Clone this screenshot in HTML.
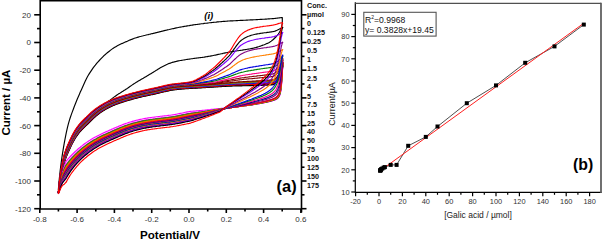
<!DOCTYPE html>
<html><head><meta charset="utf-8"><title>CV</title>
<style>
html,body{margin:0;padding:0;background:#fff;}
svg{display:block}
text{font-family:"Liberation Sans",sans-serif;fill:#222}
.tk{font-size:8px;fill:#333}
.tb{font-size:7.4px;fill:#333}
.lg{font-size:7.2px;font-weight:bold;fill:#111}
.cv path{fill:none;stroke-width:1.15;stroke-linejoin:round}
.ax path{fill:none;stroke:#000;stroke-width:1.6}
.bx path{fill:none;stroke:#000;stroke-width:1.2}
</style></head><body>
<svg width="602" height="240" viewBox="0 0 602 240">
<rect width="602" height="240" fill="#fff"/>
<g class="cv">
<path d="M58.3 190.0 L59.3 178.9 L60.3 169.5 L61.3 161.7 L62.3 154.8 L63.3 148.6 L64.3 142.9 L65.3 137.6 L66.3 132.7 L67.3 128.2 L68.3 124.2 L69.3 120.6 L70.3 117.5 L71.3 114.6 L72.3 111.9 L73.3 109.2 L74.3 106.5 L75.3 104.0 L76.3 101.5 L77.3 99.0 L78.3 96.7 L79.3 94.4 L80.3 92.1 L81.3 89.9 L82.3 87.7 L83.3 85.4 L84.3 83.2 L85.3 81.0 L86.3 78.9 L87.3 77.0 L88.3 75.3 L89.3 73.6 L90.3 72.1 L91.3 70.6 L92.3 69.1 L93.3 67.7 L94.3 66.4 L95.3 65.2 L96.3 63.9 L97.3 62.7 L98.3 61.6 L99.3 60.5 L100.3 59.4 L101.3 58.3 L102.3 57.3 L103.3 56.3 L104.3 55.4 L105.3 54.5 L106.3 53.6 L107.3 52.8 L108.3 52.0 L109.3 51.2 L110.3 50.4 L111.3 49.6 L112.3 48.9 L113.3 48.2 L114.3 47.6 L115.3 47.0 L116.3 46.4 L117.3 45.8 L118.3 45.3 L119.3 44.8 L120.3 44.3 L121.3 43.8 L122.3 43.4 L123.3 42.9 L124.3 42.5 L125.3 42.0 L126.3 41.6 L127.3 41.2 L128.3 40.7 L129.3 40.3 L130.3 39.9 L131.3 39.5 L132.3 39.1 L133.3 38.7 L134.3 38.3 L135.3 38.0 L136.3 37.7 L137.3 37.4 L138.3 37.1 L139.3 36.8 L140.3 36.5 L141.3 36.3 L142.3 36.0 L143.3 35.8 L144.3 35.5 L145.3 35.3 L146.3 35.0 L147.3 34.8 L148.3 34.6 L149.3 34.3 L150.3 34.1 L151.3 33.8 L152.3 33.6 L153.3 33.4 L154.3 33.1 L155.3 32.9 L156.3 32.6 L157.3 32.4 L158.3 32.1 L159.3 31.9 L160.3 31.6 L161.3 31.4 L162.3 31.1 L163.3 30.9 L164.3 30.6 L165.3 30.4 L166.3 30.2 L167.3 29.9 L168.3 29.7 L169.3 29.5 L170.3 29.2 L171.3 29.0 L172.3 28.8 L173.3 28.6 L174.3 28.4 L175.3 28.1 L176.3 27.9 L177.3 27.7 L178.3 27.5 L179.3 27.3 L180.3 27.1 L181.3 27.0 L182.3 26.8 L183.3 26.6 L184.3 26.4 L185.3 26.3 L186.3 26.1 L187.3 25.9 L188.3 25.7 L189.3 25.6 L190.3 25.4 L191.3 25.3 L192.3 25.1 L193.3 24.9 L194.3 24.8 L195.3 24.6 L196.3 24.5 L197.3 24.4 L198.3 24.2 L199.3 24.1 L200.3 24.0 L201.3 23.8 L202.3 23.7 L203.3 23.6 L204.3 23.4 L205.3 23.3 L206.3 23.2 L207.3 23.1 L208.3 23.0 L209.3 22.8 L210.3 22.7 L211.3 22.6 L212.3 22.5 L213.3 22.4 L214.3 22.3 L215.3 22.2 L216.3 22.1 L217.3 21.9 L218.3 21.9 L219.3 21.8 L220.3 21.7 L221.3 21.6 L222.3 21.5 L223.3 21.4 L224.3 21.3 L225.3 21.3 L226.3 21.2 L227.3 21.1 L228.3 21.0 L229.3 21.0 L230.3 20.9 L231.3 20.9 L232.3 20.8 L233.3 20.8 L234.3 20.7 L235.3 20.7 L236.3 20.6 L237.3 20.6 L238.3 20.5 L239.3 20.5 L240.3 20.4 L241.3 20.4 L242.3 20.3 L243.3 20.3 L244.3 20.2 L245.3 20.2 L246.3 20.1 L247.3 20.1 L248.3 20.0 L249.3 20.0 L250.3 19.9 L251.3 19.9 L252.3 19.8 L253.3 19.8 L254.3 19.7 L255.3 19.7 L256.3 19.6 L257.3 19.6 L258.3 19.5 L259.3 19.5 L260.3 19.4 L261.3 19.3 L262.3 19.3 L263.3 19.2 L264.3 19.2 L265.3 19.1 L266.3 19.1 L267.3 19.0 L268.3 18.9 L269.3 18.9 L270.3 18.8 L271.3 18.7 L272.3 18.6 L273.3 18.6 L274.3 18.5 L275.3 18.4 L276.3 18.3 L277.3 18.1 L278.3 18.0 L279.3 17.9 L280.3 17.8 L281.3 17.6 L282.3 17.5 L282.3 23.0 L281.3 28.6 L280.3 30.9 L279.3 32.5 L278.3 34.0 L277.3 35.3 L276.3 36.5 L275.3 37.5 L274.3 38.5 L273.3 39.5 L272.3 40.3 L271.3 41.1 L270.3 41.8 L269.3 42.4 L268.3 42.9 L267.3 43.4 L266.3 43.8 L265.3 44.3 L264.3 44.7 L263.3 45.0 L262.3 45.4 L261.3 45.8 L260.3 46.1 L259.3 46.5 L258.3 46.8 L257.3 47.1 L256.3 47.4 L255.3 47.7 L254.3 47.9 L253.3 48.2 L252.3 48.4 L251.3 48.6 L250.3 48.8 L249.3 49.0 L248.3 49.1 L247.3 49.3 L246.3 49.5 L245.3 49.6 L244.3 49.8 L243.3 49.9 L242.3 50.1 L241.3 50.2 L240.3 50.4 L239.3 50.5 L238.3 50.7 L237.3 50.8 L236.3 51.0 L235.3 51.1 L234.3 51.3 L233.3 51.4 L232.3 51.6 L231.3 51.8 L230.3 51.9 L229.3 52.1 L228.3 52.3 L227.3 52.5 L226.3 52.7 L225.3 52.9 L224.3 53.1 L223.3 53.3 L222.3 53.6 L221.3 53.8 L220.3 54.0 L219.3 54.2 L218.3 54.4 L217.3 54.6 L216.3 54.9 L215.3 55.1 L214.3 55.3 L213.3 55.5 L212.3 55.7 L211.3 55.9 L210.3 56.1 L209.3 56.3 L208.3 56.4 L207.3 56.6 L206.3 56.8 L205.3 56.9 L204.3 57.1 L203.3 57.2 L202.3 57.4 L201.3 57.5 L200.3 57.6 L199.3 57.8 L198.3 57.9 L197.3 58.0 L196.3 58.1 L195.3 58.3 L194.3 58.4 L193.3 58.5 L192.3 58.7 L191.3 58.8 L190.3 59.0 L189.3 59.1 L188.3 59.3 L187.3 59.4 L186.3 59.5 L185.3 59.7 L184.3 59.9 L183.3 60.0 L182.3 60.2 L181.3 60.4 L180.3 60.5 L179.3 60.7 L178.3 60.9 L177.3 61.1 L176.3 61.4 L175.3 61.6 L174.3 61.9 L173.3 62.1 L172.3 62.4 L171.3 62.7 L170.3 63.1 L169.3 63.4 L168.3 63.8 L167.3 64.3 L166.3 64.7 L165.3 65.2 L164.3 65.7 L163.3 66.2 L162.3 66.7 L161.3 67.2 L160.3 67.8 L159.3 68.4 L158.3 69.0 L157.3 69.7 L156.3 70.3 L155.3 70.9 L154.3 71.6 L153.3 72.2 L152.3 72.8 L151.3 73.4 L150.3 74.0 L149.3 74.6 L148.3 75.2 L147.3 75.8 L146.3 76.4 L145.3 77.0 L144.3 77.6 L143.3 78.2 L142.3 78.7 L141.3 79.3 L140.3 79.9 L139.3 80.5 L138.3 81.1 L137.3 81.7 L136.3 82.3 L135.3 82.9 L134.3 83.6 L133.3 84.2 L132.3 84.9 L131.3 85.6 L130.3 86.3 L129.3 87.0 L128.3 87.7 L127.3 88.4 L126.3 89.0 L125.3 89.7 L124.3 90.3 L123.3 91.0 L122.3 91.6 L121.3 92.2 L120.3 92.9 L119.3 93.5 L118.3 94.1 L117.3 94.8 L116.3 95.5 L115.3 96.2 L114.3 96.9 L113.3 97.6 L112.3 98.4 L111.3 99.1 L110.3 99.9 L109.3 100.6 L108.3 101.3 L107.3 102.1 L106.3 102.8 L105.3 103.5 L104.3 104.2 L103.3 104.9 L102.3 105.7 L101.3 106.4 L100.3 107.1 L99.3 107.8 L98.3 108.5 L97.3 109.1 L96.3 109.8 L95.3 110.6 L94.3 111.4 L93.3 112.3 L92.3 113.3 L91.3 114.4 L90.3 115.4 L89.3 116.5 L88.3 117.5 L87.3 118.5 L86.3 119.4 L85.3 120.2 L84.3 121.1 L83.3 121.9 L82.3 122.8 L81.3 123.7 L80.3 124.7 L79.3 125.8 L78.3 126.9 L77.3 128.1 L76.3 129.4 L75.3 130.8 L74.3 132.5 L73.3 134.5 L72.3 136.7 L71.3 138.9 L70.3 141.0 L69.3 143.2 L68.3 145.4 L67.3 147.8 L66.3 150.4 L65.3 153.2 L64.3 156.4 L63.3 159.9 L62.3 163.8 L61.3 168.5 L60.3 174.1 L59.3 181.3 L58.3 190.0" stroke="#000"/>
<path d="M58.3 193.0 L59.3 184.0 L60.3 177.0 L61.3 172.3 L62.3 168.6 L63.3 165.4 L64.3 162.6 L65.3 159.6 L66.3 156.9 L67.3 154.4 L68.3 152.1 L69.3 149.9 L70.3 147.7 L71.3 145.6 L72.3 143.6 L73.3 141.7 L74.3 140.0 L75.3 138.3 L76.3 136.7 L77.3 135.3 L78.3 133.9 L79.3 132.7 L80.3 131.5 L81.3 130.4 L82.3 129.4 L83.3 128.4 L84.3 127.4 L85.3 126.4 L86.3 125.4 L87.3 124.5 L88.3 123.5 L89.3 122.5 L90.3 121.5 L91.3 120.5 L92.3 119.5 L93.3 118.6 L94.3 117.6 L95.3 116.8 L96.3 115.9 L97.3 115.1 L98.3 114.3 L99.3 113.5 L100.3 112.8 L101.3 112.1 L102.3 111.5 L103.3 110.8 L104.3 110.2 L105.3 109.6 L106.3 109.0 L107.3 108.4 L108.3 107.9 L109.3 107.4 L110.3 106.9 L111.3 106.4 L112.3 106.0 L113.3 105.5 L114.3 105.1 L115.3 104.7 L116.3 104.3 L117.3 103.9 L118.3 103.6 L119.3 103.2 L120.3 102.9 L121.3 102.6 L122.3 102.2 L123.3 101.9 L124.3 101.6 L125.3 101.3 L126.3 101.0 L127.3 100.7 L128.3 100.4 L129.3 100.1 L130.3 99.9 L131.3 99.6 L132.3 99.3 L133.3 99.0 L134.3 98.7 L135.3 98.5 L136.3 98.2 L137.3 98.0 L138.3 97.7 L139.3 97.5 L140.3 97.2 L141.3 97.0 L142.3 96.8 L143.3 96.5 L144.3 96.3 L145.3 96.1 L146.3 95.9 L147.3 95.6 L148.3 95.4 L149.3 95.2 L150.3 95.0 L151.3 94.8 L152.3 94.6 L153.3 94.4 L154.3 94.1 L155.3 93.9 L156.3 93.7 L157.3 93.5 L158.3 93.2 L159.3 93.0 L160.3 92.8 L161.3 92.5 L162.3 92.3 L163.3 92.0 L164.3 91.8 L165.3 91.6 L166.3 91.3 L167.3 91.1 L168.3 90.9 L169.3 90.7 L170.3 90.5 L171.3 90.3 L172.3 90.2 L173.3 90.0 L174.3 89.9 L175.3 89.7 L176.3 89.6 L177.3 89.5 L178.3 89.4 L179.3 89.3 L180.3 89.2 L181.3 89.1 L182.3 89.0 L183.3 88.9 L184.3 88.8 L185.3 88.8 L186.3 88.7 L187.3 88.6 L188.3 88.6 L189.3 88.5 L190.3 88.5 L191.3 88.4 L192.3 88.4 L193.3 88.3 L194.3 88.2 L195.3 88.2 L196.3 88.1 L197.3 88.1 L198.3 88.0 L199.3 88.0 L200.3 87.9 L201.3 87.8 L202.3 87.8 L203.3 87.7 L204.3 87.7 L205.3 87.6 L206.3 87.5 L207.3 87.5 L208.3 87.4 L209.3 87.4 L210.3 87.3 L211.3 87.2 L212.3 87.2 L213.3 87.1 L214.3 87.0 L215.3 87.0 L216.3 86.9 L217.3 86.8 L218.3 86.8 L219.3 86.7 L220.3 86.6 L221.3 86.6 L222.3 86.5 L223.3 86.4 L224.3 86.4 L225.3 86.3 L226.3 86.3 L227.3 86.2 L228.3 86.2 L229.3 86.1 L230.3 86.1 L231.3 86.1 L232.3 86.0 L233.3 86.0 L234.3 85.9 L235.3 85.9 L236.3 85.9 L237.3 85.9 L238.3 85.8 L239.3 85.8 L240.3 85.8 L241.3 85.8 L242.3 85.8 L243.3 85.7 L244.3 85.7 L245.3 85.7 L246.3 85.7 L247.3 85.6 L248.3 85.6 L249.3 85.6 L250.3 85.6 L251.3 85.6 L252.3 85.5 L253.3 85.5 L254.3 85.5 L255.3 85.5 L256.3 85.4 L257.3 85.4 L258.3 85.4 L259.3 85.3 L260.3 85.3 L261.3 85.3 L262.3 85.3 L263.3 85.2 L264.3 85.2 L265.3 85.2 L266.3 85.1 L267.3 85.1 L268.0 85.1 L268.5 85.0 L269.0 85.0 L269.5 85.0 L270.0 85.0 L270.5 85.0 L271.0 85.0 L271.5 84.9 L272.0 84.9 L272.5 84.8 L273.0 84.7 L273.5 84.5 L274.0 84.3 L274.5 84.0 L275.0 83.7 L275.5 83.3 L276.0 82.9 L276.5 82.4 L277.0 81.8 L277.5 81.1 L278.0 80.3 L278.5 79.4 L279.0 78.3 L279.5 77.2 L280.0 76.0 L280.5 74.6 L281.0 73.1 L281.5 71.4 L282.0 69.7 L282.5 67.7 L283.0 65.6" stroke="#000000"/>
<path d="M283.0 65.6 L282.8 66.9 L282.5 70.0 L282.2 74.1 L282.0 78.3 L281.8 82.0 L281.5 85.1 L281.2 87.6 L281.0 89.6 L280.8 91.2 L280.5 92.5 L280.2 93.6 L280.0 94.5 L279.8 95.2 L279.5 95.8 L279.2 96.3 L279.0 96.7 L278.8 97.1 L278.5 97.5 L278.2 97.7 L278.0 98.0 L277.8 98.2 L277.5 98.5 L277.2 98.7 L277.0 98.8 L276.8 99.0 L276.5 99.2 L276.2 99.3 L276.0 99.4 L275.8 99.5 L275.5 99.7 L275.2 99.8 L275.0 99.9 L274.8 100.0 L274.5 100.1 L274.2 100.2 L274.0 100.2 L273.8 100.3 L273.5 100.4 L273.2 100.5 L273.0 100.6 L272.8 100.6 L272.5 100.7 L272.2 100.8 L272.0 100.9 L271.8 100.9 L271.5 101.0 L271.2 101.1 L271.0 101.1 L270.8 101.2 L270.5 101.3 L270.2 101.3 L270.0 101.4 L269.8 101.4 L269.5 101.5 L269.2 101.6 L269.0 101.6 L268.8 101.7 L268.5 101.7 L268.2 101.8 L268.0 101.9 L267.8 101.9 L267.5 102.0 L267.2 102.0 L267.0 102.1 L266.8 102.1 L266.5 102.2 L266.2 102.2 L266.0 102.3 L265.8 102.3 L265.5 102.4 L265.2 102.4 L265.0 102.5 L264.8 102.5 L264.5 102.6 L264.2 102.6 L264.0 102.7 L263.8 102.7 L263.5 102.8 L263.2 102.8 L263.0 102.9 L262.8 102.9 L262.5 103.0 L262.2 103.0 L262.0 103.1 L261.3 103.2 L260.3 103.4 L259.3 103.6 L258.3 103.7 L257.3 103.9 L256.3 104.1 L255.3 104.3 L254.3 104.4 L253.3 104.6 L252.3 104.8 L251.3 104.9 L250.3 105.1 L249.3 105.2 L248.3 105.3 L247.3 105.4 L246.3 105.6 L245.3 105.7 L244.3 105.8 L243.3 105.9 L242.3 106.1 L241.3 106.2 L240.3 106.3 L239.3 106.4 L238.3 106.6 L237.3 106.7 L236.3 106.8 L235.3 106.9 L234.3 107.0 L233.3 107.1 L232.3 107.2 L231.3 107.4 L230.3 107.5 L229.3 107.6 L228.3 107.7 L227.3 107.8 L226.3 108.0 L225.3 108.1 L224.3 108.2 L223.3 108.3 L222.3 108.3 L221.3 108.4 L220.3 108.5 L219.3 108.6 L218.3 108.7 L217.3 108.8 L216.3 108.9 L215.3 109.0 L214.3 109.1 L213.3 109.2 L212.3 109.3 L211.3 109.4 L210.3 109.6 L209.3 109.7 L208.3 109.8 L207.3 109.9 L206.3 110.0 L205.3 110.1 L204.3 110.2 L203.3 110.3 L202.3 110.4 L201.3 110.5 L200.3 110.6 L199.3 110.6 L198.3 110.7 L197.3 110.8 L196.3 110.9 L195.3 111.0 L194.3 111.1 L193.3 111.1 L192.3 111.2 L191.3 111.3 L190.3 111.4 L189.3 111.5 L188.3 111.7 L187.3 111.9 L186.3 112.1 L185.3 112.3 L184.3 112.5 L183.3 112.8 L182.3 113.0 L181.3 113.2 L180.3 113.4 L179.3 113.6 L178.3 113.8 L177.3 114.0 L176.3 114.2 L175.3 114.4 L174.3 114.5 L173.3 114.7 L172.3 114.9 L171.3 115.0 L170.3 115.2 L169.3 115.3 L168.3 115.4 L167.3 115.5 L166.3 115.7 L165.3 115.8 L164.3 115.9 L163.3 116.0 L162.3 116.1 L161.3 116.2 L160.3 116.3 L159.3 116.5 L158.3 116.6 L157.3 116.7 L156.3 116.8 L155.3 117.0 L154.3 117.1 L153.3 117.2 L152.3 117.3 L151.3 117.5 L150.3 117.6 L149.3 117.8 L148.3 117.9 L147.3 118.1 L146.3 118.3 L145.3 118.4 L144.3 118.6 L143.3 118.8 L142.3 119.0 L141.3 119.2 L140.3 119.4 L139.3 119.6 L138.3 119.9 L137.3 120.1 L136.3 120.3 L135.3 120.6 L134.3 120.9 L133.3 121.1 L132.3 121.4 L131.3 121.7 L130.3 122.0 L129.3 122.3 L128.3 122.6 L127.3 123.0 L126.3 123.3 L125.3 123.6 L124.3 124.0 L123.3 124.4 L122.3 124.8 L121.3 125.2 L120.3 125.6 L119.3 126.0 L118.3 126.4 L117.3 126.9 L116.3 127.3 L115.3 127.7 L114.3 128.1 L113.3 128.6 L112.3 129.0 L111.3 129.4 L110.3 129.9 L109.3 130.3 L108.3 130.8 L107.3 131.2 L106.3 131.6 L105.3 132.1 L104.3 132.5 L103.3 133.0 L102.3 133.5 L101.3 133.9 L100.3 134.4 L99.3 134.9 L98.3 135.4 L97.3 135.9 L96.3 136.5 L95.3 137.0 L94.3 137.6 L93.3 138.1 L92.3 138.7 L91.3 139.3 L90.3 139.9 L89.3 140.6 L88.3 141.2 L87.3 141.9 L86.3 142.6 L85.3 143.3 L84.3 144.0 L83.3 144.8 L82.3 145.6 L81.3 146.3 L80.3 147.2 L79.3 148.0 L78.3 148.8 L77.3 149.7 L76.3 150.6 L75.3 151.5 L74.3 152.5 L73.3 153.5 L72.3 154.5 L71.3 155.5 L70.3 156.5 L69.3 157.6 L68.3 158.7 L67.3 159.8 L66.3 160.9 L65.3 163.1 L64.3 165.5 L63.3 169.0 L62.3 172.8 L61.3 177.3 L60.3 182.4 L59.3 187.8 L58.3 193.0" stroke="#ff00ff"/>
<path d="M58.3 193.0 L59.3 183.9 L60.3 176.8 L61.3 172.1 L62.3 168.3 L63.3 165.0 L64.3 162.1 L65.3 159.1 L66.3 156.4 L67.3 154.0 L68.3 151.6 L69.3 149.4 L70.3 147.2 L71.3 145.1 L72.3 143.1 L73.3 141.2 L74.3 139.5 L75.3 137.8 L76.3 136.2 L77.3 134.8 L78.3 133.4 L79.3 132.2 L80.3 131.1 L81.3 130.0 L82.3 128.9 L83.3 127.9 L84.3 126.9 L85.3 126.0 L86.3 125.0 L87.3 124.0 L88.3 123.0 L89.3 122.0 L90.3 121.0 L91.3 120.1 L92.3 119.1 L93.3 118.1 L94.3 117.2 L95.3 116.3 L96.3 115.5 L97.3 114.7 L98.3 113.9 L99.3 113.1 L100.3 112.4 L101.3 111.7 L102.3 111.1 L103.3 110.4 L104.3 109.8 L105.3 109.2 L106.3 108.6 L107.3 108.1 L108.3 107.5 L109.3 107.0 L110.3 106.5 L111.3 106.1 L112.3 105.6 L113.3 105.2 L114.3 104.8 L115.3 104.4 L116.3 104.0 L117.3 103.6 L118.3 103.2 L119.3 102.9 L120.3 102.5 L121.3 102.2 L122.3 101.9 L123.3 101.6 L124.3 101.3 L125.3 101.0 L126.3 100.7 L127.3 100.4 L128.3 100.1 L129.3 99.8 L130.3 99.5 L131.3 99.2 L132.3 98.9 L133.3 98.7 L134.3 98.4 L135.3 98.1 L136.3 97.9 L137.3 97.6 L138.3 97.4 L139.3 97.1 L140.3 96.9 L141.3 96.6 L142.3 96.4 L143.3 96.2 L144.3 96.0 L145.3 95.7 L146.3 95.5 L147.3 95.3 L148.3 95.1 L149.3 94.9 L150.3 94.7 L151.3 94.4 L152.3 94.2 L153.3 94.0 L154.3 93.8 L155.3 93.6 L156.3 93.4 L157.3 93.1 L158.3 92.9 L159.3 92.7 L160.3 92.4 L161.3 92.2 L162.3 91.9 L163.3 91.7 L164.3 91.5 L165.3 91.2 L166.3 91.0 L167.3 90.8 L168.3 90.6 L169.3 90.4 L170.3 90.2 L171.3 90.0 L172.3 89.8 L173.3 89.7 L174.3 89.5 L175.3 89.4 L176.3 89.3 L177.3 89.2 L178.3 89.1 L179.3 88.9 L180.3 88.9 L181.3 88.8 L182.3 88.7 L183.3 88.6 L184.3 88.5 L185.3 88.4 L186.3 88.4 L187.3 88.3 L188.3 88.2 L189.3 88.2 L190.3 88.1 L191.3 88.1 L192.3 88.0 L193.3 88.0 L194.3 87.9 L195.3 87.8 L196.3 87.8 L197.3 87.7 L198.3 87.7 L199.3 87.6 L200.3 87.6 L201.3 87.5 L202.3 87.4 L203.3 87.4 L204.3 87.3 L205.3 87.3 L206.3 87.2 L207.3 87.1 L208.3 87.1 L209.3 87.0 L210.3 86.9 L211.3 86.9 L212.3 86.8 L213.3 86.7 L214.3 86.7 L215.3 86.6 L216.3 86.5 L217.3 86.5 L218.3 86.4 L219.3 86.3 L220.3 86.2 L221.3 86.2 L222.3 86.1 L223.3 86.0 L224.3 86.0 L225.3 85.9 L226.3 85.9 L227.3 85.8 L228.3 85.8 L229.3 85.7 L230.3 85.7 L231.3 85.6 L232.3 85.6 L233.3 85.5 L234.3 85.5 L235.3 85.4 L236.3 85.4 L237.3 85.4 L238.3 85.4 L239.3 85.3 L240.3 85.3 L241.3 85.3 L242.3 85.2 L243.3 85.2 L244.3 85.2 L245.3 85.2 L246.3 85.1 L247.3 85.1 L248.3 85.1 L249.3 85.1 L250.3 85.0 L251.3 85.0 L252.3 85.0 L253.3 85.0 L254.3 84.9 L255.3 84.9 L256.3 84.9 L257.3 84.8 L258.3 84.8 L259.3 84.8 L260.3 84.7 L261.3 84.7 L262.3 84.7 L263.3 84.6 L264.3 84.6 L265.3 84.6 L266.3 84.5 L267.3 84.5 L268.0 84.5 L268.5 84.4 L269.0 84.4 L269.5 84.4 L270.0 84.4 L270.5 84.4 L271.0 84.3 L271.5 84.3 L272.0 84.2 L272.5 84.1 L273.0 84.0 L273.5 83.9 L274.0 83.7 L274.5 83.4 L275.0 83.1 L275.5 82.7 L276.0 82.3 L276.5 81.8 L277.0 81.1 L277.5 80.4 L278.0 79.7 L278.5 78.8 L279.0 77.8 L279.5 76.6 L280.0 75.4 L280.5 74.0 L281.0 72.6 L281.5 70.9 L282.0 69.2 L282.5 67.2 L283.0 65.2" stroke="#000000"/>
<path d="M283.0 65.2 L282.8 66.3 L282.5 69.4 L282.2 73.4 L282.0 77.4 L281.8 81.1 L281.5 84.3 L281.2 86.9 L281.0 88.9 L280.8 90.6 L280.5 92.0 L280.2 93.1 L280.0 94.0 L279.8 94.8 L279.5 95.5 L279.2 96.0 L279.0 96.5 L278.8 96.9 L278.5 97.2 L278.2 97.5 L278.0 97.8 L277.8 98.1 L277.5 98.3 L277.2 98.5 L277.0 98.7 L276.8 98.9 L276.5 99.0 L276.2 99.2 L276.0 99.3 L275.8 99.4 L275.5 99.6 L275.2 99.7 L275.0 99.8 L274.8 99.9 L274.5 100.0 L274.2 100.1 L274.0 100.2 L273.8 100.3 L273.5 100.4 L273.2 100.4 L273.0 100.5 L272.8 100.6 L272.5 100.7 L272.2 100.7 L272.0 100.8 L271.8 100.9 L271.5 101.0 L271.2 101.0 L271.0 101.1 L270.8 101.2 L270.5 101.2 L270.2 101.3 L270.0 101.4 L269.8 101.4 L269.5 101.5 L269.2 101.5 L269.0 101.6 L268.8 101.7 L268.5 101.7 L268.2 101.8 L268.0 101.8 L267.8 101.9 L267.5 102.0 L267.2 102.0 L267.0 102.1 L266.8 102.1 L266.5 102.2 L266.2 102.2 L266.0 102.3 L265.8 102.3 L265.5 102.4 L265.2 102.4 L265.0 102.5 L264.8 102.6 L264.5 102.6 L264.2 102.7 L264.0 102.7 L263.8 102.8 L263.5 102.8 L263.2 102.8 L263.0 102.9 L262.8 102.9 L262.5 103.0 L262.2 103.0 L262.0 103.1 L261.3 103.2 L260.3 103.4 L259.3 103.6 L258.3 103.8 L257.3 103.9 L256.3 104.1 L255.3 104.3 L254.3 104.5 L253.3 104.7 L252.3 104.9 L251.3 105.0 L250.3 105.1 L249.3 105.3 L248.3 105.4 L247.3 105.5 L246.3 105.7 L245.3 105.8 L244.3 105.9 L243.3 106.1 L242.3 106.2 L241.3 106.3 L240.3 106.4 L239.3 106.6 L238.3 106.7 L237.3 106.8 L236.3 106.9 L235.3 107.1 L234.3 107.2 L233.3 107.3 L232.3 107.4 L231.3 107.5 L230.3 107.7 L229.3 107.8 L228.3 107.9 L227.3 108.0 L226.3 108.2 L225.3 108.3 L224.3 108.5 L223.3 108.6 L222.3 108.6 L221.3 108.7 L220.3 108.9 L219.3 109.0 L218.3 109.2 L217.3 109.3 L216.3 109.5 L215.3 109.6 L214.3 109.8 L213.3 109.9 L212.3 110.1 L211.3 110.2 L210.3 110.4 L209.3 110.5 L208.3 110.7 L207.3 110.8 L206.3 111.0 L205.3 111.1 L204.3 111.3 L203.3 111.4 L202.3 111.5 L201.3 111.7 L200.3 111.8 L199.3 111.9 L198.3 112.1 L197.3 112.2 L196.3 112.3 L195.3 112.4 L194.3 112.6 L193.3 112.7 L192.3 112.8 L191.3 112.9 L190.3 113.0 L189.3 113.2 L188.3 113.4 L187.3 113.6 L186.3 113.8 L185.3 114.0 L184.3 114.2 L183.3 114.4 L182.3 114.6 L181.3 114.9 L180.3 115.1 L179.3 115.3 L178.3 115.5 L177.3 115.7 L176.3 115.8 L175.3 116.0 L174.3 116.2 L173.3 116.4 L172.3 116.5 L171.3 116.7 L170.3 116.8 L169.3 117.0 L168.3 117.1 L167.3 117.2 L166.3 117.3 L165.3 117.4 L164.3 117.6 L163.3 117.7 L162.3 117.8 L161.3 117.9 L160.3 118.0 L159.3 118.1 L158.3 118.2 L157.3 118.4 L156.3 118.5 L155.3 118.6 L154.3 118.7 L153.3 118.9 L152.3 119.0 L151.3 119.2 L150.3 119.3 L149.3 119.5 L148.3 119.6 L147.3 119.8 L146.3 119.9 L145.3 120.1 L144.3 120.3 L143.3 120.5 L142.3 120.7 L141.3 120.9 L140.3 121.1 L139.3 121.3 L138.3 121.6 L137.3 121.8 L136.3 122.1 L135.3 122.3 L134.3 122.6 L133.3 122.8 L132.3 123.1 L131.3 123.4 L130.3 123.7 L129.3 124.0 L128.3 124.4 L127.3 124.7 L126.3 125.1 L125.3 125.4 L124.3 125.8 L123.3 126.2 L122.3 126.6 L121.3 127.0 L120.3 127.4 L119.3 127.8 L118.3 128.2 L117.3 128.6 L116.3 129.1 L115.3 129.5 L114.3 129.9 L113.3 130.4 L112.3 130.8 L111.3 131.2 L110.3 131.7 L109.3 132.1 L108.3 132.6 L107.3 133.0 L106.3 133.5 L105.3 133.9 L104.3 134.4 L103.3 134.8 L102.3 135.3 L101.3 135.8 L100.3 136.3 L99.3 136.8 L98.3 137.3 L97.3 137.8 L96.3 138.4 L95.3 138.9 L94.3 139.5 L93.3 140.1 L92.3 140.7 L91.3 141.3 L90.3 141.9 L89.3 142.6 L88.3 143.3 L87.3 144.0 L86.3 144.7 L85.3 145.4 L84.3 146.2 L83.3 146.9 L82.3 147.7 L81.3 148.5 L80.3 149.4 L79.3 150.2 L78.3 151.1 L77.3 152.0 L76.3 152.9 L75.3 153.9 L74.3 154.9 L73.3 156.0 L72.3 157.0 L71.3 158.1 L70.3 159.2 L69.3 160.3 L68.3 161.5 L67.3 162.8 L66.3 164.0 L65.3 166.0 L64.3 168.2 L63.3 171.3 L62.3 174.6 L61.3 178.6 L60.3 183.3 L59.3 188.2 L58.3 193.0" stroke="#ff00ff"/>
<path d="M58.3 193.0 L59.3 183.8 L60.3 176.7 L61.3 171.9 L62.3 168.0 L63.3 164.6 L64.3 161.7 L65.3 158.7 L66.3 156.0 L67.3 153.5 L68.3 151.2 L69.3 148.9 L70.3 146.8 L71.3 144.7 L72.3 142.6 L73.3 140.8 L74.3 139.0 L75.3 137.3 L76.3 135.8 L77.3 134.3 L78.3 133.0 L79.3 131.7 L80.3 130.6 L81.3 129.5 L82.3 128.5 L83.3 127.5 L84.3 126.5 L85.3 125.5 L86.3 124.5 L87.3 123.5 L88.3 122.6 L89.3 121.6 L90.3 120.6 L91.3 119.6 L92.3 118.6 L93.3 117.7 L94.3 116.8 L95.3 115.9 L96.3 115.1 L97.3 114.2 L98.3 113.5 L99.3 112.7 L100.3 112.0 L101.3 111.3 L102.3 110.7 L103.3 110.0 L104.3 109.4 L105.3 108.8 L106.3 108.2 L107.3 107.7 L108.3 107.2 L109.3 106.7 L110.3 106.2 L111.3 105.7 L112.3 105.2 L113.3 104.8 L114.3 104.4 L115.3 104.0 L116.3 103.6 L117.3 103.2 L118.3 102.9 L119.3 102.5 L120.3 102.2 L121.3 101.9 L122.3 101.5 L123.3 101.2 L124.3 100.9 L125.3 100.6 L126.3 100.3 L127.3 100.0 L128.3 99.7 L129.3 99.4 L130.3 99.2 L131.3 98.9 L132.3 98.6 L133.3 98.3 L134.3 98.1 L135.3 97.8 L136.3 97.5 L137.3 97.3 L138.3 97.0 L139.3 96.8 L140.3 96.5 L141.3 96.3 L142.3 96.1 L143.3 95.8 L144.3 95.6 L145.3 95.4 L146.3 95.2 L147.3 95.0 L148.3 94.7 L149.3 94.5 L150.3 94.3 L151.3 94.1 L152.3 93.9 L153.3 93.7 L154.3 93.5 L155.3 93.2 L156.3 93.0 L157.3 92.8 L158.3 92.6 L159.3 92.3 L160.3 92.1 L161.3 91.9 L162.3 91.6 L163.3 91.4 L164.3 91.1 L165.3 90.9 L166.3 90.6 L167.3 90.4 L168.3 90.2 L169.3 90.0 L170.3 89.8 L171.3 89.7 L172.3 89.5 L173.3 89.3 L174.3 89.2 L175.3 89.1 L176.3 88.9 L177.3 88.8 L178.3 88.7 L179.3 88.6 L180.3 88.5 L181.3 88.4 L182.3 88.3 L183.3 88.3 L184.3 88.2 L185.3 88.1 L186.3 88.0 L187.3 88.0 L188.3 87.9 L189.3 87.9 L190.3 87.8 L191.3 87.7 L192.3 87.7 L193.3 87.6 L194.3 87.6 L195.3 87.5 L196.3 87.4 L197.3 87.4 L198.3 87.3 L199.3 87.3 L200.3 87.2 L201.3 87.2 L202.3 87.1 L203.3 87.0 L204.3 87.0 L205.3 86.9 L206.3 86.8 L207.3 86.8 L208.3 86.7 L209.3 86.7 L210.3 86.6 L211.3 86.5 L212.3 86.4 L213.3 86.4 L214.3 86.3 L215.3 86.2 L216.3 86.2 L217.3 86.1 L218.3 86.0 L219.3 85.9 L220.3 85.9 L221.3 85.8 L222.3 85.7 L223.3 85.6 L224.3 85.6 L225.3 85.5 L226.3 85.4 L227.3 85.4 L228.3 85.3 L229.3 85.3 L230.3 85.2 L231.3 85.2 L232.3 85.1 L233.3 85.1 L234.3 85.0 L235.3 85.0 L236.3 84.9 L237.3 84.9 L238.3 84.9 L239.3 84.8 L240.3 84.8 L241.3 84.8 L242.3 84.7 L243.3 84.7 L244.3 84.7 L245.3 84.6 L246.3 84.6 L247.3 84.6 L248.3 84.6 L249.3 84.5 L250.3 84.5 L251.3 84.5 L252.3 84.4 L253.3 84.4 L254.3 84.4 L255.3 84.3 L256.3 84.3 L257.3 84.3 L258.3 84.2 L259.3 84.2 L260.3 84.2 L261.3 84.1 L262.3 84.1 L263.3 84.0 L264.3 84.0 L265.3 84.0 L266.3 83.9 L267.3 83.9 L268.0 83.8 L268.5 83.8 L269.0 83.8 L269.5 83.8 L270.0 83.8 L270.5 83.7 L271.0 83.7 L271.5 83.7 L272.0 83.6 L272.5 83.5 L273.0 83.4 L273.5 83.2 L274.0 83.0 L274.5 82.8 L275.0 82.5 L275.5 82.1 L276.0 81.7 L276.5 81.1 L277.0 80.5 L277.5 79.8 L278.0 79.0 L278.5 78.2 L279.0 77.2 L279.5 76.1 L280.0 74.8 L280.5 73.5 L281.0 72.0 L281.5 70.4 L282.0 68.7 L282.5 66.8 L283.0 64.7" stroke="#c00000"/>
<path d="M283.0 64.7 L282.8 65.8 L282.5 68.7 L282.2 72.5 L282.0 76.6 L281.8 80.2 L281.5 83.4 L281.2 86.0 L281.0 88.2 L280.8 89.9 L280.5 91.3 L280.2 92.5 L280.0 93.5 L279.8 94.3 L279.5 95.0 L279.2 95.5 L279.0 96.0 L278.8 96.5 L278.5 96.8 L278.2 97.2 L278.0 97.5 L277.8 97.7 L277.5 98.0 L277.2 98.2 L277.0 98.4 L276.8 98.6 L276.5 98.7 L276.2 98.9 L276.0 99.0 L275.8 99.2 L275.5 99.3 L275.2 99.4 L275.0 99.5 L274.8 99.6 L274.5 99.7 L274.2 99.8 L274.0 99.9 L273.8 100.0 L273.5 100.1 L273.2 100.2 L273.0 100.3 L272.8 100.4 L272.5 100.4 L272.2 100.5 L272.0 100.6 L271.8 100.7 L271.5 100.7 L271.2 100.8 L271.0 100.9 L270.8 101.0 L270.5 101.0 L270.2 101.1 L270.0 101.2 L269.8 101.2 L269.5 101.3 L269.2 101.3 L269.0 101.4 L268.8 101.5 L268.5 101.5 L268.2 101.6 L268.0 101.7 L267.8 101.7 L267.5 101.8 L267.2 101.8 L267.0 101.9 L266.8 101.9 L266.5 102.0 L266.2 102.1 L266.0 102.1 L265.8 102.2 L265.5 102.2 L265.2 102.3 L265.0 102.3 L264.8 102.4 L264.5 102.4 L264.2 102.5 L264.0 102.5 L263.8 102.6 L263.5 102.6 L263.2 102.7 L263.0 102.7 L262.8 102.8 L262.5 102.8 L262.2 102.9 L262.0 102.9 L261.3 103.1 L260.3 103.2 L259.3 103.4 L258.3 103.6 L257.3 103.8 L256.3 104.0 L255.3 104.2 L254.3 104.3 L253.3 104.5 L252.3 104.7 L251.3 104.9 L250.3 105.0 L249.3 105.1 L248.3 105.3 L247.3 105.4 L246.3 105.6 L245.3 105.7 L244.3 105.8 L243.3 106.0 L242.3 106.1 L241.3 106.3 L240.3 106.4 L239.3 106.5 L238.3 106.7 L237.3 106.8 L236.3 106.9 L235.3 107.0 L234.3 107.2 L233.3 107.3 L232.3 107.4 L231.3 107.5 L230.3 107.7 L229.3 107.8 L228.3 107.9 L227.3 108.1 L226.3 108.2 L225.3 108.4 L224.3 108.5 L223.3 108.6 L222.3 108.7 L221.3 108.8 L220.3 109.0 L219.3 109.2 L218.3 109.3 L217.3 109.5 L216.3 109.6 L215.3 109.8 L214.3 110.0 L213.3 110.1 L212.3 110.3 L211.3 110.5 L210.3 110.6 L209.3 110.8 L208.3 110.9 L207.3 111.1 L206.3 111.3 L205.3 111.4 L204.3 111.6 L203.3 111.7 L202.3 111.9 L201.3 112.0 L200.3 112.2 L199.3 112.3 L198.3 112.4 L197.3 112.6 L196.3 112.7 L195.3 112.8 L194.3 113.0 L193.3 113.1 L192.3 113.2 L191.3 113.4 L190.3 113.5 L189.3 113.7 L188.3 113.9 L187.3 114.1 L186.3 114.3 L185.3 114.5 L184.3 114.7 L183.3 114.9 L182.3 115.1 L181.3 115.3 L180.3 115.5 L179.3 115.7 L178.3 115.9 L177.3 116.1 L176.3 116.3 L175.3 116.5 L174.3 116.7 L173.3 116.8 L172.3 117.0 L171.3 117.1 L170.3 117.3 L169.3 117.4 L168.3 117.5 L167.3 117.7 L166.3 117.8 L165.3 117.9 L164.3 118.0 L163.3 118.1 L162.3 118.2 L161.3 118.3 L160.3 118.5 L159.3 118.6 L158.3 118.7 L157.3 118.8 L156.3 118.9 L155.3 119.1 L154.3 119.2 L153.3 119.3 L152.3 119.5 L151.3 119.6 L150.3 119.8 L149.3 119.9 L148.3 120.1 L147.3 120.2 L146.3 120.4 L145.3 120.6 L144.3 120.8 L143.3 120.9 L142.3 121.1 L141.3 121.4 L140.3 121.6 L139.3 121.8 L138.3 122.0 L137.3 122.3 L136.3 122.5 L135.3 122.8 L134.3 123.0 L133.3 123.3 L132.3 123.6 L131.3 123.9 L130.3 124.2 L129.3 124.5 L128.3 124.8 L127.3 125.2 L126.3 125.5 L125.3 125.9 L124.3 126.3 L123.3 126.7 L122.3 127.1 L121.3 127.5 L120.3 127.9 L119.3 128.3 L118.3 128.7 L117.3 129.1 L116.3 129.6 L115.3 130.0 L114.3 130.4 L113.3 130.9 L112.3 131.3 L111.3 131.7 L110.3 132.2 L109.3 132.6 L108.3 133.1 L107.3 133.5 L106.3 134.0 L105.3 134.4 L104.3 134.9 L103.3 135.3 L102.3 135.8 L101.3 136.3 L100.3 136.8 L99.3 137.3 L98.3 137.8 L97.3 138.3 L96.3 138.9 L95.3 139.4 L94.3 140.0 L93.3 140.6 L92.3 141.2 L91.3 141.8 L90.3 142.5 L89.3 143.1 L88.3 143.8 L87.3 144.5 L86.3 145.2 L85.3 146.0 L84.3 146.7 L83.3 147.5 L82.3 148.3 L81.3 149.1 L80.3 150.0 L79.3 150.9 L78.3 151.7 L77.3 152.7 L76.3 153.6 L75.3 154.6 L74.3 155.6 L73.3 156.6 L72.3 157.7 L71.3 158.8 L70.3 159.9 L69.3 161.1 L68.3 162.3 L67.3 163.6 L66.3 164.8 L65.3 166.8 L64.3 168.9 L63.3 171.9 L62.3 175.1 L61.3 179.0 L60.3 183.6 L59.3 188.4 L58.3 193.0" stroke="#008000"/>
<path d="M58.3 193.0 L59.3 183.7 L60.3 176.5 L61.3 171.6 L62.3 167.7 L63.3 164.2 L64.3 161.2 L65.3 158.2 L66.3 155.5 L67.3 153.0 L68.3 150.7 L69.3 148.5 L70.3 146.3 L71.3 144.2 L72.3 142.2 L73.3 140.3 L74.3 138.6 L75.3 136.9 L76.3 135.3 L77.3 133.9 L78.3 132.5 L79.3 131.3 L80.3 130.1 L81.3 129.0 L82.3 128.0 L83.3 127.0 L84.3 126.0 L85.3 125.0 L86.3 124.0 L87.3 123.1 L88.3 122.1 L89.3 121.1 L90.3 120.1 L91.3 119.1 L92.3 118.2 L93.3 117.2 L94.3 116.3 L95.3 115.5 L96.3 114.6 L97.3 113.8 L98.3 113.1 L99.3 112.3 L100.3 111.6 L101.3 110.9 L102.3 110.3 L103.3 109.6 L104.3 109.0 L105.3 108.4 L106.3 107.9 L107.3 107.3 L108.3 106.8 L109.3 106.3 L110.3 105.8 L111.3 105.3 L112.3 104.9 L113.3 104.5 L114.3 104.0 L115.3 103.6 L116.3 103.3 L117.3 102.9 L118.3 102.5 L119.3 102.2 L120.3 101.8 L121.3 101.5 L122.3 101.2 L123.3 100.9 L124.3 100.6 L125.3 100.3 L126.3 100.0 L127.3 99.7 L128.3 99.4 L129.3 99.1 L130.3 98.8 L131.3 98.5 L132.3 98.3 L133.3 98.0 L134.3 97.7 L135.3 97.4 L136.3 97.2 L137.3 96.9 L138.3 96.7 L139.3 96.4 L140.3 96.2 L141.3 96.0 L142.3 95.7 L143.3 95.5 L144.3 95.3 L145.3 95.1 L146.3 94.8 L147.3 94.6 L148.3 94.4 L149.3 94.2 L150.3 94.0 L151.3 93.8 L152.3 93.5 L153.3 93.3 L154.3 93.1 L155.3 92.9 L156.3 92.7 L157.3 92.5 L158.3 92.2 L159.3 92.0 L160.3 91.7 L161.3 91.5 L162.3 91.3 L163.3 91.0 L164.3 90.8 L165.3 90.5 L166.3 90.3 L167.3 90.1 L168.3 89.9 L169.3 89.7 L170.3 89.5 L171.3 89.3 L172.3 89.2 L173.3 89.0 L174.3 88.9 L175.3 88.7 L176.3 88.6 L177.3 88.5 L178.3 88.4 L179.3 88.3 L180.3 88.2 L181.3 88.1 L182.3 88.0 L183.3 87.9 L184.3 87.8 L185.3 87.8 L186.3 87.7 L187.3 87.6 L188.3 87.6 L189.3 87.5 L190.3 87.5 L191.3 87.4 L192.3 87.3 L193.3 87.3 L194.3 87.2 L195.3 87.2 L196.3 87.1 L197.3 87.1 L198.3 87.0 L199.3 86.9 L200.3 86.9 L201.3 86.8 L202.3 86.7 L203.3 86.7 L204.3 86.6 L205.3 86.6 L206.3 86.5 L207.3 86.4 L208.3 86.4 L209.3 86.3 L210.3 86.2 L211.3 86.2 L212.3 86.1 L213.3 86.0 L214.3 86.0 L215.3 85.9 L216.3 85.8 L217.3 85.7 L218.3 85.6 L219.3 85.6 L220.3 85.5 L221.3 85.4 L222.3 85.3 L223.3 85.2 L224.3 85.2 L225.3 85.1 L226.3 85.0 L227.3 85.0 L228.3 84.9 L229.3 84.8 L230.3 84.8 L231.3 84.7 L232.3 84.7 L233.3 84.6 L234.3 84.6 L235.3 84.5 L236.3 84.5 L237.3 84.4 L238.3 84.4 L239.3 84.3 L240.3 84.3 L241.3 84.3 L242.3 84.2 L243.3 84.2 L244.3 84.2 L245.3 84.1 L246.3 84.1 L247.3 84.1 L248.3 84.0 L249.3 84.0 L250.3 84.0 L251.3 83.9 L252.3 83.9 L253.3 83.8 L254.3 83.8 L255.3 83.8 L256.3 83.7 L257.3 83.7 L258.3 83.7 L259.3 83.6 L260.3 83.6 L261.3 83.5 L262.3 83.5 L263.3 83.4 L264.3 83.4 L265.3 83.4 L266.3 83.3 L267.3 83.3 L268.0 83.2 L268.5 83.2 L269.0 83.2 L269.5 83.2 L270.0 83.2 L270.5 83.1 L271.0 83.1 L271.5 83.1 L272.0 83.0 L272.5 82.9 L273.0 82.8 L273.5 82.6 L274.0 82.4 L274.5 82.2 L275.0 81.9 L275.5 81.5 L276.0 81.0 L276.5 80.5 L277.0 79.9 L277.5 79.2 L278.0 78.4 L278.5 77.6 L279.0 76.6 L279.5 75.5 L280.0 74.3 L280.5 72.9 L281.0 71.5 L281.5 69.9 L282.0 68.1 L282.5 66.3 L283.0 64.2" stroke="#ff0000"/>
<path d="M283.0 64.2 L282.8 65.3 L282.5 68.1 L282.2 71.8 L282.0 75.7 L281.8 79.3 L281.5 82.5 L281.2 85.2 L281.0 87.4 L280.8 89.2 L280.5 90.7 L280.2 91.9 L280.0 92.9 L279.8 93.7 L279.5 94.4 L279.2 95.1 L279.0 95.6 L278.8 96.0 L278.5 96.4 L278.2 96.8 L278.0 97.1 L277.8 97.4 L277.5 97.6 L277.2 97.9 L277.0 98.1 L276.8 98.3 L276.5 98.4 L276.2 98.6 L276.0 98.7 L275.8 98.9 L275.5 99.0 L275.2 99.2 L275.0 99.3 L274.8 99.4 L274.5 99.5 L274.2 99.6 L274.0 99.7 L273.8 99.8 L273.5 99.9 L273.2 100.0 L273.0 100.1 L272.8 100.1 L272.5 100.2 L272.2 100.3 L272.0 100.4 L271.8 100.5 L271.5 100.5 L271.2 100.6 L271.0 100.7 L270.8 100.7 L270.5 100.8 L270.2 100.9 L270.0 101.0 L269.8 101.0 L269.5 101.1 L269.2 101.1 L269.0 101.2 L268.8 101.3 L268.5 101.3 L268.2 101.4 L268.0 101.5 L267.8 101.5 L267.5 101.6 L267.2 101.6 L267.0 101.7 L266.8 101.8 L266.5 101.8 L266.2 101.9 L266.0 101.9 L265.8 102.0 L265.5 102.0 L265.2 102.1 L265.0 102.1 L264.8 102.2 L264.5 102.3 L264.2 102.3 L264.0 102.4 L263.8 102.4 L263.5 102.5 L263.2 102.5 L263.0 102.6 L262.8 102.6 L262.5 102.7 L262.2 102.7 L262.0 102.8 L261.3 102.9 L260.3 103.1 L259.3 103.3 L258.3 103.5 L257.3 103.7 L256.3 103.8 L255.3 104.0 L254.3 104.2 L253.3 104.4 L252.3 104.6 L251.3 104.7 L250.3 104.9 L249.3 105.0 L248.3 105.2 L247.3 105.3 L246.3 105.5 L245.3 105.6 L244.3 105.8 L243.3 105.9 L242.3 106.1 L241.3 106.2 L240.3 106.3 L239.3 106.5 L238.3 106.6 L237.3 106.8 L236.3 106.9 L235.3 107.0 L234.3 107.2 L233.3 107.3 L232.3 107.4 L231.3 107.6 L230.3 107.7 L229.3 107.8 L228.3 108.0 L227.3 108.1 L226.3 108.3 L225.3 108.4 L224.3 108.6 L223.3 108.7 L222.3 108.8 L221.3 108.9 L220.3 109.1 L219.3 109.3 L218.3 109.4 L217.3 109.6 L216.3 109.8 L215.3 110.0 L214.3 110.1 L213.3 110.3 L212.3 110.5 L211.3 110.7 L210.3 110.9 L209.3 111.0 L208.3 111.2 L207.3 111.4 L206.3 111.5 L205.3 111.7 L204.3 111.9 L203.3 112.0 L202.3 112.2 L201.3 112.3 L200.3 112.5 L199.3 112.6 L198.3 112.8 L197.3 112.9 L196.3 113.1 L195.3 113.2 L194.3 113.4 L193.3 113.5 L192.3 113.7 L191.3 113.8 L190.3 113.9 L189.3 114.1 L188.3 114.3 L187.3 114.5 L186.3 114.7 L185.3 114.9 L184.3 115.1 L183.3 115.4 L182.3 115.6 L181.3 115.8 L180.3 116.0 L179.3 116.2 L178.3 116.4 L177.3 116.6 L176.3 116.8 L175.3 116.9 L174.3 117.1 L173.3 117.3 L172.3 117.4 L171.3 117.6 L170.3 117.7 L169.3 117.9 L168.3 118.0 L167.3 118.1 L166.3 118.2 L165.3 118.3 L164.3 118.5 L163.3 118.6 L162.3 118.7 L161.3 118.8 L160.3 118.9 L159.3 119.0 L158.3 119.1 L157.3 119.3 L156.3 119.4 L155.3 119.5 L154.3 119.7 L153.3 119.8 L152.3 119.9 L151.3 120.1 L150.3 120.2 L149.3 120.4 L148.3 120.5 L147.3 120.7 L146.3 120.8 L145.3 121.0 L144.3 121.2 L143.3 121.4 L142.3 121.6 L141.3 121.8 L140.3 122.0 L139.3 122.3 L138.3 122.5 L137.3 122.7 L136.3 123.0 L135.3 123.2 L134.3 123.5 L133.3 123.8 L132.3 124.1 L131.3 124.4 L130.3 124.7 L129.3 125.0 L128.3 125.3 L127.3 125.7 L126.3 126.0 L125.3 126.4 L124.3 126.8 L123.3 127.1 L122.3 127.5 L121.3 127.9 L120.3 128.4 L119.3 128.8 L118.3 129.2 L117.3 129.6 L116.3 130.1 L115.3 130.5 L114.3 130.9 L113.3 131.4 L112.3 131.8 L111.3 132.2 L110.3 132.7 L109.3 133.1 L108.3 133.6 L107.3 134.0 L106.3 134.4 L105.3 134.9 L104.3 135.4 L103.3 135.8 L102.3 136.3 L101.3 136.8 L100.3 137.3 L99.3 137.8 L98.3 138.3 L97.3 138.8 L96.3 139.4 L95.3 140.0 L94.3 140.5 L93.3 141.1 L92.3 141.8 L91.3 142.4 L90.3 143.0 L89.3 143.7 L88.3 144.4 L87.3 145.1 L86.3 145.8 L85.3 146.5 L84.3 147.3 L83.3 148.1 L82.3 148.9 L81.3 149.7 L80.3 150.6 L79.3 151.5 L78.3 152.4 L77.3 153.3 L76.3 154.2 L75.3 155.2 L74.3 156.3 L73.3 157.3 L72.3 158.4 L71.3 159.5 L70.3 160.6 L69.3 161.8 L68.3 163.1 L67.3 164.4 L66.3 165.6 L65.3 167.6 L64.3 169.7 L63.3 172.5 L62.3 175.6 L61.3 179.4 L60.3 183.8 L59.3 188.5 L58.3 193.0" stroke="#608000"/>
<path d="M58.3 193.0 L59.3 183.7 L60.3 176.4 L61.3 171.4 L62.3 167.4 L63.3 163.8 L64.3 160.7 L65.3 157.7 L66.3 155.0 L67.3 152.6 L68.3 150.2 L69.3 148.0 L70.3 145.8 L71.3 143.7 L72.3 141.7 L73.3 139.8 L74.3 138.1 L75.3 136.4 L76.3 134.8 L77.3 133.4 L78.3 132.0 L79.3 130.8 L80.3 129.7 L81.3 128.6 L82.3 127.5 L83.3 126.5 L84.3 125.5 L85.3 124.6 L86.3 123.6 L87.3 122.6 L88.3 121.6 L89.3 120.6 L90.3 119.7 L91.3 118.7 L92.3 117.7 L93.3 116.8 L94.3 115.9 L95.3 115.0 L96.3 114.2 L97.3 113.4 L98.3 112.7 L99.3 111.9 L100.3 111.2 L101.3 110.5 L102.3 109.9 L103.3 109.3 L104.3 108.6 L105.3 108.1 L106.3 107.5 L107.3 106.9 L108.3 106.4 L109.3 105.9 L110.3 105.4 L111.3 105.0 L112.3 104.5 L113.3 104.1 L114.3 103.7 L115.3 103.3 L116.3 102.9 L117.3 102.5 L118.3 102.2 L119.3 101.8 L120.3 101.5 L121.3 101.2 L122.3 100.8 L123.3 100.5 L124.3 100.2 L125.3 99.9 L126.3 99.6 L127.3 99.3 L128.3 99.0 L129.3 98.8 L130.3 98.5 L131.3 98.2 L132.3 97.9 L133.3 97.6 L134.3 97.4 L135.3 97.1 L136.3 96.8 L137.3 96.6 L138.3 96.3 L139.3 96.1 L140.3 95.9 L141.3 95.6 L142.3 95.4 L143.3 95.2 L144.3 94.9 L145.3 94.7 L146.3 94.5 L147.3 94.3 L148.3 94.1 L149.3 93.8 L150.3 93.6 L151.3 93.4 L152.3 93.2 L153.3 93.0 L154.3 92.8 L155.3 92.6 L156.3 92.3 L157.3 92.1 L158.3 91.9 L159.3 91.6 L160.3 91.4 L161.3 91.2 L162.3 90.9 L163.3 90.7 L164.3 90.4 L165.3 90.2 L166.3 90.0 L167.3 89.7 L168.3 89.5 L169.3 89.3 L170.3 89.2 L171.3 89.0 L172.3 88.8 L173.3 88.7 L174.3 88.5 L175.3 88.4 L176.3 88.3 L177.3 88.2 L178.3 88.0 L179.3 87.9 L180.3 87.8 L181.3 87.8 L182.3 87.7 L183.3 87.6 L184.3 87.5 L185.3 87.4 L186.3 87.4 L187.3 87.3 L188.3 87.2 L189.3 87.2 L190.3 87.1 L191.3 87.1 L192.3 87.0 L193.3 87.0 L194.3 86.9 L195.3 86.8 L196.3 86.8 L197.3 86.7 L198.3 86.7 L199.3 86.6 L200.3 86.5 L201.3 86.5 L202.3 86.4 L203.3 86.3 L204.3 86.3 L205.3 86.2 L206.3 86.2 L207.3 86.1 L208.3 86.0 L209.3 85.9 L210.3 85.9 L211.3 85.8 L212.3 85.7 L213.3 85.7 L214.3 85.6 L215.3 85.5 L216.3 85.4 L217.3 85.3 L218.3 85.3 L219.3 85.2 L220.3 85.1 L221.3 85.0 L222.3 84.9 L223.3 84.8 L224.3 84.8 L225.3 84.7 L226.3 84.6 L227.3 84.5 L228.3 84.5 L229.3 84.4 L230.3 84.3 L231.3 84.3 L232.3 84.2 L233.3 84.2 L234.3 84.1 L235.3 84.0 L236.3 84.0 L237.3 83.9 L238.3 83.9 L239.3 83.8 L240.3 83.8 L241.3 83.8 L242.3 83.7 L243.3 83.7 L244.3 83.6 L245.3 83.6 L246.3 83.6 L247.3 83.5 L248.3 83.5 L249.3 83.5 L250.3 83.4 L251.3 83.4 L252.3 83.3 L253.3 83.3 L254.3 83.3 L255.3 83.2 L256.3 83.2 L257.3 83.1 L258.3 83.1 L259.3 83.0 L260.3 83.0 L261.3 82.9 L262.3 82.9 L263.3 82.9 L264.3 82.8 L265.3 82.8 L266.3 82.7 L267.3 82.7 L268.0 82.6 L268.5 82.6 L269.0 82.6 L269.5 82.6 L270.0 82.5 L270.5 82.5 L271.0 82.5 L271.5 82.4 L272.0 82.4 L272.5 82.3 L273.0 82.2 L273.5 82.0 L274.0 81.8 L274.5 81.5 L275.0 81.2 L275.5 80.9 L276.0 80.4 L276.5 79.9 L277.0 79.3 L277.5 78.6 L278.0 77.8 L278.5 77.0 L279.0 76.0 L279.5 74.9 L280.0 73.7 L280.5 72.4 L281.0 70.9 L281.5 69.4 L282.0 67.6 L282.5 65.8 L283.0 63.8" stroke="#0000c0"/>
<path d="M283.0 63.8 L282.8 64.8 L282.5 67.4 L282.2 71.0 L282.0 74.8 L281.8 78.4 L281.5 81.6 L281.2 84.3 L281.0 86.6 L280.8 88.4 L280.5 90.0 L280.2 91.2 L280.0 92.3 L279.8 93.2 L279.5 93.9 L279.2 94.6 L279.0 95.1 L278.8 95.6 L278.5 96.0 L278.2 96.4 L278.0 96.7 L277.8 97.0 L277.5 97.3 L277.2 97.5 L277.0 97.7 L276.8 97.9 L276.5 98.1 L276.2 98.3 L276.0 98.5 L275.8 98.6 L275.5 98.7 L275.2 98.9 L275.0 99.0 L274.8 99.1 L274.5 99.2 L274.2 99.3 L274.0 99.4 L273.8 99.5 L273.5 99.6 L273.2 99.7 L273.0 99.8 L272.8 99.9 L272.5 100.0 L272.2 100.1 L272.0 100.2 L271.8 100.2 L271.5 100.3 L271.2 100.4 L271.0 100.5 L270.8 100.5 L270.5 100.6 L270.2 100.7 L270.0 100.7 L269.8 100.8 L269.5 100.9 L269.2 100.9 L269.0 101.0 L268.8 101.1 L268.5 101.1 L268.2 101.2 L268.0 101.3 L267.8 101.3 L267.5 101.4 L267.2 101.5 L267.0 101.5 L266.8 101.6 L266.5 101.6 L266.2 101.7 L266.0 101.7 L265.8 101.8 L265.5 101.9 L265.2 101.9 L265.0 102.0 L264.8 102.0 L264.5 102.1 L264.2 102.1 L264.0 102.2 L263.8 102.2 L263.5 102.3 L263.2 102.3 L263.0 102.4 L262.8 102.4 L262.5 102.5 L262.2 102.5 L262.0 102.6 L261.3 102.7 L260.3 102.9 L259.3 103.1 L258.3 103.3 L257.3 103.5 L256.3 103.7 L255.3 103.9 L254.3 104.1 L253.3 104.3 L252.3 104.5 L251.3 104.6 L250.3 104.8 L249.3 104.9 L248.3 105.1 L247.3 105.2 L246.3 105.4 L245.3 105.5 L244.3 105.7 L243.3 105.8 L242.3 106.0 L241.3 106.1 L240.3 106.3 L239.3 106.4 L238.3 106.6 L237.3 106.7 L236.3 106.9 L235.3 107.0 L234.3 107.1 L233.3 107.3 L232.3 107.4 L231.3 107.6 L230.3 107.7 L229.3 107.8 L228.3 108.0 L227.3 108.1 L226.3 108.3 L225.3 108.5 L224.3 108.6 L223.3 108.8 L222.3 108.9 L221.3 109.0 L220.3 109.2 L219.3 109.4 L218.3 109.6 L217.3 109.8 L216.3 110.0 L215.3 110.1 L214.3 110.3 L213.3 110.5 L212.3 110.7 L211.3 110.9 L210.3 111.1 L209.3 111.3 L208.3 111.5 L207.3 111.6 L206.3 111.8 L205.3 112.0 L204.3 112.2 L203.3 112.3 L202.3 112.5 L201.3 112.7 L200.3 112.8 L199.3 113.0 L198.3 113.2 L197.3 113.3 L196.3 113.5 L195.3 113.6 L194.3 113.8 L193.3 113.9 L192.3 114.1 L191.3 114.2 L190.3 114.4 L189.3 114.6 L188.3 114.8 L187.3 115.0 L186.3 115.2 L185.3 115.4 L184.3 115.6 L183.3 115.8 L182.3 116.0 L181.3 116.2 L180.3 116.4 L179.3 116.6 L178.3 116.8 L177.3 117.0 L176.3 117.2 L175.3 117.4 L174.3 117.6 L173.3 117.7 L172.3 117.9 L171.3 118.0 L170.3 118.2 L169.3 118.3 L168.3 118.4 L167.3 118.6 L166.3 118.7 L165.3 118.8 L164.3 118.9 L163.3 119.0 L162.3 119.1 L161.3 119.2 L160.3 119.4 L159.3 119.5 L158.3 119.6 L157.3 119.7 L156.3 119.8 L155.3 120.0 L154.3 120.1 L153.3 120.2 L152.3 120.4 L151.3 120.5 L150.3 120.7 L149.3 120.8 L148.3 121.0 L147.3 121.1 L146.3 121.3 L145.3 121.5 L144.3 121.7 L143.3 121.9 L142.3 122.1 L141.3 122.3 L140.3 122.5 L139.3 122.7 L138.3 122.9 L137.3 123.2 L136.3 123.4 L135.3 123.7 L134.3 124.0 L133.3 124.3 L132.3 124.5 L131.3 124.8 L130.3 125.1 L129.3 125.5 L128.3 125.8 L127.3 126.1 L126.3 126.5 L125.3 126.9 L124.3 127.2 L123.3 127.6 L122.3 128.0 L121.3 128.4 L120.3 128.8 L119.3 129.3 L118.3 129.7 L117.3 130.1 L116.3 130.5 L115.3 131.0 L114.3 131.4 L113.3 131.8 L112.3 132.3 L111.3 132.7 L110.3 133.2 L109.3 133.6 L108.3 134.0 L107.3 134.5 L106.3 134.9 L105.3 135.4 L104.3 135.9 L103.3 136.3 L102.3 136.8 L101.3 137.3 L100.3 137.8 L99.3 138.3 L98.3 138.8 L97.3 139.4 L96.3 139.9 L95.3 140.5 L94.3 141.1 L93.3 141.7 L92.3 142.3 L91.3 142.9 L90.3 143.6 L89.3 144.2 L88.3 144.9 L87.3 145.6 L86.3 146.4 L85.3 147.1 L84.3 147.9 L83.3 148.7 L82.3 149.5 L81.3 150.3 L80.3 151.2 L79.3 152.1 L78.3 153.0 L77.3 153.9 L76.3 154.9 L75.3 155.9 L74.3 156.9 L73.3 158.0 L72.3 159.1 L71.3 160.2 L70.3 161.4 L69.3 162.6 L68.3 163.9 L67.3 165.1 L66.3 166.5 L65.3 168.4 L64.3 170.4 L63.3 173.1 L62.3 176.1 L61.3 179.8 L60.3 184.1 L59.3 188.6 L58.3 193.0" stroke="#808000"/>
<path d="M58.3 193.0 L59.3 183.6 L60.3 176.2 L61.3 171.2 L62.3 167.1 L63.3 163.5 L64.3 160.3 L65.3 157.3 L66.3 154.6 L67.3 152.1 L68.3 149.8 L69.3 147.5 L70.3 145.4 L71.3 143.3 L72.3 141.2 L73.3 139.4 L74.3 137.6 L75.3 135.9 L76.3 134.4 L77.3 132.9 L78.3 131.6 L79.3 130.3 L80.3 129.2 L81.3 128.1 L82.3 127.1 L83.3 126.1 L84.3 125.1 L85.3 124.1 L86.3 123.1 L87.3 122.1 L88.3 121.2 L89.3 120.2 L90.3 119.2 L91.3 118.2 L92.3 117.3 L93.3 116.4 L94.3 115.5 L95.3 114.6 L96.3 113.8 L97.3 113.0 L98.3 112.2 L99.3 111.5 L100.3 110.8 L101.3 110.1 L102.3 109.5 L103.3 108.9 L104.3 108.3 L105.3 107.7 L106.3 107.1 L107.3 106.6 L108.3 106.0 L109.3 105.5 L110.3 105.1 L111.3 104.6 L112.3 104.2 L113.3 103.7 L114.3 103.3 L115.3 102.9 L116.3 102.5 L117.3 102.2 L118.3 101.8 L119.3 101.5 L120.3 101.1 L121.3 100.8 L122.3 100.5 L123.3 100.2 L124.3 99.9 L125.3 99.6 L126.3 99.3 L127.3 99.0 L128.3 98.7 L129.3 98.4 L130.3 98.1 L131.3 97.8 L132.3 97.6 L133.3 97.3 L134.3 97.0 L135.3 96.8 L136.3 96.5 L137.3 96.2 L138.3 96.0 L139.3 95.8 L140.3 95.5 L141.3 95.3 L142.3 95.0 L143.3 94.8 L144.3 94.6 L145.3 94.4 L146.3 94.2 L147.3 93.9 L148.3 93.7 L149.3 93.5 L150.3 93.3 L151.3 93.1 L152.3 92.9 L153.3 92.6 L154.3 92.4 L155.3 92.2 L156.3 92.0 L157.3 91.8 L158.3 91.5 L159.3 91.3 L160.3 91.1 L161.3 90.8 L162.3 90.6 L163.3 90.3 L164.3 90.1 L165.3 89.9 L166.3 89.6 L167.3 89.4 L168.3 89.2 L169.3 89.0 L170.3 88.8 L171.3 88.6 L172.3 88.5 L173.3 88.3 L174.3 88.2 L175.3 88.1 L176.3 87.9 L177.3 87.8 L178.3 87.7 L179.3 87.6 L180.3 87.5 L181.3 87.4 L182.3 87.3 L183.3 87.3 L184.3 87.2 L185.3 87.1 L186.3 87.0 L187.3 87.0 L188.3 86.9 L189.3 86.8 L190.3 86.8 L191.3 86.7 L192.3 86.7 L193.3 86.6 L194.3 86.6 L195.3 86.5 L196.3 86.4 L197.3 86.4 L198.3 86.3 L199.3 86.3 L200.3 86.2 L201.3 86.1 L202.3 86.1 L203.3 86.0 L204.3 85.9 L205.3 85.9 L206.3 85.8 L207.3 85.7 L208.3 85.7 L209.3 85.6 L210.3 85.5 L211.3 85.5 L212.3 85.4 L213.3 85.3 L214.3 85.2 L215.3 85.2 L216.3 85.1 L217.3 85.0 L218.3 84.9 L219.3 84.8 L220.3 84.7 L221.3 84.6 L222.3 84.5 L223.3 84.4 L224.3 84.4 L225.3 84.3 L226.3 84.2 L227.3 84.1 L228.3 84.0 L229.3 84.0 L230.3 83.9 L231.3 83.8 L232.3 83.8 L233.3 83.7 L234.3 83.6 L235.3 83.6 L236.3 83.5 L237.3 83.5 L238.3 83.4 L239.3 83.4 L240.3 83.3 L241.3 83.3 L242.3 83.2 L243.3 83.2 L244.3 83.1 L245.3 83.1 L246.3 83.0 L247.3 83.0 L248.3 83.0 L249.3 82.9 L250.3 82.9 L251.3 82.8 L252.3 82.8 L253.3 82.7 L254.3 82.7 L255.3 82.6 L256.3 82.6 L257.3 82.6 L258.3 82.5 L259.3 82.5 L260.3 82.4 L261.3 82.4 L262.3 82.3 L263.3 82.3 L264.3 82.2 L265.3 82.2 L266.3 82.1 L267.3 82.1 L268.0 82.0 L268.5 82.0 L269.0 82.0 L269.5 81.9 L270.0 81.9 L270.5 81.9 L271.0 81.9 L271.5 81.8 L272.0 81.7 L272.5 81.7 L273.0 81.5 L273.5 81.4 L274.0 81.2 L274.5 80.9 L275.0 80.6 L275.5 80.2 L276.0 79.8 L276.5 79.3 L277.0 78.7 L277.5 78.0 L278.0 77.2 L278.5 76.4 L279.0 75.4 L279.5 74.3 L280.0 73.1 L280.5 71.8 L281.0 70.4 L281.5 68.8 L282.0 67.1 L282.5 65.3 L283.0 63.3" stroke="#4040ff"/>
<path d="M283.0 63.3 L282.8 64.3 L282.5 66.8 L282.2 70.2 L282.0 74.0 L281.8 77.6 L281.5 80.8 L281.2 83.5 L281.0 85.8 L280.8 87.7 L280.5 89.3 L280.2 90.6 L280.0 91.7 L279.8 92.6 L279.5 93.4 L279.2 94.1 L279.0 94.7 L278.8 95.2 L278.5 95.6 L278.2 96.0 L278.0 96.3 L277.8 96.6 L277.5 96.9 L277.2 97.2 L277.0 97.4 L276.8 97.6 L276.5 97.8 L276.2 98.0 L276.0 98.2 L275.8 98.3 L275.5 98.5 L275.2 98.6 L275.0 98.7 L274.8 98.9 L274.5 99.0 L274.2 99.1 L274.0 99.2 L273.8 99.3 L273.5 99.4 L273.2 99.5 L273.0 99.6 L272.8 99.7 L272.5 99.8 L272.2 99.9 L272.0 99.9 L271.8 100.0 L271.5 100.1 L271.2 100.2 L271.0 100.2 L270.8 100.3 L270.5 100.4 L270.2 100.5 L270.0 100.5 L269.8 100.6 L269.5 100.7 L269.2 100.7 L269.0 100.8 L268.8 100.9 L268.5 100.9 L268.2 101.0 L268.0 101.1 L267.8 101.1 L267.5 101.2 L267.2 101.3 L267.0 101.3 L266.8 101.4 L266.5 101.4 L266.2 101.5 L266.0 101.6 L265.8 101.6 L265.5 101.7 L265.2 101.7 L265.0 101.8 L264.8 101.8 L264.5 101.9 L264.2 102.0 L264.0 102.0 L263.8 102.1 L263.5 102.1 L263.2 102.2 L263.0 102.2 L262.8 102.3 L262.5 102.3 L262.2 102.4 L262.0 102.4 L261.3 102.6 L260.3 102.8 L259.3 103.0 L258.3 103.2 L257.3 103.4 L256.3 103.5 L255.3 103.7 L254.3 103.9 L253.3 104.1 L252.3 104.3 L251.3 104.5 L250.3 104.6 L249.3 104.8 L248.3 105.0 L247.3 105.1 L246.3 105.3 L245.3 105.4 L244.3 105.6 L243.3 105.8 L242.3 105.9 L241.3 106.1 L240.3 106.2 L239.3 106.4 L238.3 106.5 L237.3 106.7 L236.3 106.8 L235.3 107.0 L234.3 107.1 L233.3 107.3 L232.3 107.4 L231.3 107.6 L230.3 107.7 L229.3 107.9 L228.3 108.0 L227.3 108.2 L226.3 108.3 L225.3 108.5 L224.3 108.7 L223.3 108.8 L222.3 109.0 L221.3 109.1 L220.3 109.3 L219.3 109.5 L218.3 109.7 L217.3 109.9 L216.3 110.1 L215.3 110.3 L214.3 110.5 L213.3 110.7 L212.3 110.9 L211.3 111.1 L210.3 111.3 L209.3 111.5 L208.3 111.7 L207.3 111.9 L206.3 112.1 L205.3 112.3 L204.3 112.5 L203.3 112.6 L202.3 112.8 L201.3 113.0 L200.3 113.2 L199.3 113.4 L198.3 113.5 L197.3 113.7 L196.3 113.9 L195.3 114.0 L194.3 114.2 L193.3 114.4 L192.3 114.5 L191.3 114.7 L190.3 114.8 L189.3 115.0 L188.3 115.2 L187.3 115.4 L186.3 115.7 L185.3 115.9 L184.3 116.1 L183.3 116.3 L182.3 116.5 L181.3 116.7 L180.3 116.9 L179.3 117.1 L178.3 117.3 L177.3 117.5 L176.3 117.7 L175.3 117.9 L174.3 118.0 L173.3 118.2 L172.3 118.3 L171.3 118.5 L170.3 118.6 L169.3 118.8 L168.3 118.9 L167.3 119.0 L166.3 119.1 L165.3 119.2 L164.3 119.4 L163.3 119.5 L162.3 119.6 L161.3 119.7 L160.3 119.8 L159.3 119.9 L158.3 120.1 L157.3 120.2 L156.3 120.3 L155.3 120.4 L154.3 120.6 L153.3 120.7 L152.3 120.8 L151.3 121.0 L150.3 121.1 L149.3 121.3 L148.3 121.4 L147.3 121.6 L146.3 121.8 L145.3 121.9 L144.3 122.1 L143.3 122.3 L142.3 122.5 L141.3 122.7 L140.3 122.9 L139.3 123.2 L138.3 123.4 L137.3 123.7 L136.3 123.9 L135.3 124.2 L134.3 124.4 L133.3 124.7 L132.3 125.0 L131.3 125.3 L130.3 125.6 L129.3 125.9 L128.3 126.3 L127.3 126.6 L126.3 127.0 L125.3 127.3 L124.3 127.7 L123.3 128.1 L122.3 128.5 L121.3 128.9 L120.3 129.3 L119.3 129.8 L118.3 130.2 L117.3 130.6 L116.3 131.0 L115.3 131.5 L114.3 131.9 L113.3 132.3 L112.3 132.8 L111.3 133.2 L110.3 133.7 L109.3 134.1 L108.3 134.5 L107.3 135.0 L106.3 135.4 L105.3 135.9 L104.3 136.4 L103.3 136.8 L102.3 137.3 L101.3 137.8 L100.3 138.3 L99.3 138.8 L98.3 139.3 L97.3 139.9 L96.3 140.4 L95.3 141.0 L94.3 141.6 L93.3 142.2 L92.3 142.8 L91.3 143.5 L90.3 144.1 L89.3 144.8 L88.3 145.5 L87.3 146.2 L86.3 146.9 L85.3 147.7 L84.3 148.5 L83.3 149.3 L82.3 150.1 L81.3 150.9 L80.3 151.8 L79.3 152.7 L78.3 153.6 L77.3 154.6 L76.3 155.5 L75.3 156.5 L74.3 157.6 L73.3 158.7 L72.3 159.8 L71.3 160.9 L70.3 162.1 L69.3 163.3 L68.3 164.6 L67.3 165.9 L66.3 167.3 L65.3 169.2 L64.3 171.2 L63.3 173.7 L62.3 176.6 L61.3 180.1 L60.3 184.3 L59.3 188.8 L58.3 193.0" stroke="#ff8000"/>
<path d="M58.3 193.0 L59.3 183.5 L60.3 176.1 L61.3 170.9 L62.3 166.7 L63.3 163.1 L64.3 159.8 L65.3 156.8 L66.3 154.1 L67.3 151.6 L68.3 149.3 L69.3 147.1 L70.3 144.9 L71.3 142.8 L72.3 140.8 L73.3 138.9 L74.3 137.2 L75.3 135.5 L76.3 133.9 L77.3 132.5 L78.3 131.1 L79.3 129.9 L80.3 128.7 L81.3 127.6 L82.3 126.6 L83.3 125.6 L84.3 124.6 L85.3 123.6 L86.3 122.7 L87.3 121.7 L88.3 120.7 L89.3 119.7 L90.3 118.7 L91.3 117.8 L92.3 116.8 L93.3 115.9 L94.3 115.0 L95.3 114.2 L96.3 113.4 L97.3 112.6 L98.3 111.8 L99.3 111.1 L100.3 110.4 L101.3 109.7 L102.3 109.1 L103.3 108.5 L104.3 107.9 L105.3 107.3 L106.3 106.7 L107.3 106.2 L108.3 105.7 L109.3 105.2 L110.3 104.7 L111.3 104.2 L112.3 103.8 L113.3 103.4 L114.3 103.0 L115.3 102.6 L116.3 102.2 L117.3 101.8 L118.3 101.5 L119.3 101.1 L120.3 100.8 L121.3 100.5 L122.3 100.1 L123.3 99.8 L124.3 99.5 L125.3 99.2 L126.3 98.9 L127.3 98.6 L128.3 98.3 L129.3 98.1 L130.3 97.8 L131.3 97.5 L132.3 97.2 L133.3 96.9 L134.3 96.7 L135.3 96.4 L136.3 96.2 L137.3 95.9 L138.3 95.7 L139.3 95.4 L140.3 95.2 L141.3 94.9 L142.3 94.7 L143.3 94.5 L144.3 94.3 L145.3 94.0 L146.3 93.8 L147.3 93.6 L148.3 93.4 L149.3 93.2 L150.3 92.9 L151.3 92.7 L152.3 92.5 L153.3 92.3 L154.3 92.1 L155.3 91.9 L156.3 91.7 L157.3 91.4 L158.3 91.2 L159.3 91.0 L160.3 90.7 L161.3 90.5 L162.3 90.2 L163.3 90.0 L164.3 89.7 L165.3 89.5 L166.3 89.3 L167.3 89.1 L168.3 88.9 L169.3 88.7 L170.3 88.5 L171.3 88.3 L172.3 88.1 L173.3 88.0 L174.3 87.9 L175.3 87.7 L176.3 87.6 L177.3 87.5 L178.3 87.4 L179.3 87.3 L180.3 87.2 L181.3 87.1 L182.3 87.0 L183.3 86.9 L184.3 86.8 L185.3 86.8 L186.3 86.7 L187.3 86.6 L188.3 86.6 L189.3 86.5 L190.3 86.5 L191.3 86.4 L192.3 86.3 L193.3 86.3 L194.3 86.2 L195.3 86.2 L196.3 86.1 L197.3 86.0 L198.3 86.0 L199.3 85.9 L200.3 85.8 L201.3 85.8 L202.3 85.7 L203.3 85.7 L204.3 85.6 L205.3 85.5 L206.3 85.5 L207.3 85.4 L208.3 85.3 L209.3 85.2 L210.3 85.2 L211.3 85.1 L212.3 85.0 L213.3 85.0 L214.3 84.9 L215.3 84.8 L216.3 84.7 L217.3 84.6 L218.3 84.5 L219.3 84.4 L220.3 84.3 L221.3 84.2 L222.3 84.1 L223.3 84.0 L224.3 83.9 L225.3 83.9 L226.3 83.8 L227.3 83.7 L228.3 83.6 L229.3 83.5 L230.3 83.5 L231.3 83.4 L232.3 83.3 L233.3 83.2 L234.3 83.2 L235.3 83.1 L236.3 83.0 L237.3 83.0 L238.3 82.9 L239.3 82.9 L240.3 82.8 L241.3 82.8 L242.3 82.7 L243.3 82.7 L244.3 82.6 L245.3 82.6 L246.3 82.5 L247.3 82.5 L248.3 82.4 L249.3 82.4 L250.3 82.3 L251.3 82.3 L252.3 82.2 L253.3 82.2 L254.3 82.1 L255.3 82.1 L256.3 82.0 L257.3 82.0 L258.3 81.9 L259.3 81.9 L260.3 81.8 L261.3 81.8 L262.3 81.7 L263.3 81.7 L264.3 81.6 L265.3 81.6 L266.3 81.5 L267.3 81.5 L268.0 81.4 L268.5 81.4 L269.0 81.4 L269.5 81.3 L270.0 81.3 L270.5 81.3 L271.0 81.2 L271.5 81.2 L272.0 81.1 L272.5 81.0 L273.0 80.9 L273.5 80.7 L274.0 80.5 L274.5 80.3 L275.0 80.0 L275.5 79.6 L276.0 79.2 L276.5 78.7 L277.0 78.1 L277.5 77.4 L278.0 76.6 L278.5 75.8 L279.0 74.8 L279.5 73.8 L280.0 72.6 L280.5 71.3 L281.0 69.9 L281.5 68.3 L282.0 66.6 L282.5 64.8 L283.0 62.9" stroke="#808000"/>
<path d="M283.0 62.9 L282.8 63.8 L282.5 66.2 L282.2 69.5 L282.0 73.2 L281.8 76.7 L281.5 79.9 L281.2 82.7 L281.0 85.0 L280.8 87.0 L280.5 88.6 L280.2 90.0 L280.0 91.1 L279.8 92.1 L279.5 92.9 L279.2 93.6 L279.0 94.2 L278.8 94.7 L278.5 95.2 L278.2 95.6 L278.0 95.9 L277.8 96.3 L277.5 96.6 L277.2 96.8 L277.0 97.1 L276.8 97.3 L276.5 97.5 L276.2 97.7 L276.0 97.9 L275.8 98.0 L275.5 98.2 L275.2 98.3 L275.0 98.5 L274.8 98.6 L274.5 98.7 L274.2 98.8 L274.0 98.9 L273.8 99.1 L273.5 99.2 L273.2 99.3 L273.0 99.4 L272.8 99.4 L272.5 99.5 L272.2 99.6 L272.0 99.7 L271.8 99.8 L271.5 99.9 L271.2 100.0 L271.0 100.0 L270.8 100.1 L270.5 100.2 L270.2 100.3 L270.0 100.3 L269.8 100.4 L269.5 100.5 L269.2 100.5 L269.0 100.6 L268.8 100.7 L268.5 100.7 L268.2 100.8 L268.0 100.9 L267.8 100.9 L267.5 101.0 L267.2 101.1 L267.0 101.1 L266.8 101.2 L266.5 101.3 L266.2 101.3 L266.0 101.4 L265.8 101.4 L265.5 101.5 L265.2 101.6 L265.0 101.6 L264.8 101.7 L264.5 101.7 L264.2 101.8 L264.0 101.8 L263.8 101.9 L263.5 101.9 L263.2 102.0 L263.0 102.1 L262.8 102.1 L262.5 102.2 L262.2 102.2 L262.0 102.3 L261.3 102.4 L260.3 102.6 L259.3 102.8 L258.3 103.0 L257.3 103.2 L256.3 103.4 L255.3 103.6 L254.3 103.8 L253.3 104.0 L252.3 104.2 L251.3 104.4 L250.3 104.5 L249.3 104.7 L248.3 104.9 L247.3 105.0 L246.3 105.2 L245.3 105.4 L244.3 105.5 L243.3 105.7 L242.3 105.9 L241.3 106.0 L240.3 106.2 L239.3 106.3 L238.3 106.5 L237.3 106.7 L236.3 106.8 L235.3 107.0 L234.3 107.1 L233.3 107.3 L232.3 107.4 L231.3 107.6 L230.3 107.7 L229.3 107.9 L228.3 108.0 L227.3 108.2 L226.3 108.4 L225.3 108.5 L224.3 108.7 L223.3 108.9 L222.3 109.0 L221.3 109.2 L220.3 109.5 L219.3 109.7 L218.3 109.9 L217.3 110.1 L216.3 110.3 L215.3 110.5 L214.3 110.7 L213.3 110.9 L212.3 111.1 L211.3 111.3 L210.3 111.5 L209.3 111.8 L208.3 112.0 L207.3 112.2 L206.3 112.4 L205.3 112.6 L204.3 112.8 L203.3 113.0 L202.3 113.1 L201.3 113.3 L200.3 113.5 L199.3 113.7 L198.3 113.9 L197.3 114.1 L196.3 114.2 L195.3 114.4 L194.3 114.6 L193.3 114.8 L192.3 115.0 L191.3 115.1 L190.3 115.3 L189.3 115.5 L188.3 115.7 L187.3 115.9 L186.3 116.1 L185.3 116.3 L184.3 116.5 L183.3 116.7 L182.3 116.9 L181.3 117.1 L180.3 117.3 L179.3 117.5 L178.3 117.7 L177.3 117.9 L176.3 118.1 L175.3 118.3 L174.3 118.5 L173.3 118.6 L172.3 118.8 L171.3 118.9 L170.3 119.1 L169.3 119.2 L168.3 119.3 L167.3 119.5 L166.3 119.6 L165.3 119.7 L164.3 119.8 L163.3 119.9 L162.3 120.0 L161.3 120.2 L160.3 120.3 L159.3 120.4 L158.3 120.5 L157.3 120.6 L156.3 120.8 L155.3 120.9 L154.3 121.0 L153.3 121.1 L152.3 121.3 L151.3 121.4 L150.3 121.6 L149.3 121.7 L148.3 121.9 L147.3 122.0 L146.3 122.2 L145.3 122.4 L144.3 122.6 L143.3 122.8 L142.3 123.0 L141.3 123.2 L140.3 123.4 L139.3 123.6 L138.3 123.9 L137.3 124.1 L136.3 124.4 L135.3 124.6 L134.3 124.9 L133.3 125.2 L132.3 125.5 L131.3 125.8 L130.3 126.1 L129.3 126.4 L128.3 126.7 L127.3 127.1 L126.3 127.4 L125.3 127.8 L124.3 128.2 L123.3 128.6 L122.3 129.0 L121.3 129.4 L120.3 129.8 L119.3 130.2 L118.3 130.7 L117.3 131.1 L116.3 131.5 L115.3 132.0 L114.3 132.4 L113.3 132.8 L112.3 133.3 L111.3 133.7 L110.3 134.1 L109.3 134.6 L108.3 135.0 L107.3 135.5 L106.3 135.9 L105.3 136.4 L104.3 136.8 L103.3 137.3 L102.3 137.8 L101.3 138.3 L100.3 138.8 L99.3 139.3 L98.3 139.8 L97.3 140.4 L96.3 141.0 L95.3 141.5 L94.3 142.1 L93.3 142.7 L92.3 143.4 L91.3 144.0 L90.3 144.7 L89.3 145.3 L88.3 146.0 L87.3 146.8 L86.3 147.5 L85.3 148.3 L84.3 149.0 L83.3 149.9 L82.3 150.7 L81.3 151.5 L80.3 152.4 L79.3 153.3 L78.3 154.2 L77.3 155.2 L76.3 156.2 L75.3 157.2 L74.3 158.3 L73.3 159.4 L72.3 160.5 L71.3 161.6 L70.3 162.8 L69.3 164.1 L68.3 165.4 L67.3 166.7 L66.3 168.1 L65.3 169.9 L64.3 171.9 L63.3 174.3 L62.3 177.1 L61.3 180.5 L60.3 184.6 L59.3 188.9 L58.3 193.0" stroke="#ff4000"/>
<path d="M58.3 193.0 L59.3 183.4 L60.3 175.9 L61.3 170.7 L62.3 166.4 L63.3 162.7 L64.3 159.3 L65.3 156.3 L66.3 153.6 L67.3 151.2 L68.3 148.8 L69.3 146.6 L70.3 144.4 L71.3 142.3 L72.3 140.3 L73.3 138.4 L74.3 136.7 L75.3 135.0 L76.3 133.4 L77.3 132.0 L78.3 130.6 L79.3 129.4 L80.3 128.3 L81.3 127.2 L82.3 126.1 L83.3 125.1 L84.3 124.1 L85.3 123.2 L86.3 122.2 L87.3 121.2 L88.3 120.2 L89.3 119.2 L90.3 118.3 L91.3 117.3 L92.3 116.4 L93.3 115.5 L94.3 114.6 L95.3 113.7 L96.3 112.9 L97.3 112.2 L98.3 111.4 L99.3 110.7 L100.3 110.0 L101.3 109.4 L102.3 108.7 L103.3 108.1 L104.3 107.5 L105.3 106.9 L106.3 106.3 L107.3 105.8 L108.3 105.3 L109.3 104.8 L110.3 104.3 L111.3 103.9 L112.3 103.4 L113.3 103.0 L114.3 102.6 L115.3 102.2 L116.3 101.8 L117.3 101.5 L118.3 101.1 L119.3 100.8 L120.3 100.4 L121.3 100.1 L122.3 99.8 L123.3 99.5 L124.3 99.2 L125.3 98.9 L126.3 98.6 L127.3 98.3 L128.3 98.0 L129.3 97.7 L130.3 97.4 L131.3 97.1 L132.3 96.9 L133.3 96.6 L134.3 96.3 L135.3 96.1 L136.3 95.8 L137.3 95.6 L138.3 95.3 L139.3 95.1 L140.3 94.8 L141.3 94.6 L142.3 94.4 L143.3 94.1 L144.3 93.9 L145.3 93.7 L146.3 93.5 L147.3 93.3 L148.3 93.0 L149.3 92.8 L150.3 92.6 L151.3 92.4 L152.3 92.2 L153.3 92.0 L154.3 91.7 L155.3 91.5 L156.3 91.3 L157.3 91.1 L158.3 90.9 L159.3 90.6 L160.3 90.4 L161.3 90.1 L162.3 89.9 L163.3 89.6 L164.3 89.4 L165.3 89.2 L166.3 88.9 L167.3 88.7 L168.3 88.5 L169.3 88.3 L170.3 88.1 L171.3 88.0 L172.3 87.8 L173.3 87.7 L174.3 87.5 L175.3 87.4 L176.3 87.3 L177.3 87.2 L178.3 87.0 L179.3 86.9 L180.3 86.8 L181.3 86.8 L182.3 86.7 L183.3 86.6 L184.3 86.5 L185.3 86.4 L186.3 86.4 L187.3 86.3 L188.3 86.2 L189.3 86.2 L190.3 86.1 L191.3 86.1 L192.3 86.0 L193.3 85.9 L194.3 85.9 L195.3 85.8 L196.3 85.8 L197.3 85.7 L198.3 85.6 L199.3 85.6 L200.3 85.5 L201.3 85.4 L202.3 85.4 L203.3 85.3 L204.3 85.2 L205.3 85.2 L206.3 85.1 L207.3 85.0 L208.3 85.0 L209.3 84.9 L210.3 84.8 L211.3 84.7 L212.3 84.7 L213.3 84.6 L214.3 84.5 L215.3 84.4 L216.3 84.3 L217.3 84.2 L218.3 84.1 L219.3 84.0 L220.3 83.9 L221.3 83.8 L222.3 83.7 L223.3 83.6 L224.3 83.5 L225.3 83.4 L226.3 83.4 L227.3 83.3 L228.3 83.2 L229.3 83.1 L230.3 83.0 L231.3 82.9 L232.3 82.9 L233.3 82.8 L234.3 82.7 L235.3 82.6 L236.3 82.6 L237.3 82.5 L238.3 82.4 L239.3 82.4 L240.3 82.3 L241.3 82.2 L242.3 82.2 L243.3 82.1 L244.3 82.1 L245.3 82.0 L246.3 82.0 L247.3 81.9 L248.3 81.9 L249.3 81.8 L250.3 81.8 L251.3 81.7 L252.3 81.7 L253.3 81.6 L254.3 81.6 L255.3 81.5 L256.3 81.5 L257.3 81.4 L258.3 81.4 L259.3 81.3 L260.3 81.3 L261.3 81.2 L262.3 81.1 L263.3 81.1 L264.3 81.0 L265.3 81.0 L266.3 80.9 L267.3 80.8 L268.0 80.8 L268.5 80.8 L269.0 80.7 L269.5 80.7 L270.0 80.7 L270.5 80.7 L271.0 80.6 L271.5 80.6 L272.0 80.5 L272.5 80.4 L273.0 80.3 L273.5 80.1 L274.0 79.9 L274.5 79.7 L275.0 79.4 L275.5 79.0 L276.0 78.6 L276.5 78.0 L277.0 77.5 L277.5 76.8 L278.0 76.0 L278.5 75.2 L279.0 74.2 L279.5 73.2 L280.0 72.0 L280.5 70.7 L281.0 69.3 L281.5 67.8 L282.0 66.1 L282.5 64.3 L283.0 62.4" stroke="#806000"/>
<path d="M283.0 62.4 L282.8 63.3 L282.5 65.6 L282.2 68.8 L282.0 72.4 L281.8 75.9 L281.5 79.1 L281.2 81.8 L281.0 84.2 L280.8 86.2 L280.5 87.9 L280.2 89.3 L280.0 90.5 L279.8 91.5 L279.5 92.3 L279.2 93.1 L279.0 93.7 L278.8 94.3 L278.5 94.7 L278.2 95.2 L278.0 95.6 L277.8 95.9 L277.5 96.2 L277.2 96.5 L277.0 96.7 L276.8 97.0 L276.5 97.2 L276.2 97.4 L276.0 97.6 L275.8 97.7 L275.5 97.9 L275.2 98.0 L275.0 98.2 L274.8 98.3 L274.5 98.5 L274.2 98.6 L274.0 98.7 L273.8 98.8 L273.5 98.9 L273.2 99.0 L273.0 99.1 L272.8 99.2 L272.5 99.3 L272.2 99.4 L272.0 99.5 L271.8 99.6 L271.5 99.7 L271.2 99.7 L271.0 99.8 L270.8 99.9 L270.5 100.0 L270.2 100.0 L270.0 100.1 L269.8 100.2 L269.5 100.3 L269.2 100.3 L269.0 100.4 L268.8 100.5 L268.5 100.5 L268.2 100.6 L268.0 100.7 L267.8 100.8 L267.5 100.8 L267.2 100.9 L267.0 100.9 L266.8 101.0 L266.5 101.1 L266.2 101.1 L266.0 101.2 L265.8 101.3 L265.5 101.3 L265.2 101.4 L265.0 101.4 L264.8 101.5 L264.5 101.5 L264.2 101.6 L264.0 101.7 L263.8 101.7 L263.5 101.8 L263.2 101.8 L263.0 101.9 L262.8 101.9 L262.5 102.0 L262.2 102.0 L262.0 102.1 L261.3 102.2 L260.3 102.5 L259.3 102.7 L258.3 102.9 L257.3 103.1 L256.3 103.3 L255.3 103.5 L254.3 103.7 L253.3 103.9 L252.3 104.1 L251.3 104.2 L250.3 104.4 L249.3 104.6 L248.3 104.7 L247.3 104.9 L246.3 105.1 L245.3 105.3 L244.3 105.4 L243.3 105.6 L242.3 105.8 L241.3 106.0 L240.3 106.1 L239.3 106.3 L238.3 106.5 L237.3 106.6 L236.3 106.8 L235.3 106.9 L234.3 107.1 L233.3 107.3 L232.3 107.4 L231.3 107.6 L230.3 107.7 L229.3 107.9 L228.3 108.1 L227.3 108.2 L226.3 108.4 L225.3 108.6 L224.3 108.8 L223.3 109.0 L222.3 109.1 L221.3 109.3 L220.3 109.6 L219.3 109.8 L218.3 110.0 L217.3 110.2 L216.3 110.4 L215.3 110.7 L214.3 110.9 L213.3 111.1 L212.3 111.3 L211.3 111.6 L210.3 111.8 L209.3 112.0 L208.3 112.2 L207.3 112.4 L206.3 112.6 L205.3 112.8 L204.3 113.1 L203.3 113.3 L202.3 113.5 L201.3 113.7 L200.3 113.9 L199.3 114.1 L198.3 114.3 L197.3 114.4 L196.3 114.6 L195.3 114.8 L194.3 115.0 L193.3 115.2 L192.3 115.4 L191.3 115.6 L190.3 115.8 L189.3 115.9 L188.3 116.2 L187.3 116.4 L186.3 116.6 L185.3 116.8 L184.3 117.0 L183.3 117.2 L182.3 117.4 L181.3 117.6 L180.3 117.8 L179.3 118.0 L178.3 118.2 L177.3 118.4 L176.3 118.6 L175.3 118.8 L174.3 118.9 L173.3 119.1 L172.3 119.3 L171.3 119.4 L170.3 119.5 L169.3 119.7 L168.3 119.8 L167.3 119.9 L166.3 120.0 L165.3 120.2 L164.3 120.3 L163.3 120.4 L162.3 120.5 L161.3 120.6 L160.3 120.7 L159.3 120.8 L158.3 121.0 L157.3 121.1 L156.3 121.2 L155.3 121.3 L154.3 121.5 L153.3 121.6 L152.3 121.7 L151.3 121.9 L150.3 122.0 L149.3 122.2 L148.3 122.3 L147.3 122.5 L146.3 122.7 L145.3 122.9 L144.3 123.0 L143.3 123.2 L142.3 123.4 L141.3 123.7 L140.3 123.9 L139.3 124.1 L138.3 124.3 L137.3 124.6 L136.3 124.8 L135.3 125.1 L134.3 125.4 L133.3 125.7 L132.3 125.9 L131.3 126.2 L130.3 126.6 L129.3 126.9 L128.3 127.2 L127.3 127.6 L126.3 127.9 L125.3 128.3 L124.3 128.7 L123.3 129.1 L122.3 129.5 L121.3 129.9 L120.3 130.3 L119.3 130.7 L118.3 131.2 L117.3 131.6 L116.3 132.0 L115.3 132.4 L114.3 132.9 L113.3 133.3 L112.3 133.8 L111.3 134.2 L110.3 134.6 L109.3 135.1 L108.3 135.5 L107.3 136.0 L106.3 136.4 L105.3 136.9 L104.3 137.3 L103.3 137.8 L102.3 138.3 L101.3 138.8 L100.3 139.3 L99.3 139.8 L98.3 140.4 L97.3 140.9 L96.3 141.5 L95.3 142.0 L94.3 142.6 L93.3 143.3 L92.3 143.9 L91.3 144.5 L90.3 145.2 L89.3 145.9 L88.3 146.6 L87.3 147.3 L86.3 148.1 L85.3 148.8 L84.3 149.6 L83.3 150.4 L82.3 151.3 L81.3 152.1 L80.3 153.0 L79.3 153.9 L78.3 154.9 L77.3 155.8 L76.3 156.8 L75.3 157.9 L74.3 158.9 L73.3 160.0 L72.3 161.2 L71.3 162.3 L70.3 163.6 L69.3 164.8 L68.3 166.2 L67.3 167.5 L66.3 169.0 L65.3 170.7 L64.3 172.6 L63.3 175.0 L62.3 177.6 L61.3 180.9 L60.3 184.8 L59.3 189.0 L58.3 193.0" stroke="#ff0000"/>
<path d="M58.3 193.0 L59.3 183.3 L60.3 175.8 L61.3 170.5 L62.3 166.1 L63.3 162.3 L64.3 158.9 L65.3 155.9 L66.3 153.2 L67.3 150.7 L68.3 148.4 L69.3 146.1 L70.3 144.0 L71.3 141.9 L72.3 139.8 L73.3 138.0 L74.3 136.2 L75.3 134.5 L76.3 133.0 L77.3 131.5 L78.3 130.2 L79.3 128.9 L80.3 127.8 L81.3 126.7 L82.3 125.7 L83.3 124.7 L84.3 123.7 L85.3 122.7 L86.3 121.7 L87.3 120.7 L88.3 119.8 L89.3 118.8 L90.3 117.8 L91.3 116.9 L92.3 115.9 L93.3 115.0 L94.3 114.2 L95.3 113.3 L96.3 112.5 L97.3 111.8 L98.3 111.0 L99.3 110.3 L100.3 109.6 L101.3 109.0 L102.3 108.3 L103.3 107.7 L104.3 107.1 L105.3 106.5 L106.3 106.0 L107.3 105.4 L108.3 104.9 L109.3 104.4 L110.3 104.0 L111.3 103.5 L112.3 103.1 L113.3 102.7 L114.3 102.2 L115.3 101.9 L116.3 101.5 L117.3 101.1 L118.3 100.8 L119.3 100.4 L120.3 100.1 L121.3 99.8 L122.3 99.4 L123.3 99.1 L124.3 98.8 L125.3 98.5 L126.3 98.2 L127.3 97.9 L128.3 97.7 L129.3 97.4 L130.3 97.1 L131.3 96.8 L132.3 96.5 L133.3 96.2 L134.3 96.0 L135.3 95.7 L136.3 95.5 L137.3 95.2 L138.3 95.0 L139.3 94.7 L140.3 94.5 L141.3 94.3 L142.3 94.0 L143.3 93.8 L144.3 93.6 L145.3 93.3 L146.3 93.1 L147.3 92.9 L148.3 92.7 L149.3 92.5 L150.3 92.3 L151.3 92.1 L152.3 91.8 L153.3 91.6 L154.3 91.4 L155.3 91.2 L156.3 91.0 L157.3 90.7 L158.3 90.5 L159.3 90.3 L160.3 90.0 L161.3 89.8 L162.3 89.5 L163.3 89.3 L164.3 89.1 L165.3 88.8 L166.3 88.6 L167.3 88.4 L168.3 88.2 L169.3 88.0 L170.3 87.8 L171.3 87.6 L172.3 87.5 L173.3 87.3 L174.3 87.2 L175.3 87.1 L176.3 86.9 L177.3 86.8 L178.3 86.7 L179.3 86.6 L180.3 86.5 L181.3 86.4 L182.3 86.3 L183.3 86.3 L184.3 86.2 L185.3 86.1 L186.3 86.0 L187.3 86.0 L188.3 85.9 L189.3 85.8 L190.3 85.8 L191.3 85.7 L192.3 85.7 L193.3 85.6 L194.3 85.5 L195.3 85.5 L196.3 85.4 L197.3 85.4 L198.3 85.3 L199.3 85.2 L200.3 85.2 L201.3 85.1 L202.3 85.0 L203.3 85.0 L204.3 84.9 L205.3 84.8 L206.3 84.8 L207.3 84.7 L208.3 84.6 L209.3 84.5 L210.3 84.5 L211.3 84.4 L212.3 84.3 L213.3 84.2 L214.3 84.2 L215.3 84.1 L216.3 84.0 L217.3 83.9 L218.3 83.8 L219.3 83.6 L220.3 83.5 L221.3 83.4 L222.3 83.3 L223.3 83.2 L224.3 83.1 L225.3 83.0 L226.3 82.9 L227.3 82.8 L228.3 82.8 L229.3 82.7 L230.3 82.6 L231.3 82.5 L232.3 82.4 L233.3 82.3 L234.3 82.2 L235.3 82.2 L236.3 82.1 L237.3 82.0 L238.3 81.9 L239.3 81.9 L240.3 81.8 L241.3 81.7 L242.3 81.7 L243.3 81.6 L244.3 81.6 L245.3 81.5 L246.3 81.5 L247.3 81.4 L248.3 81.4 L249.3 81.3 L250.3 81.2 L251.3 81.2 L252.3 81.1 L253.3 81.1 L254.3 81.0 L255.3 81.0 L256.3 80.9 L257.3 80.8 L258.3 80.8 L259.3 80.7 L260.3 80.7 L261.3 80.6 L262.3 80.6 L263.3 80.5 L264.3 80.4 L265.3 80.4 L266.3 80.3 L267.3 80.2 L268.0 80.2 L268.5 80.2 L269.0 80.1 L269.5 80.1 L270.0 80.1 L270.5 80.0 L271.0 80.0 L271.5 79.9 L272.0 79.9 L272.5 79.8 L273.0 79.7 L273.5 79.5 L274.0 79.3 L274.5 79.0 L275.0 78.7 L275.5 78.4 L276.0 77.9 L276.5 77.4 L277.0 76.9 L277.5 76.2 L278.0 75.4 L278.5 74.6 L279.0 73.6 L279.5 72.6 L280.0 71.4 L280.5 70.2 L281.0 68.8 L281.5 67.3 L282.0 65.6 L282.5 63.9 L283.0 61.9" stroke="#800000"/>
<path d="M283.0 61.9 L282.8 62.8 L282.5 65.0 L282.2 68.1 L282.0 71.6 L281.8 75.0 L281.5 78.2 L281.2 81.0 L281.0 83.4 L280.8 85.5 L280.5 87.2 L280.2 88.6 L280.0 89.9 L279.8 90.9 L279.5 91.8 L279.2 92.6 L279.0 93.2 L278.8 93.8 L278.5 94.3 L278.2 94.8 L278.0 95.2 L277.8 95.5 L277.5 95.8 L277.2 96.1 L277.0 96.4 L276.8 96.6 L276.5 96.9 L276.2 97.1 L276.0 97.3 L275.8 97.4 L275.5 97.6 L275.2 97.8 L275.0 97.9 L274.8 98.1 L274.5 98.2 L274.2 98.3 L274.0 98.4 L273.8 98.5 L273.5 98.7 L273.2 98.8 L273.0 98.9 L272.8 99.0 L272.5 99.1 L272.2 99.2 L272.0 99.3 L271.8 99.3 L271.5 99.4 L271.2 99.5 L271.0 99.6 L270.8 99.7 L270.5 99.8 L270.2 99.8 L270.0 99.9 L269.8 100.0 L269.5 100.1 L269.2 100.1 L269.0 100.2 L268.8 100.3 L268.5 100.4 L268.2 100.4 L268.0 100.5 L267.8 100.6 L267.5 100.6 L267.2 100.7 L267.0 100.8 L266.8 100.8 L266.5 100.9 L266.2 100.9 L266.0 101.0 L265.8 101.1 L265.5 101.1 L265.2 101.2 L265.0 101.3 L264.8 101.3 L264.5 101.4 L264.2 101.4 L264.0 101.5 L263.8 101.5 L263.5 101.6 L263.2 101.7 L263.0 101.7 L262.8 101.8 L262.5 101.8 L262.2 101.9 L262.0 101.9 L261.3 102.1 L260.3 102.3 L259.3 102.5 L258.3 102.7 L257.3 102.9 L256.3 103.1 L255.3 103.3 L254.3 103.5 L253.3 103.7 L252.3 103.9 L251.3 104.1 L250.3 104.3 L249.3 104.5 L248.3 104.6 L247.3 104.8 L246.3 105.0 L245.3 105.2 L244.3 105.4 L243.3 105.5 L242.3 105.7 L241.3 105.9 L240.3 106.1 L239.3 106.2 L238.3 106.4 L237.3 106.6 L236.3 106.8 L235.3 106.9 L234.3 107.1 L233.3 107.2 L232.3 107.4 L231.3 107.6 L230.3 107.7 L229.3 107.9 L228.3 108.1 L227.3 108.3 L226.3 108.5 L225.3 108.6 L224.3 108.8 L223.3 109.0 L222.3 109.2 L221.3 109.4 L220.3 109.7 L219.3 109.9 L218.3 110.1 L217.3 110.4 L216.3 110.6 L215.3 110.8 L214.3 111.1 L213.3 111.3 L212.3 111.5 L211.3 111.8 L210.3 112.0 L209.3 112.2 L208.3 112.5 L207.3 112.7 L206.3 112.9 L205.3 113.1 L204.3 113.4 L203.3 113.6 L202.3 113.8 L201.3 114.0 L200.3 114.2 L199.3 114.4 L198.3 114.6 L197.3 114.8 L196.3 115.0 L195.3 115.2 L194.3 115.4 L193.3 115.6 L192.3 115.8 L191.3 116.0 L190.3 116.2 L189.3 116.4 L188.3 116.6 L187.3 116.8 L186.3 117.0 L185.3 117.2 L184.3 117.4 L183.3 117.6 L182.3 117.9 L181.3 118.1 L180.3 118.3 L179.3 118.5 L178.3 118.7 L177.3 118.9 L176.3 119.0 L175.3 119.2 L174.3 119.4 L173.3 119.6 L172.3 119.7 L171.3 119.9 L170.3 120.0 L169.3 120.1 L168.3 120.3 L167.3 120.4 L166.3 120.5 L165.3 120.6 L164.3 120.7 L163.3 120.8 L162.3 120.9 L161.3 121.1 L160.3 121.2 L159.3 121.3 L158.3 121.4 L157.3 121.5 L156.3 121.7 L155.3 121.8 L154.3 121.9 L153.3 122.1 L152.3 122.2 L151.3 122.3 L150.3 122.5 L149.3 122.6 L148.3 122.8 L147.3 123.0 L146.3 123.1 L145.3 123.3 L144.3 123.5 L143.3 123.7 L142.3 123.9 L141.3 124.1 L140.3 124.3 L139.3 124.6 L138.3 124.8 L137.3 125.0 L136.3 125.3 L135.3 125.6 L134.3 125.8 L133.3 126.1 L132.3 126.4 L131.3 126.7 L130.3 127.0 L129.3 127.4 L128.3 127.7 L127.3 128.0 L126.3 128.4 L125.3 128.8 L124.3 129.2 L123.3 129.6 L122.3 130.0 L121.3 130.4 L120.3 130.8 L119.3 131.2 L118.3 131.6 L117.3 132.1 L116.3 132.5 L115.3 132.9 L114.3 133.4 L113.3 133.8 L112.3 134.2 L111.3 134.7 L110.3 135.1 L109.3 135.6 L108.3 136.0 L107.3 136.5 L106.3 136.9 L105.3 137.4 L104.3 137.8 L103.3 138.3 L102.3 138.8 L101.3 139.3 L100.3 139.8 L99.3 140.3 L98.3 140.9 L97.3 141.4 L96.3 142.0 L95.3 142.6 L94.3 143.2 L93.3 143.8 L92.3 144.4 L91.3 145.1 L90.3 145.7 L89.3 146.4 L88.3 147.1 L87.3 147.9 L86.3 148.6 L85.3 149.4 L84.3 150.2 L83.3 151.0 L82.3 151.9 L81.3 152.7 L80.3 153.6 L79.3 154.5 L78.3 155.5 L77.3 156.5 L76.3 157.5 L75.3 158.5 L74.3 159.6 L73.3 160.7 L72.3 161.9 L71.3 163.0 L70.3 164.3 L69.3 165.6 L68.3 166.9 L67.3 168.3 L66.3 169.8 L65.3 171.5 L64.3 173.4 L63.3 175.6 L62.3 178.1 L61.3 181.2 L60.3 185.1 L59.3 189.1 L58.3 193.0" stroke="#c00040"/>
<path d="M58.3 193.0 L59.3 183.3 L60.3 175.6 L61.3 170.2 L62.3 165.8 L63.3 161.9 L64.3 158.4 L65.3 155.4 L66.3 152.7 L67.3 150.2 L68.3 147.9 L69.3 145.7 L70.3 143.5 L71.3 141.4 L72.3 139.4 L73.3 137.5 L74.3 135.8 L75.3 134.1 L76.3 132.5 L77.3 131.1 L78.3 129.7 L79.3 128.5 L80.3 127.3 L81.3 126.2 L82.3 125.2 L83.3 124.2 L84.3 123.2 L85.3 122.2 L86.3 121.3 L87.3 120.3 L88.3 119.3 L89.3 118.3 L90.3 117.4 L91.3 116.4 L92.3 115.5 L93.3 114.6 L94.3 113.7 L95.3 112.9 L96.3 112.1 L97.3 111.3 L98.3 110.6 L99.3 109.9 L100.3 109.2 L101.3 108.6 L102.3 107.9 L103.3 107.3 L104.3 106.7 L105.3 106.1 L106.3 105.6 L107.3 105.1 L108.3 104.6 L109.3 104.1 L110.3 103.6 L111.3 103.1 L112.3 102.7 L113.3 102.3 L114.3 101.9 L115.3 101.5 L116.3 101.1 L117.3 100.8 L118.3 100.4 L119.3 100.1 L120.3 99.7 L121.3 99.4 L122.3 99.1 L123.3 98.8 L124.3 98.5 L125.3 98.2 L126.3 97.9 L127.3 97.6 L128.3 97.3 L129.3 97.0 L130.3 96.7 L131.3 96.5 L132.3 96.2 L133.3 95.9 L134.3 95.6 L135.3 95.4 L136.3 95.1 L137.3 94.9 L138.3 94.6 L139.3 94.4 L140.3 94.1 L141.3 93.9 L142.3 93.7 L143.3 93.5 L144.3 93.2 L145.3 93.0 L146.3 92.8 L147.3 92.6 L148.3 92.4 L149.3 92.1 L150.3 91.9 L151.3 91.7 L152.3 91.5 L153.3 91.3 L154.3 91.1 L155.3 90.8 L156.3 90.6 L157.3 90.4 L158.3 90.2 L159.3 89.9 L160.3 89.7 L161.3 89.4 L162.3 89.2 L163.3 89.0 L164.3 88.7 L165.3 88.5 L166.3 88.3 L167.3 88.0 L168.3 87.8 L169.3 87.6 L170.3 87.5 L171.3 87.3 L172.3 87.1 L173.3 87.0 L174.3 86.8 L175.3 86.7 L176.3 86.6 L177.3 86.5 L178.3 86.4 L179.3 86.3 L180.3 86.2 L181.3 86.1 L182.3 86.0 L183.3 85.9 L184.3 85.8 L185.3 85.8 L186.3 85.7 L187.3 85.6 L188.3 85.6 L189.3 85.5 L190.3 85.4 L191.3 85.4 L192.3 85.3 L193.3 85.2 L194.3 85.2 L195.3 85.1 L196.3 85.0 L197.3 85.0 L198.3 84.9 L199.3 84.8 L200.3 84.8 L201.3 84.7 L202.3 84.6 L203.3 84.5 L204.3 84.4 L205.3 84.4 L206.3 84.3 L207.3 84.2 L208.3 84.1 L209.3 84.0 L210.3 83.9 L211.3 83.8 L212.3 83.8 L213.3 83.7 L214.3 83.6 L215.3 83.5 L216.3 83.3 L217.3 83.1 L218.3 83.0 L219.3 82.8 L220.3 82.7 L221.3 82.5 L222.3 82.4 L223.3 82.2 L224.3 82.0 L225.3 81.9 L226.3 81.7 L227.3 81.6 L228.3 81.5 L229.3 81.3 L230.3 81.2 L231.3 81.0 L232.3 80.9 L233.3 80.7 L234.3 80.6 L235.3 80.4 L236.3 80.3 L237.3 80.2 L238.3 80.0 L239.3 79.9 L240.3 79.8 L241.3 79.7 L242.3 79.5 L243.3 79.4 L244.3 79.3 L245.3 79.2 L246.3 79.1 L247.3 79.0 L248.3 78.9 L249.3 78.8 L250.3 78.7 L251.3 78.7 L252.3 78.6 L253.3 78.5 L254.3 78.4 L255.3 78.3 L256.3 78.2 L257.3 78.1 L258.3 78.0 L259.3 77.9 L260.3 77.8 L261.3 77.7 L262.3 77.6 L263.3 77.5 L264.3 77.4 L265.3 77.3 L266.3 77.2 L267.3 77.1 L268.0 77.0 L268.5 77.0 L269.0 76.9 L269.5 76.9 L270.0 76.8 L270.5 76.8 L271.0 76.7 L271.5 76.6 L272.0 76.6 L272.5 76.5 L273.0 76.3 L273.5 76.2 L274.0 75.9 L274.5 75.7 L275.0 75.4 L275.5 75.1 L276.0 74.6 L276.5 74.2 L277.0 73.6 L277.5 73.0 L278.0 72.3 L278.5 71.6 L279.0 70.7 L279.5 69.8 L280.0 68.7 L280.5 67.6 L281.0 66.3 L281.5 65.0 L282.0 63.5 L282.5 62.0 L283.0 60.3" stroke="#800000"/>
<path d="M283.0 60.3 L282.8 60.8 L282.5 62.2 L282.2 64.3 L282.0 66.9 L281.8 69.6 L281.5 72.3 L281.2 74.9 L281.0 77.3 L280.8 79.5 L280.5 81.4 L280.2 83.1 L280.0 84.6 L279.8 85.9 L279.5 87.0 L279.2 88.0 L279.0 88.9 L278.8 89.7 L278.5 90.4 L278.2 91.0 L278.0 91.6 L277.8 92.1 L277.5 92.5 L277.2 92.9 L277.0 93.3 L276.8 93.7 L276.5 94.0 L276.2 94.3 L276.0 94.5 L275.8 94.8 L275.5 95.0 L275.2 95.3 L275.0 95.5 L274.8 95.7 L274.5 95.8 L274.2 96.0 L274.0 96.2 L273.8 96.3 L273.5 96.5 L273.2 96.6 L273.0 96.8 L272.8 96.9 L272.5 97.0 L272.2 97.2 L272.0 97.3 L271.8 97.4 L271.5 97.5 L271.2 97.6 L271.0 97.7 L270.8 97.8 L270.5 97.9 L270.2 98.0 L270.0 98.1 L269.8 98.2 L269.5 98.3 L269.2 98.4 L269.0 98.5 L268.8 98.6 L268.5 98.7 L268.2 98.8 L268.0 98.9 L267.8 98.9 L267.5 99.0 L267.2 99.1 L267.0 99.2 L266.8 99.3 L266.5 99.3 L266.2 99.4 L266.0 99.5 L265.8 99.6 L265.5 99.6 L265.2 99.7 L265.0 99.8 L264.8 99.9 L264.5 99.9 L264.2 100.0 L264.0 100.1 L263.8 100.1 L263.5 100.2 L263.2 100.3 L263.0 100.3 L262.8 100.4 L262.5 100.5 L262.2 100.5 L262.0 100.6 L261.3 100.8 L260.3 101.0 L259.3 101.3 L258.3 101.5 L257.3 101.8 L256.3 102.0 L255.3 102.2 L254.3 102.5 L253.3 102.7 L252.3 103.0 L251.3 103.2 L250.3 103.4 L249.3 103.6 L248.3 103.8 L247.3 104.0 L246.3 104.2 L245.3 104.5 L244.3 104.7 L243.3 104.9 L242.3 105.1 L241.3 105.3 L240.3 105.5 L239.3 105.7 L238.3 105.9 L237.3 106.1 L236.3 106.3 L235.3 106.5 L234.3 106.7 L233.3 106.9 L232.3 107.1 L231.3 107.3 L230.3 107.5 L229.3 107.7 L228.3 107.9 L227.3 108.1 L226.3 108.4 L225.3 108.6 L224.3 108.8 L223.3 109.0 L222.3 109.3 L221.3 109.5 L220.3 109.8 L219.3 110.1 L218.3 110.3 L217.3 110.5 L216.3 110.8 L215.3 111.0 L214.3 111.3 L213.3 111.5 L212.3 111.8 L211.3 112.0 L210.3 112.3 L209.3 112.5 L208.3 112.7 L207.3 113.0 L206.3 113.2 L205.3 113.5 L204.3 113.7 L203.3 113.9 L202.3 114.1 L201.3 114.4 L200.3 114.6 L199.3 114.8 L198.3 115.0 L197.3 115.2 L196.3 115.4 L195.3 115.7 L194.3 115.9 L193.3 116.1 L192.3 116.3 L191.3 116.5 L190.3 116.7 L189.3 116.9 L188.3 117.1 L187.3 117.3 L186.3 117.5 L185.3 117.7 L184.3 117.9 L183.3 118.1 L182.3 118.4 L181.3 118.6 L180.3 118.8 L179.3 119.0 L178.3 119.2 L177.3 119.4 L176.3 119.5 L175.3 119.7 L174.3 119.9 L173.3 120.1 L172.3 120.2 L171.3 120.4 L170.3 120.5 L169.3 120.6 L168.3 120.7 L167.3 120.9 L166.3 121.0 L165.3 121.1 L164.3 121.2 L163.3 121.3 L162.3 121.4 L161.3 121.6 L160.3 121.7 L159.3 121.8 L158.3 121.9 L157.3 122.0 L156.3 122.2 L155.3 122.3 L154.3 122.4 L153.3 122.5 L152.3 122.7 L151.3 122.8 L150.3 123.0 L149.3 123.1 L148.3 123.3 L147.3 123.5 L146.3 123.6 L145.3 123.8 L144.3 124.0 L143.3 124.2 L142.3 124.4 L141.3 124.6 L140.3 124.8 L139.3 125.1 L138.3 125.3 L137.3 125.6 L136.3 125.8 L135.3 126.1 L134.3 126.3 L133.3 126.6 L132.3 126.9 L131.3 127.2 L130.3 127.5 L129.3 127.9 L128.3 128.2 L127.3 128.6 L126.3 128.9 L125.3 129.3 L124.3 129.7 L123.3 130.1 L122.3 130.5 L121.3 130.9 L120.3 131.3 L119.3 131.7 L118.3 132.2 L117.3 132.6 L116.3 133.0 L115.3 133.5 L114.3 133.9 L113.3 134.3 L112.3 134.8 L111.3 135.2 L110.3 135.7 L109.3 136.1 L108.3 136.6 L107.3 137.0 L106.3 137.5 L105.3 137.9 L104.3 138.4 L103.3 138.9 L102.3 139.3 L101.3 139.8 L100.3 140.4 L99.3 140.9 L98.3 141.4 L97.3 142.0 L96.3 142.6 L95.3 143.1 L94.3 143.7 L93.3 144.4 L92.3 145.0 L91.3 145.7 L90.3 146.3 L89.3 147.0 L88.3 147.7 L87.3 148.5 L86.3 149.2 L85.3 150.0 L84.3 150.8 L83.3 151.7 L82.3 152.5 L81.3 153.4 L80.3 154.3 L79.3 155.2 L78.3 156.2 L77.3 157.1 L76.3 158.2 L75.3 159.2 L74.3 160.3 L73.3 161.4 L72.3 162.6 L71.3 163.8 L70.3 165.1 L69.3 166.4 L68.3 167.7 L67.3 169.2 L66.3 170.7 L65.3 172.3 L64.3 174.1 L63.3 176.2 L62.3 178.6 L61.3 181.7 L60.3 185.4 L59.3 189.3 L58.3 193.1" stroke="#800080"/>
<path d="M58.3 193.0 L59.3 183.2 L60.3 175.4 L61.3 170.0 L62.3 165.5 L63.3 161.5 L64.3 157.9 L65.3 154.9 L66.3 152.2 L67.3 149.8 L68.3 147.4 L69.3 145.2 L70.3 143.0 L71.3 140.9 L72.3 138.9 L73.3 137.0 L74.3 135.3 L75.3 133.6 L76.3 132.0 L77.3 130.6 L78.3 129.2 L79.3 128.0 L80.3 126.9 L81.3 125.8 L82.3 124.7 L83.3 123.7 L84.3 122.7 L85.3 121.8 L86.3 120.8 L87.3 119.8 L88.3 118.8 L89.3 117.9 L90.3 116.9 L91.3 115.9 L92.3 115.0 L93.3 114.1 L94.3 113.3 L95.3 112.5 L96.3 111.7 L97.3 110.9 L98.3 110.2 L99.3 109.5 L100.3 108.8 L101.3 108.2 L102.3 107.5 L103.3 106.9 L104.3 106.3 L105.3 105.8 L106.3 105.2 L107.3 104.7 L108.3 104.2 L109.3 103.7 L110.3 103.2 L111.3 102.8 L112.3 102.3 L113.3 101.9 L114.3 101.5 L115.3 101.1 L116.3 100.8 L117.3 100.4 L118.3 100.0 L119.3 99.7 L120.3 99.4 L121.3 99.1 L122.3 98.7 L123.3 98.4 L124.3 98.1 L125.3 97.8 L126.3 97.5 L127.3 97.3 L128.3 97.0 L129.3 96.7 L130.3 96.4 L131.3 96.1 L132.3 95.8 L133.3 95.6 L134.3 95.3 L135.3 95.0 L136.3 94.8 L137.3 94.5 L138.3 94.3 L139.3 94.0 L140.3 93.8 L141.3 93.6 L142.3 93.3 L143.3 93.1 L144.3 92.9 L145.3 92.7 L146.3 92.4 L147.3 92.2 L148.3 92.0 L149.3 91.8 L150.3 91.6 L151.3 91.4 L152.3 91.2 L153.3 90.9 L154.3 90.7 L155.3 90.5 L156.3 90.3 L157.3 90.1 L158.3 89.8 L159.3 89.6 L160.3 89.3 L161.3 89.1 L162.3 88.9 L163.3 88.6 L164.3 88.4 L165.3 88.1 L166.3 87.9 L167.3 87.7 L168.3 87.5 L169.3 87.3 L170.3 87.1 L171.3 87.0 L172.3 86.8 L173.3 86.6 L174.3 86.5 L175.3 86.4 L176.3 86.3 L177.3 86.1 L178.3 86.0 L179.3 85.9 L180.3 85.8 L181.3 85.7 L182.3 85.7 L183.3 85.6 L184.3 85.5 L185.3 85.4 L186.3 85.4 L187.3 85.3 L188.3 85.2 L189.3 85.2 L190.3 85.1 L191.3 85.0 L192.3 85.0 L193.3 84.9 L194.3 84.8 L195.3 84.7 L196.3 84.7 L197.3 84.6 L198.3 84.5 L199.3 84.4 L200.3 84.3 L201.3 84.2 L202.3 84.1 L203.3 84.1 L204.3 84.0 L205.3 83.9 L206.3 83.8 L207.3 83.7 L208.3 83.6 L209.3 83.5 L210.3 83.4 L211.3 83.3 L212.3 83.2 L213.3 83.1 L214.3 83.0 L215.3 82.9 L216.3 82.7 L217.3 82.5 L218.3 82.3 L219.3 82.1 L220.3 81.9 L221.3 81.7 L222.3 81.5 L223.3 81.3 L224.3 81.1 L225.3 80.9 L226.3 80.8 L227.3 80.6 L228.3 80.4 L229.3 80.2 L230.3 80.0 L231.3 79.8 L232.3 79.6 L233.3 79.4 L234.3 79.2 L235.3 79.0 L236.3 78.8 L237.3 78.7 L238.3 78.5 L239.3 78.3 L240.3 78.1 L241.3 78.0 L242.3 77.8 L243.3 77.7 L244.3 77.6 L245.3 77.4 L246.3 77.3 L247.3 77.2 L248.3 77.0 L249.3 76.9 L250.3 76.8 L251.3 76.7 L252.3 76.5 L253.3 76.4 L254.3 76.3 L255.3 76.2 L256.3 76.1 L257.3 75.9 L258.3 75.8 L259.3 75.7 L260.3 75.6 L261.3 75.5 L262.3 75.4 L263.3 75.2 L264.3 75.1 L265.3 75.0 L266.3 74.9 L267.3 74.8 L268.0 74.7 L268.5 74.6 L269.0 74.5 L269.5 74.5 L270.0 74.4 L270.5 74.4 L271.0 74.3 L271.5 74.2 L272.0 74.1 L272.5 74.0 L273.0 73.9 L273.5 73.7 L274.0 73.5 L274.5 73.3 L275.0 73.0 L275.5 72.6 L276.0 72.3 L276.5 71.8 L277.0 71.3 L277.5 70.7 L278.0 70.1 L278.5 69.4 L279.0 68.6 L279.5 67.8 L280.0 66.8 L280.5 65.8 L281.0 64.7 L281.5 63.4 L282.0 62.1 L282.5 60.7 L283.0 59.2" stroke="#800000"/>
<path d="M283.0 59.2 L282.8 59.6 L282.5 60.7 L282.2 62.3 L282.0 64.2 L281.8 66.5 L281.5 68.8 L281.2 71.1 L281.0 73.3 L280.8 75.4 L280.5 77.3 L280.2 79.0 L280.0 80.6 L279.8 82.0 L279.5 83.3 L279.2 84.4 L279.0 85.4 L278.8 86.4 L278.5 87.2 L278.2 87.9 L278.0 88.6 L277.8 89.2 L277.5 89.8 L277.2 90.3 L277.0 90.7 L276.8 91.2 L276.5 91.6 L276.2 91.9 L276.0 92.3 L275.8 92.6 L275.5 92.9 L275.2 93.1 L275.0 93.4 L274.8 93.6 L274.5 93.9 L274.2 94.1 L274.0 94.3 L273.8 94.5 L273.5 94.7 L273.2 94.8 L273.0 95.0 L272.8 95.2 L272.5 95.3 L272.2 95.5 L272.0 95.6 L271.8 95.8 L271.5 95.9 L271.2 96.0 L271.0 96.2 L270.8 96.3 L270.5 96.4 L270.2 96.5 L270.0 96.7 L269.8 96.8 L269.5 96.9 L269.2 97.0 L269.0 97.1 L268.8 97.2 L268.5 97.3 L268.2 97.4 L268.0 97.5 L267.8 97.6 L267.5 97.7 L267.2 97.8 L267.0 97.9 L266.8 98.0 L266.5 98.1 L266.2 98.1 L266.0 98.2 L265.8 98.3 L265.5 98.4 L265.2 98.5 L265.0 98.6 L264.8 98.7 L264.5 98.7 L264.2 98.8 L264.0 98.9 L263.8 99.0 L263.5 99.1 L263.2 99.1 L263.0 99.2 L262.8 99.3 L262.5 99.4 L262.2 99.4 L262.0 99.5 L261.3 99.7 L260.3 100.0 L259.3 100.3 L258.3 100.5 L257.3 100.8 L256.3 101.1 L255.3 101.3 L254.3 101.6 L253.3 101.9 L252.3 102.2 L251.3 102.4 L250.3 102.6 L249.3 102.9 L248.3 103.1 L247.3 103.4 L246.3 103.6 L245.3 103.9 L244.3 104.1 L243.3 104.3 L242.3 104.6 L241.3 104.8 L240.3 105.1 L239.3 105.3 L238.3 105.5 L237.3 105.8 L236.3 106.0 L235.3 106.2 L234.3 106.4 L233.3 106.7 L232.3 106.9 L231.3 107.1 L230.3 107.3 L229.3 107.6 L228.3 107.8 L227.3 108.1 L226.3 108.3 L225.3 108.5 L224.3 108.8 L223.3 109.1 L222.3 109.3 L221.3 109.6 L220.3 110.0 L219.3 110.2 L218.3 110.5 L217.3 110.7 L216.3 111.0 L215.3 111.2 L214.3 111.5 L213.3 111.8 L212.3 112.0 L211.3 112.3 L210.3 112.5 L209.3 112.8 L208.3 113.0 L207.3 113.3 L206.3 113.5 L205.3 113.8 L204.3 114.0 L203.3 114.3 L202.3 114.5 L201.3 114.7 L200.3 115.0 L199.3 115.2 L198.3 115.4 L197.3 115.6 L196.3 115.9 L195.3 116.1 L194.3 116.3 L193.3 116.5 L192.3 116.8 L191.3 117.0 L190.3 117.2 L189.3 117.4 L188.3 117.6 L187.3 117.8 L186.3 118.0 L185.3 118.2 L184.3 118.4 L183.3 118.6 L182.3 118.8 L181.3 119.0 L180.3 119.3 L179.3 119.5 L178.3 119.6 L177.3 119.8 L176.3 120.0 L175.3 120.2 L174.3 120.4 L173.3 120.5 L172.3 120.7 L171.3 120.8 L170.3 121.0 L169.3 121.1 L168.3 121.2 L167.3 121.4 L166.3 121.5 L165.3 121.6 L164.3 121.7 L163.3 121.8 L162.3 121.9 L161.3 122.0 L160.3 122.2 L159.3 122.3 L158.3 122.4 L157.3 122.5 L156.3 122.6 L155.3 122.8 L154.3 122.9 L153.3 123.0 L152.3 123.2 L151.3 123.3 L150.3 123.5 L149.3 123.6 L148.3 123.8 L147.3 123.9 L146.3 124.1 L145.3 124.3 L144.3 124.5 L143.3 124.7 L142.3 124.9 L141.3 125.1 L140.3 125.3 L139.3 125.6 L138.3 125.8 L137.3 126.0 L136.3 126.3 L135.3 126.6 L134.3 126.8 L133.3 127.1 L132.3 127.4 L131.3 127.7 L130.3 128.1 L129.3 128.4 L128.3 128.7 L127.3 129.1 L126.3 129.4 L125.3 129.8 L124.3 130.2 L123.3 130.6 L122.3 131.0 L121.3 131.4 L120.3 131.8 L119.3 132.3 L118.3 132.7 L117.3 133.1 L116.3 133.6 L115.3 134.0 L114.3 134.4 L113.3 134.9 L112.3 135.3 L111.3 135.7 L110.3 136.2 L109.3 136.6 L108.3 137.1 L107.3 137.5 L106.3 138.0 L105.3 138.4 L104.3 138.9 L103.3 139.4 L102.3 139.9 L101.3 140.4 L100.3 140.9 L99.3 141.4 L98.3 142.0 L97.3 142.5 L96.3 143.1 L95.3 143.7 L94.3 144.3 L93.3 144.9 L92.3 145.6 L91.3 146.2 L90.3 146.9 L89.3 147.6 L88.3 148.3 L87.3 149.1 L86.3 149.8 L85.3 150.6 L84.3 151.4 L83.3 152.3 L82.3 153.1 L81.3 154.0 L80.3 154.9 L79.3 155.9 L78.3 156.8 L77.3 157.8 L76.3 158.8 L75.3 159.9 L74.3 161.0 L73.3 162.2 L72.3 163.3 L71.3 164.5 L70.3 165.8 L69.3 167.2 L68.3 168.5 L67.3 170.0 L66.3 171.6 L65.3 173.1 L64.3 174.9 L63.3 176.9 L62.3 179.1 L61.3 182.1 L60.3 185.7 L59.3 189.5 L58.3 193.1" stroke="#000080"/>
<path d="M58.3 193.0 L59.3 183.1 L60.3 175.3 L61.3 169.8 L62.3 165.2 L63.3 161.1 L64.3 157.5 L65.3 154.5 L66.3 151.8 L67.3 149.3 L68.3 147.0 L69.3 144.7 L70.3 142.6 L71.3 140.5 L72.3 138.4 L73.3 136.6 L74.3 134.8 L75.3 133.1 L76.3 131.6 L77.3 130.1 L78.3 128.8 L79.3 127.5 L80.3 126.4 L81.3 125.3 L82.3 124.3 L83.3 123.3 L84.3 122.3 L85.3 121.3 L86.3 120.3 L87.3 119.3 L88.3 118.4 L89.3 117.4 L90.3 116.4 L91.3 115.5 L92.3 114.6 L93.3 113.7 L94.3 112.8 L95.3 112.0 L96.3 111.3 L97.3 110.5 L98.3 109.8 L99.3 109.1 L100.3 108.4 L101.3 107.8 L102.3 107.1 L103.3 106.5 L104.3 105.9 L105.3 105.4 L106.3 104.8 L107.3 104.3 L108.3 103.8 L109.3 103.3 L110.3 102.9 L111.3 102.4 L112.3 102.0 L113.3 101.6 L114.3 101.2 L115.3 100.8 L116.3 100.4 L117.3 100.0 L118.3 99.7 L119.3 99.4 L120.3 99.0 L121.3 98.7 L122.3 98.4 L123.3 98.1 L124.3 97.8 L125.3 97.5 L126.3 97.2 L127.3 96.9 L128.3 96.6 L129.3 96.3 L130.3 96.0 L131.3 95.8 L132.3 95.5 L133.3 95.2 L134.3 94.9 L135.3 94.7 L136.3 94.4 L137.3 94.2 L138.3 93.9 L139.3 93.7 L140.3 93.5 L141.3 93.2 L142.3 93.0 L143.3 92.8 L144.3 92.5 L145.3 92.3 L146.3 92.1 L147.3 91.9 L148.3 91.7 L149.3 91.5 L150.3 91.2 L151.3 91.0 L152.3 90.8 L153.3 90.6 L154.3 90.4 L155.3 90.2 L156.3 89.9 L157.3 89.7 L158.3 89.5 L159.3 89.2 L160.3 89.0 L161.3 88.8 L162.3 88.5 L163.3 88.3 L164.3 88.0 L165.3 87.8 L166.3 87.6 L167.3 87.4 L168.3 87.2 L169.3 87.0 L170.3 86.8 L171.3 86.6 L172.3 86.5 L173.3 86.3 L174.3 86.2 L175.3 86.0 L176.3 85.9 L177.3 85.8 L178.3 85.7 L179.3 85.6 L180.3 85.5 L181.3 85.4 L182.3 85.3 L183.3 85.2 L184.3 85.2 L185.3 85.1 L186.3 85.0 L187.3 84.9 L188.3 84.9 L189.3 84.8 L190.3 84.7 L191.3 84.7 L192.3 84.6 L193.3 84.5 L194.3 84.4 L195.3 84.3 L196.3 84.2 L197.3 84.1 L198.3 84.0 L199.3 83.9 L200.3 83.8 L201.3 83.7 L202.3 83.6 L203.3 83.5 L204.3 83.4 L205.3 83.3 L206.3 83.2 L207.3 83.1 L208.3 82.9 L209.3 82.8 L210.3 82.7 L211.3 82.6 L212.3 82.4 L213.3 82.3 L214.3 82.2 L215.3 82.0 L216.3 81.8 L217.3 81.6 L218.3 81.3 L219.3 81.1 L220.3 80.8 L221.3 80.6 L222.3 80.4 L223.3 80.1 L224.3 79.9 L225.3 79.7 L226.3 79.4 L227.3 79.2 L228.3 78.9 L229.3 78.7 L230.3 78.5 L231.3 78.2 L232.3 77.9 L233.3 77.6 L234.3 77.4 L235.3 77.1 L236.3 76.9 L237.3 76.6 L238.3 76.4 L239.3 76.1 L240.3 75.9 L241.3 75.7 L242.3 75.5 L243.3 75.3 L244.3 75.2 L245.3 75.0 L246.3 74.8 L247.3 74.7 L248.3 74.5 L249.3 74.4 L250.3 74.2 L251.3 74.1 L252.3 73.9 L253.3 73.8 L254.3 73.6 L255.3 73.5 L256.3 73.4 L257.3 73.2 L258.3 73.1 L259.3 73.0 L260.3 72.8 L261.3 72.7 L262.3 72.5 L263.3 72.4 L264.3 72.3 L265.3 72.1 L266.3 72.0 L267.3 71.9 L268.0 71.8 L268.5 71.7 L269.0 71.6 L269.5 71.6 L270.0 71.5 L270.5 71.4 L271.0 71.4 L271.5 71.3 L272.0 71.2 L272.5 71.1 L273.0 70.9 L273.5 70.8 L274.0 70.6 L274.5 70.3 L275.0 70.1 L275.5 69.8 L276.0 69.4 L276.5 69.0 L277.0 68.5 L277.5 68.0 L278.0 67.5 L278.5 66.8 L279.0 66.1 L279.5 65.4 L280.0 64.5 L280.5 63.6 L281.0 62.7 L281.5 61.6 L282.0 60.5 L282.5 59.3 L283.0 58.0" stroke="#ff0080"/>
<path d="M283.0 58.0 L282.8 58.3 L282.5 59.0 L282.2 60.2 L282.0 61.7 L281.8 63.5 L281.5 65.4 L281.2 67.3 L281.0 69.3 L280.8 71.2 L280.5 73.0 L280.2 74.7 L280.0 76.3 L279.8 77.7 L279.5 79.1 L279.2 80.3 L279.0 81.4 L278.8 82.4 L278.5 83.4 L278.2 84.2 L278.0 85.0 L277.8 85.7 L277.5 86.4 L277.2 87.0 L277.0 87.6 L276.8 88.1 L276.5 88.6 L276.2 89.0 L276.0 89.4 L275.8 89.8 L275.5 90.2 L275.2 90.5 L275.0 90.8 L274.8 91.1 L274.5 91.4 L274.2 91.7 L274.0 91.9 L273.8 92.2 L273.5 92.4 L273.2 92.6 L273.0 92.8 L272.8 93.0 L272.5 93.2 L272.2 93.4 L272.0 93.6 L271.8 93.8 L271.5 93.9 L271.2 94.1 L271.0 94.2 L270.8 94.4 L270.5 94.5 L270.2 94.7 L270.0 94.8 L269.8 95.0 L269.5 95.1 L269.2 95.2 L269.0 95.3 L268.8 95.5 L268.5 95.6 L268.2 95.7 L268.0 95.8 L267.8 95.9 L267.5 96.1 L267.2 96.2 L267.0 96.3 L266.8 96.4 L266.5 96.5 L266.2 96.6 L266.0 96.7 L265.8 96.8 L265.5 96.9 L265.2 97.0 L265.0 97.1 L264.8 97.2 L264.5 97.3 L264.2 97.4 L264.0 97.5 L263.8 97.6 L263.5 97.7 L263.2 97.7 L263.0 97.8 L262.8 97.9 L262.5 98.0 L262.2 98.1 L262.0 98.2 L261.3 98.4 L260.3 98.7 L259.3 99.1 L258.3 99.4 L257.3 99.7 L256.3 100.0 L255.3 100.3 L254.3 100.6 L253.3 100.9 L252.3 101.2 L251.3 101.5 L250.3 101.7 L249.3 102.0 L248.3 102.3 L247.3 102.6 L246.3 102.9 L245.3 103.1 L244.3 103.4 L243.3 103.7 L242.3 104.0 L241.3 104.2 L240.3 104.5 L239.3 104.8 L238.3 105.0 L237.3 105.3 L236.3 105.6 L235.3 105.8 L234.3 106.1 L233.3 106.3 L232.3 106.6 L231.3 106.9 L230.3 107.1 L229.3 107.4 L228.3 107.7 L227.3 107.9 L226.3 108.2 L225.3 108.5 L224.3 108.8 L223.3 109.1 L222.3 109.4 L221.3 109.7 L220.3 110.1 L219.3 110.4 L218.3 110.6 L217.3 110.9 L216.3 111.2 L215.3 111.4 L214.3 111.7 L213.3 112.0 L212.3 112.2 L211.3 112.5 L210.3 112.8 L209.3 113.0 L208.3 113.3 L207.3 113.6 L206.3 113.8 L205.3 114.1 L204.3 114.3 L203.3 114.6 L202.3 114.8 L201.3 115.1 L200.3 115.3 L199.3 115.6 L198.3 115.8 L197.3 116.1 L196.3 116.3 L195.3 116.5 L194.3 116.8 L193.3 117.0 L192.3 117.2 L191.3 117.4 L190.3 117.7 L189.3 117.9 L188.3 118.1 L187.3 118.3 L186.3 118.5 L185.3 118.7 L184.3 118.9 L183.3 119.1 L182.3 119.3 L181.3 119.5 L180.3 119.7 L179.3 119.9 L178.3 120.1 L177.3 120.3 L176.3 120.5 L175.3 120.7 L174.3 120.9 L173.3 121.0 L172.3 121.2 L171.3 121.3 L170.3 121.5 L169.3 121.6 L168.3 121.7 L167.3 121.8 L166.3 122.0 L165.3 122.1 L164.3 122.2 L163.3 122.3 L162.3 122.4 L161.3 122.5 L160.3 122.6 L159.3 122.8 L158.3 122.9 L157.3 123.0 L156.3 123.1 L155.3 123.3 L154.3 123.4 L153.3 123.5 L152.3 123.7 L151.3 123.8 L150.3 124.0 L149.3 124.1 L148.3 124.3 L147.3 124.4 L146.3 124.6 L145.3 124.8 L144.3 125.0 L143.3 125.2 L142.3 125.4 L141.3 125.6 L140.3 125.8 L139.3 126.1 L138.3 126.3 L137.3 126.6 L136.3 126.8 L135.3 127.1 L134.3 127.4 L133.3 127.6 L132.3 127.9 L131.3 128.2 L130.3 128.6 L129.3 128.9 L128.3 129.2 L127.3 129.6 L126.3 130.0 L125.3 130.3 L124.3 130.7 L123.3 131.1 L122.3 131.5 L121.3 132.0 L120.3 132.4 L119.3 132.8 L118.3 133.2 L117.3 133.7 L116.3 134.1 L115.3 134.5 L114.3 135.0 L113.3 135.4 L112.3 135.8 L111.3 136.3 L110.3 136.7 L109.3 137.2 L108.3 137.6 L107.3 138.1 L106.3 138.5 L105.3 139.0 L104.3 139.5 L103.3 139.9 L102.3 140.4 L101.3 140.9 L100.3 141.4 L99.3 142.0 L98.3 142.5 L97.3 143.1 L96.3 143.7 L95.3 144.3 L94.3 144.9 L93.3 145.5 L92.3 146.2 L91.3 146.8 L90.3 147.5 L89.3 148.2 L88.3 148.9 L87.3 149.7 L86.3 150.5 L85.3 151.2 L84.3 152.1 L83.3 152.9 L82.3 153.8 L81.3 154.7 L80.3 155.6 L79.3 156.5 L78.3 157.5 L77.3 158.5 L76.3 159.5 L75.3 160.6 L74.3 161.7 L73.3 162.9 L72.3 164.1 L71.3 165.3 L70.3 166.6 L69.3 168.0 L68.3 169.4 L67.3 170.8 L66.3 172.4 L65.3 174.0 L64.3 175.7 L63.3 177.5 L62.3 179.7 L61.3 182.5 L60.3 185.9 L59.3 189.6 L58.3 193.2" stroke="#ff0080"/>
<path d="M58.3 193.0 L59.3 183.0 L60.3 175.1 L61.3 169.5 L62.3 164.9 L63.3 160.7 L64.3 157.0 L65.3 154.0 L66.3 151.3 L67.3 148.8 L68.3 146.5 L69.3 144.3 L70.3 142.1 L71.3 140.0 L72.3 138.0 L73.3 136.1 L74.3 134.4 L75.3 132.7 L76.3 131.1 L77.3 129.7 L78.3 128.3 L79.3 127.1 L80.3 125.9 L81.3 124.8 L82.3 123.8 L83.3 122.8 L84.3 121.8 L85.3 120.8 L86.3 119.9 L87.3 118.9 L88.3 117.9 L89.3 116.9 L90.3 116.0 L91.3 115.0 L92.3 114.1 L93.3 113.3 L94.3 112.4 L95.3 111.6 L96.3 110.8 L97.3 110.1 L98.3 109.4 L99.3 108.7 L100.3 108.0 L101.3 107.4 L102.3 106.7 L103.3 106.1 L104.3 105.6 L105.3 105.0 L106.3 104.5 L107.3 103.9 L108.3 103.4 L109.3 103.0 L110.3 102.5 L111.3 102.1 L112.3 101.6 L113.3 101.2 L114.3 100.8 L115.3 100.4 L116.3 100.1 L117.3 99.7 L118.3 99.3 L119.3 99.0 L120.3 98.7 L121.3 98.4 L122.3 98.0 L123.3 97.7 L124.3 97.4 L125.3 97.1 L126.3 96.8 L127.3 96.6 L128.3 96.3 L129.3 96.0 L130.3 95.7 L131.3 95.4 L132.3 95.1 L133.3 94.9 L134.3 94.6 L135.3 94.3 L136.3 94.1 L137.3 93.8 L138.3 93.6 L139.3 93.4 L140.3 93.1 L141.3 92.9 L142.3 92.7 L143.3 92.4 L144.3 92.2 L145.3 92.0 L146.3 91.8 L147.3 91.5 L148.3 91.3 L149.3 91.1 L150.3 90.9 L151.3 90.7 L152.3 90.5 L153.3 90.3 L154.3 90.0 L155.3 89.8 L156.3 89.6 L157.3 89.4 L158.3 89.1 L159.3 88.9 L160.3 88.7 L161.3 88.4 L162.3 88.2 L163.3 87.9 L164.3 87.7 L165.3 87.5 L166.3 87.2 L167.3 87.0 L168.3 86.8 L169.3 86.6 L170.3 86.4 L171.3 86.3 L172.3 86.1 L173.3 86.0 L174.3 85.8 L175.3 85.7 L176.3 85.6 L177.3 85.5 L178.3 85.4 L179.3 85.3 L180.3 85.2 L181.3 85.1 L182.3 85.0 L183.3 84.9 L184.3 84.8 L185.3 84.7 L186.3 84.7 L187.3 84.6 L188.3 84.5 L189.3 84.4 L190.3 84.4 L191.3 84.3 L192.3 84.2 L193.3 84.1 L194.3 84.0 L195.3 83.9 L196.3 83.7 L197.3 83.6 L198.3 83.5 L199.3 83.3 L200.3 83.2 L201.3 83.0 L202.3 82.9 L203.3 82.8 L204.3 82.6 L205.3 82.5 L206.3 82.4 L207.3 82.2 L208.3 82.0 L209.3 81.9 L210.3 81.7 L211.3 81.5 L212.3 81.4 L213.3 81.2 L214.3 81.0 L215.3 80.8 L216.3 80.5 L217.3 80.2 L218.3 79.9 L219.3 79.6 L220.3 79.3 L221.3 79.0 L222.3 78.7 L223.3 78.4 L224.3 78.1 L225.3 77.8 L226.3 77.5 L227.3 77.2 L228.3 76.9 L229.3 76.6 L230.3 76.2 L231.3 75.9 L232.3 75.5 L233.3 75.1 L234.3 74.7 L235.3 74.4 L236.3 74.0 L237.3 73.7 L238.3 73.3 L239.3 73.0 L240.3 72.7 L241.3 72.4 L242.3 72.2 L243.3 72.0 L244.3 71.7 L245.3 71.5 L246.3 71.3 L247.3 71.1 L248.3 70.9 L249.3 70.7 L250.3 70.6 L251.3 70.4 L252.3 70.2 L253.3 70.1 L254.3 69.9 L255.3 69.8 L256.3 69.6 L257.3 69.4 L258.3 69.3 L259.3 69.1 L260.3 69.0 L261.3 68.8 L262.3 68.7 L263.3 68.5 L264.3 68.4 L265.3 68.3 L266.3 68.1 L267.3 68.0 L268.0 67.9 L268.5 67.8 L269.0 67.7 L269.5 67.6 L270.0 67.6 L270.5 67.5 L271.0 67.4 L271.5 67.3 L272.0 67.2 L272.5 67.1 L273.0 67.0 L273.5 66.8 L274.0 66.6 L274.5 66.4 L275.0 66.2 L275.5 65.9 L276.0 65.6 L276.5 65.3 L277.0 64.9 L277.5 64.4 L278.0 63.9 L278.5 63.4 L279.0 62.8 L279.5 62.2 L280.0 61.5 L280.5 60.8 L281.0 60.0 L281.5 59.1 L282.0 58.2 L282.5 57.3 L283.0 56.3" stroke="#008000"/>
<path d="M283.0 56.3 L282.8 56.5 L282.5 57.1 L282.2 57.9 L282.0 59.0 L281.8 60.3 L281.5 61.8 L281.2 63.3 L281.0 64.9 L280.8 66.6 L280.5 68.2 L280.2 69.7 L280.0 71.2 L279.8 72.6 L279.5 74.0 L279.2 75.2 L279.0 76.4 L278.8 77.5 L278.5 78.5 L278.2 79.5 L278.0 80.4 L277.8 81.2 L277.5 82.0 L277.2 82.7 L277.0 83.3 L276.8 84.0 L276.5 84.5 L276.2 85.1 L276.0 85.6 L275.8 86.1 L275.5 86.5 L275.2 86.9 L275.0 87.3 L274.8 87.7 L274.5 88.0 L274.2 88.4 L274.0 88.7 L273.8 89.0 L273.5 89.3 L273.2 89.6 L273.0 89.8 L272.8 90.1 L272.5 90.3 L272.2 90.6 L272.0 90.8 L271.8 91.0 L271.5 91.2 L271.2 91.4 L271.0 91.6 L270.8 91.8 L270.5 92.0 L270.2 92.1 L270.0 92.3 L269.8 92.5 L269.5 92.7 L269.2 92.8 L269.0 93.0 L268.8 93.1 L268.5 93.3 L268.2 93.4 L268.0 93.6 L267.8 93.7 L267.5 93.8 L267.2 94.0 L267.0 94.1 L266.8 94.2 L266.5 94.4 L266.2 94.5 L266.0 94.6 L265.8 94.7 L265.5 94.9 L265.2 95.0 L265.0 95.1 L264.8 95.2 L264.5 95.3 L264.2 95.4 L264.0 95.5 L263.8 95.6 L263.5 95.8 L263.2 95.9 L263.0 96.0 L262.8 96.1 L262.5 96.2 L262.2 96.3 L262.0 96.4 L261.3 96.6 L260.3 97.0 L259.3 97.4 L258.3 97.8 L257.3 98.1 L256.3 98.5 L255.3 98.8 L254.3 99.2 L253.3 99.5 L252.3 99.9 L251.3 100.2 L250.3 100.5 L249.3 100.9 L248.3 101.2 L247.3 101.5 L246.3 101.8 L245.3 102.2 L244.3 102.5 L243.3 102.8 L242.3 103.1 L241.3 103.5 L240.3 103.8 L239.3 104.1 L238.3 104.4 L237.3 104.7 L236.3 105.0 L235.3 105.3 L234.3 105.6 L233.3 105.9 L232.3 106.2 L231.3 106.5 L230.3 106.8 L229.3 107.1 L228.3 107.4 L227.3 107.7 L226.3 108.1 L225.3 108.4 L224.3 108.7 L223.3 109.1 L222.3 109.4 L221.3 109.8 L220.3 110.2 L219.3 110.5 L218.3 110.8 L217.3 111.1 L216.3 111.4 L215.3 111.6 L214.3 111.9 L213.3 112.2 L212.3 112.5 L211.3 112.8 L210.3 113.0 L209.3 113.3 L208.3 113.6 L207.3 113.9 L206.3 114.1 L205.3 114.4 L204.3 114.7 L203.3 114.9 L202.3 115.2 L201.3 115.5 L200.3 115.7 L199.3 116.0 L198.3 116.2 L197.3 116.5 L196.3 116.7 L195.3 117.0 L194.3 117.2 L193.3 117.5 L192.3 117.7 L191.3 117.9 L190.3 118.2 L189.3 118.4 L188.3 118.6 L187.3 118.8 L186.3 119.0 L185.3 119.2 L184.3 119.4 L183.3 119.6 L182.3 119.8 L181.3 120.1 L180.3 120.3 L179.3 120.5 L178.3 120.7 L177.3 120.8 L176.3 121.0 L175.3 121.2 L174.3 121.4 L173.3 121.5 L172.3 121.7 L171.3 121.8 L170.3 122.0 L169.3 122.1 L168.3 122.2 L167.3 122.4 L166.3 122.5 L165.3 122.6 L164.3 122.7 L163.3 122.8 L162.3 122.9 L161.3 123.0 L160.3 123.2 L159.3 123.3 L158.3 123.4 L157.3 123.5 L156.3 123.6 L155.3 123.8 L154.3 123.9 L153.3 124.0 L152.3 124.2 L151.3 124.3 L150.3 124.5 L149.3 124.6 L148.3 124.8 L147.3 125.0 L146.3 125.1 L145.3 125.3 L144.3 125.5 L143.3 125.7 L142.3 125.9 L141.3 126.1 L140.3 126.3 L139.3 126.6 L138.3 126.8 L137.3 127.1 L136.3 127.3 L135.3 127.6 L134.3 127.9 L133.3 128.2 L132.3 128.5 L131.3 128.8 L130.3 129.1 L129.3 129.4 L128.3 129.8 L127.3 130.1 L126.3 130.5 L125.3 130.9 L124.3 131.3 L123.3 131.7 L122.3 132.1 L121.3 132.5 L120.3 132.9 L119.3 133.3 L118.3 133.8 L117.3 134.2 L116.3 134.6 L115.3 135.1 L114.3 135.5 L113.3 135.9 L112.3 136.4 L111.3 136.8 L110.3 137.3 L109.3 137.7 L108.3 138.2 L107.3 138.6 L106.3 139.1 L105.3 139.5 L104.3 140.0 L103.3 140.5 L102.3 141.0 L101.3 141.5 L100.3 142.0 L99.3 142.5 L98.3 143.1 L97.3 143.7 L96.3 144.2 L95.3 144.8 L94.3 145.5 L93.3 146.1 L92.3 146.7 L91.3 147.4 L90.3 148.1 L89.3 148.8 L88.3 149.5 L87.3 150.3 L86.3 151.1 L85.3 151.9 L84.3 152.7 L83.3 153.5 L82.3 154.4 L81.3 155.3 L80.3 156.2 L79.3 157.2 L78.3 158.2 L77.3 159.2 L76.3 160.2 L75.3 161.3 L74.3 162.5 L73.3 163.6 L72.3 164.8 L71.3 166.1 L70.3 167.4 L69.3 168.8 L68.3 170.2 L67.3 171.7 L66.3 173.3 L65.3 174.8 L64.3 176.5 L63.3 178.2 L62.3 180.2 L61.3 182.9 L60.3 186.3 L59.3 189.8 L58.3 193.2" stroke="#008000"/>
<path d="M58.3 193.0 L59.3 183.0 L60.3 175.0 L61.3 169.3 L62.3 164.6 L63.3 160.3 L64.3 156.5 L65.3 153.5 L66.3 150.8 L67.3 148.4 L68.3 146.0 L69.3 143.8 L70.3 141.6 L71.3 139.5 L72.3 137.5 L73.3 135.6 L74.3 133.9 L75.3 132.2 L76.3 130.6 L77.3 129.2 L78.3 127.8 L79.3 126.6 L80.3 125.5 L81.3 124.4 L82.3 123.3 L83.3 122.3 L84.3 121.3 L85.3 120.4 L86.3 119.4 L87.3 118.4 L88.3 117.4 L89.3 116.5 L90.3 115.5 L91.3 114.6 L92.3 113.7 L93.3 112.8 L94.3 112.0 L95.3 111.2 L96.3 110.4 L97.3 109.7 L98.3 109.0 L99.3 108.3 L100.3 107.6 L101.3 107.0 L102.3 106.3 L103.3 105.7 L104.3 105.2 L105.3 104.6 L106.3 104.1 L107.3 103.6 L108.3 103.1 L109.3 102.6 L110.3 102.1 L111.3 101.7 L112.3 101.3 L113.3 100.8 L114.3 100.5 L115.3 100.1 L116.3 99.7 L117.3 99.3 L118.3 99.0 L119.3 98.7 L120.3 98.3 L121.3 98.0 L122.3 97.7 L123.3 97.4 L124.3 97.1 L125.3 96.8 L126.3 96.5 L127.3 96.2 L128.3 95.9 L129.3 95.6 L130.3 95.3 L131.3 95.1 L132.3 94.8 L133.3 94.5 L134.3 94.3 L135.3 94.0 L136.3 93.7 L137.3 93.5 L138.3 93.2 L139.3 93.0 L140.3 92.8 L141.3 92.5 L142.3 92.3 L143.3 92.1 L144.3 91.9 L145.3 91.6 L146.3 91.4 L147.3 91.2 L148.3 91.0 L149.3 90.8 L150.3 90.6 L151.3 90.3 L152.3 90.1 L153.3 89.9 L154.3 89.7 L155.3 89.5 L156.3 89.3 L157.3 89.0 L158.3 88.8 L159.3 88.6 L160.3 88.3 L161.3 88.1 L162.3 87.8 L163.3 87.6 L164.3 87.4 L165.3 87.1 L166.3 86.9 L167.3 86.7 L168.3 86.5 L169.3 86.3 L170.3 86.1 L171.3 85.9 L172.3 85.8 L173.3 85.6 L174.3 85.5 L175.3 85.4 L176.3 85.3 L177.3 85.1 L178.3 85.0 L179.3 84.9 L180.3 84.8 L181.3 84.7 L182.3 84.7 L183.3 84.6 L184.3 84.5 L185.3 84.4 L186.3 84.3 L187.3 84.2 L188.3 84.2 L189.3 84.1 L190.3 84.0 L191.3 83.9 L192.3 83.8 L193.3 83.7 L194.3 83.5 L195.3 83.4 L196.3 83.2 L197.3 83.1 L198.3 82.9 L199.3 82.7 L200.3 82.6 L201.3 82.4 L202.3 82.3 L203.3 82.1 L204.3 81.9 L205.3 81.8 L206.3 81.6 L207.3 81.4 L208.3 81.2 L209.3 81.0 L210.3 80.8 L211.3 80.6 L212.3 80.3 L213.3 80.1 L214.3 79.9 L215.3 79.7 L216.3 79.3 L217.3 79.0 L218.3 78.6 L219.3 78.3 L220.3 77.9 L221.3 77.6 L222.3 77.2 L223.3 76.9 L224.3 76.5 L225.3 76.1 L226.3 75.8 L227.3 75.4 L228.3 75.1 L229.3 74.7 L230.3 74.3 L231.3 73.8 L232.3 73.3 L233.3 72.9 L234.3 72.4 L235.3 72.0 L236.3 71.5 L237.3 71.1 L238.3 70.7 L239.3 70.3 L240.3 69.9 L241.3 69.6 L242.3 69.3 L243.3 69.0 L244.3 68.8 L245.3 68.5 L246.3 68.3 L247.3 68.1 L248.3 67.8 L249.3 67.6 L250.3 67.4 L251.3 67.3 L252.3 67.1 L253.3 66.9 L254.3 66.7 L255.3 66.6 L256.3 66.4 L257.3 66.2 L258.3 66.1 L259.3 65.9 L260.3 65.8 L261.3 65.6 L262.3 65.5 L263.3 65.3 L264.3 65.1 L265.3 65.0 L266.3 64.8 L267.3 64.7 L268.0 64.6 L268.5 64.5 L269.0 64.4 L269.5 64.4 L270.0 64.3 L270.5 64.2 L271.0 64.1 L271.5 64.0 L272.0 63.9 L272.5 63.8 L273.0 63.7 L273.5 63.6 L274.0 63.4 L274.5 63.2 L275.0 63.0 L275.5 62.8 L276.0 62.5 L276.5 62.2 L277.0 61.8 L277.5 61.5 L278.0 61.1 L278.5 60.6 L279.0 60.1 L279.5 59.6 L280.0 59.1 L280.5 58.5 L281.0 57.8 L281.5 57.1 L282.0 56.4 L282.5 55.7 L283.0 54.8" stroke="#0000e0"/>
<path d="M283.0 54.8 L282.8 55.1 L282.5 55.5 L282.2 56.2 L282.0 57.1 L281.8 58.1 L281.5 59.3 L281.2 60.6 L281.0 62.0 L280.8 63.4 L280.5 64.8 L280.2 66.2 L280.0 67.6 L279.8 69.0 L279.5 70.2 L279.2 71.5 L279.0 72.7 L278.8 73.8 L278.5 74.8 L278.2 75.8 L278.0 76.7 L277.8 77.6 L277.5 78.4 L277.2 79.2 L277.0 79.9 L276.8 80.6 L276.5 81.3 L276.2 81.9 L276.0 82.4 L275.8 83.0 L275.5 83.5 L275.2 83.9 L275.0 84.4 L274.8 84.8 L274.5 85.2 L274.2 85.6 L274.0 86.0 L273.8 86.3 L273.5 86.7 L273.2 87.0 L273.0 87.3 L272.8 87.6 L272.5 87.9 L272.2 88.1 L272.0 88.4 L271.8 88.7 L271.5 88.9 L271.2 89.1 L271.0 89.4 L270.8 89.6 L270.5 89.8 L270.2 90.0 L270.0 90.2 L269.8 90.4 L269.5 90.6 L269.2 90.8 L269.0 91.0 L268.8 91.1 L268.5 91.3 L268.2 91.5 L268.0 91.6 L267.8 91.8 L267.5 92.0 L267.2 92.1 L267.0 92.3 L266.8 92.4 L266.5 92.6 L266.2 92.7 L266.0 92.8 L265.8 93.0 L265.5 93.1 L265.2 93.3 L265.0 93.4 L264.8 93.5 L264.5 93.6 L264.2 93.8 L264.0 93.9 L263.8 94.0 L263.5 94.1 L263.2 94.3 L263.0 94.4 L262.8 94.5 L262.5 94.6 L262.2 94.7 L262.0 94.9 L261.3 95.2 L260.3 95.6 L259.3 96.0 L258.3 96.4 L257.3 96.8 L256.3 97.2 L255.3 97.6 L254.3 98.0 L253.3 98.4 L252.3 98.8 L251.3 99.2 L250.3 99.5 L249.3 99.9 L248.3 100.3 L247.3 100.6 L246.3 101.0 L245.3 101.4 L244.3 101.7 L243.3 102.1 L242.3 102.4 L241.3 102.8 L240.3 103.1 L239.3 103.5 L238.3 103.8 L237.3 104.2 L236.3 104.5 L235.3 104.9 L234.3 105.2 L233.3 105.5 L232.3 105.9 L231.3 106.2 L230.3 106.6 L229.3 106.9 L228.3 107.2 L227.3 107.6 L226.3 107.9 L225.3 108.3 L224.3 108.7 L223.3 109.1 L222.3 109.5 L221.3 109.9 L220.3 110.4 L219.3 110.7 L218.3 111.0 L217.3 111.2 L216.3 111.5 L215.3 111.8 L214.3 112.1 L213.3 112.4 L212.3 112.7 L211.3 113.0 L210.3 113.3 L209.3 113.6 L208.3 113.9 L207.3 114.2 L206.3 114.4 L205.3 114.7 L204.3 115.0 L203.3 115.3 L202.3 115.6 L201.3 115.8 L200.3 116.1 L199.3 116.4 L198.3 116.6 L197.3 116.9 L196.3 117.1 L195.3 117.4 L194.3 117.7 L193.3 117.9 L192.3 118.2 L191.3 118.4 L190.3 118.7 L189.3 118.9 L188.3 119.1 L187.3 119.3 L186.3 119.5 L185.3 119.7 L184.3 119.9 L183.3 120.1 L182.3 120.3 L181.3 120.5 L180.3 120.8 L179.3 121.0 L178.3 121.1 L177.3 121.3 L176.3 121.5 L175.3 121.7 L174.3 121.9 L173.3 122.0 L172.3 122.2 L171.3 122.3 L170.3 122.5 L169.3 122.6 L168.3 122.7 L167.3 122.8 L166.3 123.0 L165.3 123.1 L164.3 123.2 L163.3 123.3 L162.3 123.4 L161.3 123.5 L160.3 123.6 L159.3 123.8 L158.3 123.9 L157.3 124.0 L156.3 124.1 L155.3 124.3 L154.3 124.4 L153.3 124.5 L152.3 124.7 L151.3 124.8 L150.3 125.0 L149.3 125.1 L148.3 125.3 L147.3 125.5 L146.3 125.6 L145.3 125.8 L144.3 126.0 L143.3 126.2 L142.3 126.4 L141.3 126.6 L140.3 126.9 L139.3 127.1 L138.3 127.3 L137.3 127.6 L136.3 127.8 L135.3 128.1 L134.3 128.4 L133.3 128.7 L132.3 129.0 L131.3 129.3 L130.3 129.6 L129.3 129.9 L128.3 130.3 L127.3 130.6 L126.3 131.0 L125.3 131.4 L124.3 131.8 L123.3 132.2 L122.3 132.6 L121.3 133.0 L120.3 133.5 L119.3 133.9 L118.3 134.3 L117.3 134.7 L116.3 135.2 L115.3 135.6 L114.3 136.0 L113.3 136.5 L112.3 136.9 L111.3 137.4 L110.3 137.8 L109.3 138.3 L108.3 138.7 L107.3 139.2 L106.3 139.6 L105.3 140.1 L104.3 140.6 L103.3 141.0 L102.3 141.5 L101.3 142.0 L100.3 142.6 L99.3 143.1 L98.3 143.7 L97.3 144.2 L96.3 144.8 L95.3 145.4 L94.3 146.0 L93.3 146.7 L92.3 147.3 L91.3 148.0 L90.3 148.7 L89.3 149.4 L88.3 150.2 L87.3 150.9 L86.3 151.7 L85.3 152.5 L84.3 153.3 L83.3 154.2 L82.3 155.1 L81.3 156.0 L80.3 156.9 L79.3 157.8 L78.3 158.8 L77.3 159.9 L76.3 160.9 L75.3 162.0 L74.3 163.2 L73.3 164.3 L72.3 165.6 L71.3 166.8 L70.3 168.2 L69.3 169.6 L68.3 171.0 L67.3 172.5 L66.3 174.2 L65.3 175.6 L64.3 177.3 L63.3 178.9 L62.3 180.8 L61.3 183.3 L60.3 186.6 L59.3 190.0 L58.3 193.3" stroke="#0000e0"/>
<path d="M58.3 193.0 L59.3 182.9 L60.3 174.8 L61.3 169.1 L62.3 164.3 L63.3 160.0 L64.3 156.1 L65.3 153.1 L66.3 150.4 L67.3 147.9 L68.3 145.6 L69.3 143.3 L70.3 141.2 L71.3 139.1 L72.3 137.0 L73.3 135.2 L74.3 133.4 L75.3 131.7 L76.3 130.2 L77.3 128.7 L78.3 127.4 L79.3 126.1 L80.3 125.0 L81.3 123.9 L82.3 122.9 L83.3 121.9 L84.3 120.9 L85.3 119.9 L86.3 118.9 L87.3 117.9 L88.3 117.0 L89.3 116.0 L90.3 115.0 L91.3 114.1 L92.3 113.2 L93.3 112.4 L94.3 111.5 L95.3 110.7 L96.3 110.0 L97.3 109.3 L98.3 108.6 L99.3 107.9 L100.3 107.2 L101.3 106.6 L102.3 106.0 L103.3 105.4 L104.3 104.8 L105.3 104.2 L106.3 103.7 L107.3 103.2 L108.3 102.7 L109.3 102.2 L110.3 101.8 L111.3 101.3 L112.3 100.9 L113.3 100.5 L114.3 100.1 L115.3 99.7 L116.3 99.3 L117.3 99.0 L118.3 98.6 L119.3 98.3 L120.3 98.0 L121.3 97.7 L122.3 97.3 L123.3 97.0 L124.3 96.7 L125.3 96.4 L126.3 96.2 L127.3 95.9 L128.3 95.6 L129.3 95.3 L130.3 95.0 L131.3 94.7 L132.3 94.4 L133.3 94.2 L134.3 93.9 L135.3 93.7 L136.3 93.4 L137.3 93.1 L138.3 92.9 L139.3 92.7 L140.3 92.4 L141.3 92.2 L142.3 92.0 L143.3 91.7 L144.3 91.5 L145.3 91.3 L146.3 91.1 L147.3 90.9 L148.3 90.6 L149.3 90.4 L150.3 90.2 L151.3 90.0 L152.3 89.8 L153.3 89.6 L154.3 89.4 L155.3 89.1 L156.3 88.9 L157.3 88.7 L158.3 88.5 L159.3 88.2 L160.3 88.0 L161.3 87.7 L162.3 87.5 L163.3 87.2 L164.3 87.0 L165.3 86.8 L166.3 86.6 L167.3 86.3 L168.3 86.1 L169.3 85.9 L170.3 85.8 L171.3 85.6 L172.3 85.4 L173.3 85.3 L174.3 85.2 L175.3 85.0 L176.3 84.9 L177.3 84.8 L178.3 84.7 L179.3 84.6 L180.3 84.5 L181.3 84.4 L182.3 84.3 L183.3 84.2 L184.3 84.1 L185.3 84.0 L186.3 83.9 L187.3 83.8 L188.3 83.7 L189.3 83.6 L190.3 83.5 L191.3 83.4 L192.3 83.3 L193.3 83.1 L194.3 82.9 L195.3 82.7 L196.3 82.4 L197.3 82.2 L198.3 81.9 L199.3 81.6 L200.3 81.3 L201.3 81.1 L202.3 80.8 L203.3 80.6 L204.3 80.3 L205.3 80.0 L206.3 79.7 L207.3 79.3 L208.3 79.0 L209.3 78.6 L210.3 78.2 L211.3 77.9 L212.3 77.5 L213.3 77.2 L214.3 76.8 L215.3 76.4 L216.3 75.9 L217.3 75.4 L218.3 74.9 L219.3 74.3 L220.3 73.8 L221.3 73.3 L222.3 72.8 L223.3 72.2 L224.3 71.7 L225.3 71.2 L226.3 70.6 L227.3 70.1 L228.3 69.5 L229.3 68.9 L230.3 68.2 L231.3 67.5 L232.3 66.7 L233.3 65.9 L234.3 65.2 L235.3 64.4 L236.3 63.7 L237.3 63.0 L238.3 62.3 L239.3 61.7 L240.3 61.2 L241.3 60.7 L242.3 60.2 L243.3 59.8 L244.3 59.5 L245.3 59.1 L246.3 58.8 L247.3 58.5 L248.3 58.2 L249.3 58.0 L250.3 57.7 L251.3 57.5 L252.3 57.3 L253.3 57.1 L254.3 56.9 L255.3 56.7 L256.3 56.5 L257.3 56.3 L258.3 56.2 L259.3 56.0 L260.3 55.8 L261.3 55.7 L262.3 55.5 L263.3 55.4 L264.3 55.2 L265.3 55.1 L266.3 54.9 L267.3 54.8 L268.0 54.7 L268.5 54.6 L269.0 54.5 L269.5 54.4 L270.0 54.4 L270.5 54.3 L271.0 54.2 L271.5 54.1 L272.0 54.0 L272.5 54.0 L273.0 53.9 L273.5 53.7 L274.0 53.6 L274.5 53.5 L275.0 53.3 L275.5 53.2 L276.0 53.0 L276.5 52.8 L277.0 52.6 L277.5 52.4 L278.0 52.1 L278.5 51.9 L279.0 51.6 L279.5 51.4 L280.0 51.1 L280.5 50.8 L281.0 50.5 L281.5 50.2 L282.0 50.0 L282.5 49.7 L283.0 49.4" stroke="#ff8000"/>
<path d="M283.0 49.4 L282.8 49.6 L282.5 49.9 L282.2 50.4 L282.0 51.1 L281.8 51.9 L281.5 52.8 L281.2 53.8 L281.0 54.9 L280.8 56.0 L280.5 57.2 L280.2 58.4 L280.0 59.6 L279.8 60.8 L279.5 62.0 L279.2 63.1 L279.0 64.3 L278.8 65.4 L278.5 66.4 L278.2 67.4 L278.0 68.4 L277.8 69.3 L277.5 70.2 L277.2 71.1 L277.0 71.9 L276.8 72.7 L276.5 73.4 L276.2 74.1 L276.0 74.8 L275.8 75.4 L275.5 76.0 L275.2 76.6 L275.0 77.1 L274.8 77.7 L274.5 78.2 L274.2 78.7 L274.0 79.1 L273.8 79.6 L273.5 80.0 L273.2 80.4 L273.0 80.8 L272.8 81.2 L272.5 81.5 L272.2 81.9 L272.0 82.2 L271.8 82.5 L271.5 82.8 L271.2 83.1 L271.0 83.4 L270.8 83.7 L270.5 84.0 L270.2 84.3 L270.0 84.5 L269.8 84.8 L269.5 85.0 L269.2 85.3 L269.0 85.5 L268.8 85.7 L268.5 86.0 L268.2 86.2 L268.0 86.4 L267.8 86.6 L267.5 86.8 L267.2 87.0 L267.0 87.2 L266.8 87.4 L266.5 87.6 L266.2 87.8 L266.0 88.0 L265.8 88.2 L265.5 88.4 L265.2 88.5 L265.0 88.7 L264.8 88.9 L264.5 89.0 L264.2 89.2 L264.0 89.4 L263.8 89.5 L263.5 89.7 L263.2 89.9 L263.0 90.0 L262.8 90.2 L262.5 90.3 L262.2 90.5 L262.0 90.6 L261.3 91.0 L260.3 91.6 L259.3 92.1 L258.3 92.7 L257.3 93.2 L256.3 93.7 L255.3 94.2 L254.3 94.7 L253.3 95.2 L252.3 95.7 L251.3 96.2 L250.3 96.7 L249.3 97.2 L248.3 97.6 L247.3 98.1 L246.3 98.6 L245.3 99.0 L244.3 99.5 L243.3 100.0 L242.3 100.4 L241.3 100.9 L240.3 101.3 L239.3 101.8 L238.3 102.2 L237.3 102.7 L236.3 103.1 L235.3 103.6 L234.3 104.0 L233.3 104.4 L232.3 104.9 L231.3 105.3 L230.3 105.7 L229.3 106.2 L228.3 106.6 L227.3 107.1 L226.3 107.5 L225.3 108.0 L224.3 108.4 L223.3 108.9 L222.3 109.5 L221.3 110.0 L220.3 110.6 L219.3 110.9 L218.3 111.2 L217.3 111.5 L216.3 111.8 L215.3 112.1 L214.3 112.4 L213.3 112.7 L212.3 113.0 L211.3 113.3 L210.3 113.6 L209.3 113.9 L208.3 114.2 L207.3 114.5 L206.3 114.8 L205.3 115.1 L204.3 115.4 L203.3 115.7 L202.3 116.0 L201.3 116.3 L200.3 116.6 L199.3 116.8 L198.3 117.1 L197.3 117.4 L196.3 117.7 L195.3 117.9 L194.3 118.2 L193.3 118.5 L192.3 118.7 L191.3 119.0 L190.3 119.3 L189.3 119.5 L188.3 119.7 L187.3 119.9 L186.3 120.1 L185.3 120.3 L184.3 120.5 L183.3 120.7 L182.3 120.9 L181.3 121.1 L180.3 121.3 L179.3 121.5 L178.3 121.7 L177.3 121.9 L176.3 122.1 L175.3 122.3 L174.3 122.5 L173.3 122.6 L172.3 122.8 L171.3 122.9 L170.3 123.1 L169.3 123.2 L168.3 123.3 L167.3 123.4 L166.3 123.6 L165.3 123.7 L164.3 123.8 L163.3 123.9 L162.3 124.0 L161.3 124.1 L160.3 124.2 L159.3 124.4 L158.3 124.5 L157.3 124.6 L156.3 124.7 L155.3 124.9 L154.3 125.0 L153.3 125.1 L152.3 125.3 L151.3 125.4 L150.3 125.6 L149.3 125.7 L148.3 125.9 L147.3 126.1 L146.3 126.2 L145.3 126.4 L144.3 126.6 L143.3 126.8 L142.3 127.0 L141.3 127.2 L140.3 127.5 L139.3 127.7 L138.3 127.9 L137.3 128.2 L136.3 128.5 L135.3 128.7 L134.3 129.0 L133.3 129.3 L132.3 129.6 L131.3 129.9 L130.3 130.2 L129.3 130.6 L128.3 130.9 L127.3 131.3 L126.3 131.7 L125.3 132.0 L124.3 132.4 L123.3 132.8 L122.3 133.2 L121.3 133.7 L120.3 134.1 L119.3 134.5 L118.3 134.9 L117.3 135.4 L116.3 135.8 L115.3 136.2 L114.3 136.7 L113.3 137.1 L112.3 137.6 L111.3 138.0 L110.3 138.4 L109.3 138.9 L108.3 139.3 L107.3 139.8 L106.3 140.3 L105.3 140.7 L104.3 141.2 L103.3 141.7 L102.3 142.2 L101.3 142.7 L100.3 143.2 L99.3 143.8 L98.3 144.3 L97.3 144.9 L96.3 145.5 L95.3 146.1 L94.3 146.7 L93.3 147.4 L92.3 148.0 L91.3 148.7 L90.3 149.4 L89.3 150.1 L88.3 150.9 L87.3 151.6 L86.3 152.4 L85.3 153.2 L84.3 154.1 L83.3 154.9 L82.3 155.8 L81.3 156.7 L80.3 157.6 L79.3 158.6 L78.3 159.6 L77.3 160.7 L76.3 161.7 L75.3 162.9 L74.3 164.0 L73.3 165.2 L72.3 166.4 L71.3 167.7 L70.3 169.1 L69.3 170.5 L68.3 171.9 L67.3 173.5 L66.3 175.2 L65.3 176.6 L64.3 178.2 L63.3 179.7 L62.3 181.4 L61.3 183.9 L60.3 187.0 L59.3 190.3 L58.3 193.5" stroke="#ff8000"/>
<path d="M58.3 193.0 L59.3 182.8 L60.3 174.7 L61.3 168.8 L62.3 163.9 L63.3 159.6 L64.3 155.6 L65.3 152.6 L66.3 149.9 L67.3 147.4 L68.3 145.1 L69.3 142.9 L70.3 140.7 L71.3 138.6 L72.3 136.6 L73.3 134.7 L74.3 133.0 L75.3 131.3 L76.3 129.7 L77.3 128.3 L78.3 126.9 L79.3 125.7 L80.3 124.5 L81.3 123.4 L82.3 122.4 L83.3 121.4 L84.3 120.4 L85.3 119.4 L86.3 118.5 L87.3 117.5 L88.3 116.5 L89.3 115.5 L90.3 114.6 L91.3 113.7 L92.3 112.8 L93.3 111.9 L94.3 111.1 L95.3 110.3 L96.3 109.6 L97.3 108.8 L98.3 108.1 L99.3 107.5 L100.3 106.8 L101.3 106.2 L102.3 105.6 L103.3 105.0 L104.3 104.4 L105.3 103.8 L106.3 103.3 L107.3 102.8 L108.3 102.3 L109.3 101.8 L110.3 101.4 L111.3 101.0 L112.3 100.5 L113.3 100.1 L114.3 99.7 L115.3 99.4 L116.3 99.0 L117.3 98.6 L118.3 98.3 L119.3 97.9 L120.3 97.6 L121.3 97.3 L122.3 97.0 L123.3 96.7 L124.3 96.4 L125.3 96.1 L126.3 95.8 L127.3 95.5 L128.3 95.2 L129.3 94.9 L130.3 94.7 L131.3 94.4 L132.3 94.1 L133.3 93.8 L134.3 93.6 L135.3 93.3 L136.3 93.1 L137.3 92.8 L138.3 92.6 L139.3 92.3 L140.3 92.1 L141.3 91.9 L142.3 91.6 L143.3 91.4 L144.3 91.2 L145.3 91.0 L146.3 90.7 L147.3 90.5 L148.3 90.3 L149.3 90.1 L150.3 89.9 L151.3 89.7 L152.3 89.5 L153.3 89.2 L154.3 89.0 L155.3 88.8 L156.3 88.6 L157.3 88.3 L158.3 88.1 L159.3 87.9 L160.3 87.6 L161.3 87.4 L162.3 87.1 L163.3 86.9 L164.3 86.7 L165.3 86.4 L166.3 86.2 L167.3 86.0 L168.3 85.8 L169.3 85.6 L170.3 85.4 L171.3 85.3 L172.3 85.1 L173.3 85.0 L174.3 84.8 L175.3 84.7 L176.3 84.6 L177.3 84.5 L178.3 84.4 L179.3 84.3 L180.3 84.2 L181.3 84.1 L182.3 84.0 L183.3 83.9 L184.3 83.8 L185.3 83.7 L186.3 83.6 L187.3 83.5 L188.3 83.4 L189.3 83.2 L190.3 83.1 L191.3 83.0 L192.3 82.8 L193.3 82.5 L194.3 82.3 L195.3 82.0 L196.3 81.7 L197.3 81.4 L198.3 81.0 L199.3 80.7 L200.3 80.3 L201.3 80.0 L202.3 79.7 L203.3 79.3 L204.3 78.9 L205.3 78.5 L206.3 78.1 L207.3 77.7 L208.3 77.2 L209.3 76.7 L210.3 76.3 L211.3 75.8 L212.3 75.3 L213.3 74.9 L214.3 74.4 L215.3 73.8 L216.3 73.2 L217.3 72.6 L218.3 72.0 L219.3 71.3 L220.3 70.7 L221.3 70.0 L222.3 69.4 L223.3 68.7 L224.3 68.0 L225.3 67.3 L226.3 66.7 L227.3 66.0 L228.3 65.2 L229.3 64.5 L230.3 63.7 L231.3 62.7 L232.3 61.7 L233.3 60.7 L234.3 59.7 L235.3 58.8 L236.3 57.9 L237.3 56.9 L238.3 56.1 L239.3 55.3 L240.3 54.6 L241.3 54.0 L242.3 53.4 L243.3 52.9 L244.3 52.5 L245.3 52.0 L246.3 51.7 L247.3 51.3 L248.3 51.0 L249.3 50.7 L250.3 50.4 L251.3 50.2 L252.3 49.9 L253.3 49.7 L254.3 49.5 L255.3 49.3 L256.3 49.1 L257.3 48.9 L258.3 48.8 L259.3 48.6 L260.3 48.5 L261.3 48.3 L262.3 48.1 L263.3 48.0 L264.3 47.8 L265.3 47.7 L266.3 47.6 L267.3 47.4 L268.0 47.3 L268.5 47.2 L269.0 47.2 L269.5 47.1 L270.0 47.0 L270.5 47.0 L271.0 46.9 L271.5 46.8 L272.0 46.7 L272.5 46.6 L273.0 46.5 L273.5 46.4 L274.0 46.3 L274.5 46.2 L275.0 46.0 L275.5 45.8 L276.0 45.7 L276.5 45.5 L277.0 45.3 L277.5 45.0 L278.0 44.8 L278.5 44.5 L279.0 44.3 L279.5 44.0 L280.0 43.7 L280.5 43.5 L281.0 43.2 L281.5 42.9 L282.0 42.6 L282.5 42.3 L283.0 42.1" stroke="#800080"/>
<path d="M283.0 42.1 L282.8 42.3 L282.5 42.7 L282.2 43.2 L282.0 44.0 L281.8 44.9 L281.5 45.9 L281.2 47.0 L281.0 48.2 L280.8 49.4 L280.5 50.7 L280.2 52.0 L280.0 53.3 L279.8 54.6 L279.5 55.9 L279.2 57.2 L279.0 58.5 L278.8 59.7 L278.5 60.8 L278.2 61.9 L278.0 63.0 L277.8 64.0 L277.5 65.0 L277.2 66.0 L277.0 66.9 L276.8 67.7 L276.5 68.5 L276.2 69.3 L276.0 70.0 L275.8 70.7 L275.5 71.4 L275.2 72.0 L275.0 72.7 L274.8 73.2 L274.5 73.8 L274.2 74.3 L274.0 74.8 L273.8 75.3 L273.5 75.8 L273.2 76.2 L273.0 76.7 L272.8 77.1 L272.5 77.5 L272.2 77.9 L272.0 78.3 L271.8 78.6 L271.5 79.0 L271.2 79.3 L271.0 79.6 L270.8 80.0 L270.5 80.3 L270.2 80.6 L270.0 80.9 L269.8 81.1 L269.5 81.4 L269.2 81.7 L269.0 82.0 L268.8 82.2 L268.5 82.5 L268.2 82.7 L268.0 83.0 L267.8 83.2 L267.5 83.4 L267.2 83.7 L267.0 83.9 L266.8 84.1 L266.5 84.3 L266.2 84.5 L266.0 84.7 L265.8 85.0 L265.5 85.2 L265.2 85.4 L265.0 85.5 L264.8 85.7 L264.5 85.9 L264.2 86.1 L264.0 86.3 L263.8 86.5 L263.5 86.7 L263.2 86.9 L263.0 87.0 L262.8 87.2 L262.5 87.4 L262.2 87.6 L262.0 87.7 L261.3 88.2 L260.3 88.8 L259.3 89.5 L258.3 90.1 L257.3 90.7 L256.3 91.3 L255.3 91.9 L254.3 92.4 L253.3 93.0 L252.3 93.6 L251.3 94.1 L250.3 94.7 L249.3 95.2 L248.3 95.8 L247.3 96.3 L246.3 96.9 L245.3 97.4 L244.3 97.9 L243.3 98.5 L242.3 99.0 L241.3 99.5 L240.3 100.1 L239.3 100.6 L238.3 101.1 L237.3 101.6 L236.3 102.1 L235.3 102.7 L234.3 103.2 L233.3 103.7 L232.3 104.2 L231.3 104.7 L230.3 105.2 L229.3 105.7 L228.3 106.2 L227.3 106.7 L226.3 107.3 L225.3 107.8 L224.3 108.3 L223.3 108.9 L222.3 109.5 L221.3 110.1 L220.3 110.8 L219.3 111.1 L218.3 111.4 L217.3 111.7 L216.3 112.1 L215.3 112.4 L214.3 112.7 L213.3 113.0 L212.3 113.3 L211.3 113.7 L210.3 114.0 L209.3 114.3 L208.3 114.6 L207.3 114.9 L206.3 115.2 L205.3 115.5 L204.3 115.8 L203.3 116.1 L202.3 116.4 L201.3 116.7 L200.3 117.0 L199.3 117.3 L198.3 117.6 L197.3 117.9 L196.3 118.2 L195.3 118.4 L194.3 118.7 L193.3 119.0 L192.3 119.3 L191.3 119.5 L190.3 119.8 L189.3 120.0 L188.3 120.3 L187.3 120.5 L186.3 120.7 L185.3 120.9 L184.3 121.1 L183.3 121.3 L182.3 121.5 L181.3 121.7 L180.3 121.9 L179.3 122.1 L178.3 122.3 L177.3 122.5 L176.3 122.7 L175.3 122.9 L174.3 123.0 L173.3 123.2 L172.3 123.3 L171.3 123.5 L170.3 123.6 L169.3 123.8 L168.3 123.9 L167.3 124.0 L166.3 124.1 L165.3 124.2 L164.3 124.3 L163.3 124.5 L162.3 124.6 L161.3 124.7 L160.3 124.8 L159.3 124.9 L158.3 125.0 L157.3 125.2 L156.3 125.3 L155.3 125.4 L154.3 125.6 L153.3 125.7 L152.3 125.8 L151.3 126.0 L150.3 126.1 L149.3 126.3 L148.3 126.5 L147.3 126.6 L146.3 126.8 L145.3 127.0 L144.3 127.2 L143.3 127.4 L142.3 127.6 L141.3 127.8 L140.3 128.0 L139.3 128.3 L138.3 128.5 L137.3 128.8 L136.3 129.0 L135.3 129.3 L134.3 129.6 L133.3 129.9 L132.3 130.2 L131.3 130.5 L130.3 130.8 L129.3 131.2 L128.3 131.5 L127.3 131.9 L126.3 132.2 L125.3 132.6 L124.3 133.0 L123.3 133.4 L122.3 133.8 L121.3 134.3 L120.3 134.7 L119.3 135.1 L118.3 135.6 L117.3 136.0 L116.3 136.4 L115.3 136.9 L114.3 137.3 L113.3 137.7 L112.3 138.2 L111.3 138.6 L110.3 139.1 L109.3 139.5 L108.3 140.0 L107.3 140.4 L106.3 140.9 L105.3 141.3 L104.3 141.8 L103.3 142.3 L102.3 142.8 L101.3 143.3 L100.3 143.8 L99.3 144.4 L98.3 144.9 L97.3 145.5 L96.3 146.1 L95.3 146.7 L94.3 147.4 L93.3 148.0 L92.3 148.7 L91.3 149.4 L90.3 150.1 L89.3 150.8 L88.3 151.5 L87.3 152.3 L86.3 153.1 L85.3 153.9 L84.3 154.8 L83.3 155.6 L82.3 156.5 L81.3 157.4 L80.3 158.4 L79.3 159.3 L78.3 160.4 L77.3 161.4 L76.3 162.5 L75.3 163.6 L74.3 164.8 L73.3 166.0 L72.3 167.2 L71.3 168.5 L70.3 169.9 L69.3 171.3 L68.3 172.8 L67.3 174.4 L66.3 176.2 L65.3 177.5 L64.3 179.0 L63.3 180.4 L62.3 182.0 L61.3 184.4 L60.3 187.3 L59.3 190.5 L58.3 193.6" stroke="#800080"/>
<path d="M58.3 193.0 L59.3 182.7 L60.3 174.5 L61.3 168.6 L62.3 163.6 L63.3 159.2 L64.3 155.1 L65.3 152.1 L66.3 149.4 L67.3 147.0 L68.3 144.6 L69.3 142.4 L70.3 140.2 L71.3 138.1 L72.3 136.1 L73.3 134.2 L74.3 132.5 L75.3 130.8 L76.3 129.2 L77.3 127.8 L78.3 126.4 L79.3 125.2 L80.3 124.1 L81.3 123.0 L82.3 121.9 L83.3 120.9 L84.3 119.9 L85.3 119.0 L86.3 118.0 L87.3 117.0 L88.3 116.0 L89.3 115.1 L90.3 114.1 L91.3 113.2 L92.3 112.3 L93.3 111.5 L94.3 110.7 L95.3 109.9 L96.3 109.1 L97.3 108.4 L98.3 107.7 L99.3 107.1 L100.3 106.4 L101.3 105.8 L102.3 105.2 L103.3 104.6 L104.3 104.0 L105.3 103.5 L106.3 102.9 L107.3 102.4 L108.3 101.9 L109.3 101.5 L110.3 101.0 L111.3 100.6 L112.3 100.2 L113.3 99.8 L114.3 99.4 L115.3 99.0 L116.3 98.6 L117.3 98.3 L118.3 97.9 L119.3 97.6 L120.3 97.3 L121.3 97.0 L122.3 96.7 L123.3 96.3 L124.3 96.0 L125.3 95.8 L126.3 95.5 L127.3 95.2 L128.3 94.9 L129.3 94.6 L130.3 94.3 L131.3 94.0 L132.3 93.8 L133.3 93.5 L134.3 93.2 L135.3 93.0 L136.3 92.7 L137.3 92.5 L138.3 92.2 L139.3 92.0 L140.3 91.7 L141.3 91.5 L142.3 91.3 L143.3 91.1 L144.3 90.8 L145.3 90.6 L146.3 90.4 L147.3 90.2 L148.3 90.0 L149.3 89.8 L150.3 89.5 L151.3 89.3 L152.3 89.1 L153.3 88.9 L154.3 88.7 L155.3 88.5 L156.3 88.2 L157.3 88.0 L158.3 87.8 L159.3 87.5 L160.3 87.3 L161.3 87.0 L162.3 86.8 L163.3 86.6 L164.3 86.3 L165.3 86.1 L166.3 85.9 L167.3 85.7 L168.3 85.5 L169.3 85.3 L170.3 85.1 L171.3 84.9 L172.3 84.8 L173.3 84.6 L174.3 84.5 L175.3 84.4 L176.3 84.2 L177.3 84.1 L178.3 84.0 L179.3 83.9 L180.3 83.8 L181.3 83.7 L182.3 83.6 L183.3 83.5 L184.3 83.4 L185.3 83.3 L186.3 83.2 L187.3 83.1 L188.3 82.9 L189.3 82.8 L190.3 82.7 L191.3 82.5 L192.3 82.2 L193.3 81.9 L194.3 81.6 L195.3 81.3 L196.3 80.9 L197.3 80.5 L198.3 80.0 L199.3 79.5 L200.3 79.1 L201.3 78.7 L202.3 78.2 L203.3 77.7 L204.3 77.3 L205.3 76.7 L206.3 76.2 L207.3 75.6 L208.3 75.0 L209.3 74.3 L210.3 73.7 L211.3 73.1 L212.3 72.5 L213.3 71.9 L214.3 71.2 L215.3 70.5 L216.3 69.8 L217.3 69.0 L218.3 68.2 L219.3 67.4 L220.3 66.5 L221.3 65.7 L222.3 64.9 L223.3 64.1 L224.3 63.2 L225.3 62.3 L226.3 61.5 L227.3 60.6 L228.3 59.7 L229.3 58.7 L230.3 57.6 L231.3 56.4 L232.3 55.1 L233.3 53.8 L234.3 52.5 L235.3 51.3 L236.3 50.1 L237.3 48.9 L238.3 47.8 L239.3 46.7 L240.3 45.8 L241.3 45.0 L242.3 44.4 L243.3 43.8 L244.3 43.2 L245.3 42.7 L246.3 42.2 L247.3 41.8 L248.3 41.4 L249.3 41.1 L250.3 40.8 L251.3 40.5 L252.3 40.2 L253.3 40.0 L254.3 39.7 L255.3 39.5 L256.3 39.3 L257.3 39.1 L258.3 39.0 L259.3 38.8 L260.3 38.6 L261.3 38.5 L262.3 38.3 L263.3 38.2 L264.3 38.1 L265.3 37.9 L266.3 37.8 L267.3 37.6 L268.0 37.6 L268.5 37.5 L269.0 37.4 L269.5 37.4 L270.0 37.3 L270.5 37.2 L271.0 37.2 L271.5 37.1 L272.0 37.0 L272.5 36.9 L273.0 36.8 L273.5 36.7 L274.0 36.6 L274.5 36.4 L275.0 36.3 L275.5 36.1 L276.0 35.9 L276.5 35.7 L277.0 35.5 L277.5 35.3 L278.0 35.0 L278.5 34.8 L279.0 34.5 L279.5 34.3 L280.0 34.0 L280.5 33.7 L281.0 33.4 L281.5 33.1 L282.0 32.9 L282.5 32.6 L283.0 32.3" stroke="#8000ff"/>
<path d="M283.0 32.3 L282.8 32.6 L282.5 33.0 L282.2 33.7 L282.0 34.5 L281.8 35.5 L281.5 36.6 L281.2 37.9 L281.0 39.2 L280.8 40.6 L280.5 42.0 L280.2 43.5 L280.0 45.0 L279.8 46.5 L279.5 47.9 L279.2 49.4 L279.0 50.8 L278.8 52.1 L278.5 53.4 L278.2 54.7 L278.0 55.9 L277.8 57.0 L277.5 58.1 L277.2 59.2 L277.0 60.2 L276.8 61.1 L276.5 62.1 L276.2 62.9 L276.0 63.8 L275.8 64.5 L275.5 65.3 L275.2 66.0 L275.0 66.7 L274.8 67.4 L274.5 68.0 L274.2 68.6 L274.0 69.2 L273.8 69.7 L273.5 70.2 L273.2 70.8 L273.0 71.2 L272.8 71.7 L272.5 72.2 L272.2 72.6 L272.0 73.0 L271.8 73.4 L271.5 73.8 L271.2 74.2 L271.0 74.6 L270.8 75.0 L270.5 75.3 L270.2 75.7 L270.0 76.0 L269.8 76.3 L269.5 76.6 L269.2 76.9 L269.0 77.3 L268.8 77.5 L268.5 77.8 L268.2 78.1 L268.0 78.4 L267.8 78.7 L267.5 78.9 L267.2 79.2 L267.0 79.5 L266.8 79.7 L266.5 80.0 L266.2 80.2 L266.0 80.4 L265.8 80.7 L265.5 80.9 L265.2 81.1 L265.0 81.4 L264.8 81.6 L264.5 81.8 L264.2 82.0 L264.0 82.2 L263.8 82.5 L263.5 82.7 L263.2 82.9 L263.0 83.1 L262.8 83.3 L262.5 83.5 L262.2 83.7 L262.0 83.9 L261.3 84.4 L260.3 85.2 L259.3 85.9 L258.3 86.6 L257.3 87.3 L256.3 88.0 L255.3 88.7 L254.3 89.4 L253.3 90.1 L252.3 90.7 L251.3 91.4 L250.3 92.0 L249.3 92.7 L248.3 93.3 L247.3 94.0 L246.3 94.6 L245.3 95.2 L244.3 95.9 L243.3 96.5 L242.3 97.1 L241.3 97.8 L240.3 98.4 L239.3 99.0 L238.3 99.6 L237.3 100.2 L236.3 100.8 L235.3 101.4 L234.3 102.0 L233.3 102.6 L232.3 103.2 L231.3 103.8 L230.3 104.5 L229.3 105.1 L228.3 105.7 L227.3 106.3 L226.3 106.9 L225.3 107.5 L224.3 108.1 L223.3 108.8 L222.3 109.5 L221.3 110.3 L220.3 111.0 L219.3 111.4 L218.3 111.7 L217.3 112.0 L216.3 112.4 L215.3 112.7 L214.3 113.0 L213.3 113.4 L212.3 113.7 L211.3 114.0 L210.3 114.3 L209.3 114.7 L208.3 115.0 L207.3 115.3 L206.3 115.6 L205.3 116.0 L204.3 116.3 L203.3 116.6 L202.3 116.9 L201.3 117.2 L200.3 117.5 L199.3 117.8 L198.3 118.1 L197.3 118.4 L196.3 118.7 L195.3 119.0 L194.3 119.3 L193.3 119.6 L192.3 119.8 L191.3 120.1 L190.3 120.4 L189.3 120.7 L188.3 120.9 L187.3 121.1 L186.3 121.3 L185.3 121.5 L184.3 121.7 L183.3 121.9 L182.3 122.1 L181.3 122.3 L180.3 122.5 L179.3 122.7 L178.3 122.9 L177.3 123.1 L176.3 123.3 L175.3 123.5 L174.3 123.6 L173.3 123.8 L172.3 123.9 L171.3 124.1 L170.3 124.2 L169.3 124.4 L168.3 124.5 L167.3 124.6 L166.3 124.7 L165.3 124.8 L164.3 124.9 L163.3 125.1 L162.3 125.2 L161.3 125.3 L160.3 125.4 L159.3 125.5 L158.3 125.7 L157.3 125.8 L156.3 125.9 L155.3 126.0 L154.3 126.2 L153.3 126.3 L152.3 126.4 L151.3 126.6 L150.3 126.7 L149.3 126.9 L148.3 127.1 L147.3 127.2 L146.3 127.4 L145.3 127.6 L144.3 127.8 L143.3 128.0 L142.3 128.2 L141.3 128.4 L140.3 128.6 L139.3 128.9 L138.3 129.1 L137.3 129.4 L136.3 129.6 L135.3 129.9 L134.3 130.2 L133.3 130.5 L132.3 130.8 L131.3 131.1 L130.3 131.4 L129.3 131.8 L128.3 132.1 L127.3 132.5 L126.3 132.9 L125.3 133.3 L124.3 133.7 L123.3 134.1 L122.3 134.5 L121.3 134.9 L120.3 135.3 L119.3 135.8 L118.3 136.2 L117.3 136.6 L116.3 137.1 L115.3 137.5 L114.3 137.9 L113.3 138.4 L112.3 138.8 L111.3 139.3 L110.3 139.7 L109.3 140.1 L108.3 140.6 L107.3 141.1 L106.3 141.5 L105.3 142.0 L104.3 142.5 L103.3 143.0 L102.3 143.5 L101.3 144.0 L100.3 144.5 L99.3 145.0 L98.3 145.6 L97.3 146.2 L96.3 146.8 L95.3 147.4 L94.3 148.0 L93.3 148.7 L92.3 149.4 L91.3 150.0 L90.3 150.8 L89.3 151.5 L88.3 152.2 L87.3 153.0 L86.3 153.8 L85.3 154.6 L84.3 155.5 L83.3 156.4 L82.3 157.3 L81.3 158.2 L80.3 159.1 L79.3 160.1 L78.3 161.1 L77.3 162.2 L76.3 163.3 L75.3 164.4 L74.3 165.6 L73.3 166.8 L72.3 168.1 L71.3 169.4 L70.3 170.8 L69.3 172.2 L68.3 173.7 L67.3 175.4 L66.3 177.1 L65.3 178.4 L64.3 179.9 L63.3 181.2 L62.3 182.7 L61.3 184.9 L60.3 187.7 L59.3 190.8 L58.3 193.7" stroke="#8000ff"/>
<path d="M58.3 193.0 L59.3 182.6 L60.3 174.4 L61.3 168.4 L62.3 163.3 L63.3 158.8 L64.3 154.7 L65.3 151.7 L66.3 149.0 L67.3 146.5 L68.3 144.2 L69.3 141.9 L70.3 139.8 L71.3 137.7 L72.3 135.6 L73.3 133.8 L74.3 132.0 L75.3 130.3 L76.3 128.8 L77.3 127.3 L78.3 126.0 L79.3 124.7 L80.3 123.6 L81.3 122.5 L82.3 121.5 L83.3 120.5 L84.3 119.5 L85.3 118.5 L86.3 117.5 L87.3 116.5 L88.3 115.6 L89.3 114.6 L90.3 113.7 L91.3 112.7 L92.3 111.9 L93.3 111.0 L94.3 110.2 L95.3 109.5 L96.3 108.7 L97.3 108.0 L98.3 107.3 L99.3 106.7 L100.3 106.0 L101.3 105.4 L102.3 104.8 L103.3 104.2 L104.3 103.6 L105.3 103.1 L106.3 102.6 L107.3 102.1 L108.3 101.6 L109.3 101.1 L110.3 100.7 L111.3 100.2 L112.3 99.8 L113.3 99.4 L114.3 99.0 L115.3 98.6 L116.3 98.3 L117.3 97.9 L118.3 97.6 L119.3 97.2 L120.3 96.9 L121.3 96.6 L122.3 96.3 L123.3 96.0 L124.3 95.7 L125.3 95.4 L126.3 95.1 L127.3 94.8 L128.3 94.5 L129.3 94.2 L130.3 94.0 L131.3 93.7 L132.3 93.4 L133.3 93.1 L134.3 92.9 L135.3 92.6 L136.3 92.4 L137.3 92.1 L138.3 91.9 L139.3 91.6 L140.3 91.4 L141.3 91.2 L142.3 90.9 L143.3 90.7 L144.3 90.5 L145.3 90.3 L146.3 90.1 L147.3 89.8 L148.3 89.6 L149.3 89.4 L150.3 89.2 L151.3 89.0 L152.3 88.8 L153.3 88.6 L154.3 88.3 L155.3 88.1 L156.3 87.9 L157.3 87.7 L158.3 87.4 L159.3 87.2 L160.3 86.9 L161.3 86.7 L162.3 86.5 L163.3 86.2 L164.3 86.0 L165.3 85.7 L166.3 85.5 L167.3 85.3 L168.3 85.1 L169.3 84.9 L170.3 84.8 L171.3 84.6 L172.3 84.4 L173.3 84.3 L174.3 84.2 L175.3 84.0 L176.3 83.9 L177.3 83.8 L178.3 83.7 L179.3 83.6 L180.3 83.5 L181.3 83.4 L182.3 83.3 L183.3 83.2 L184.3 83.1 L185.3 83.0 L186.3 82.8 L187.3 82.7 L188.3 82.6 L189.3 82.4 L190.3 82.3 L191.3 82.1 L192.3 81.8 L193.3 81.5 L194.3 81.1 L195.3 80.7 L196.3 80.3 L197.3 79.8 L198.3 79.3 L199.3 78.8 L200.3 78.3 L201.3 77.8 L202.3 77.3 L203.3 76.8 L204.3 76.2 L205.3 75.6 L206.3 75.0 L207.3 74.3 L208.3 73.6 L209.3 72.9 L210.3 72.2 L211.3 71.6 L212.3 70.9 L213.3 70.2 L214.3 69.4 L215.3 68.7 L216.3 67.8 L217.3 67.0 L218.3 66.1 L219.3 65.2 L220.3 64.3 L221.3 63.4 L222.3 62.5 L223.3 61.5 L224.3 60.6 L225.3 59.6 L226.3 58.7 L227.3 57.7 L228.3 56.7 L229.3 55.6 L230.3 54.4 L231.3 53.1 L232.3 51.6 L233.3 50.1 L234.3 48.6 L235.3 47.3 L236.3 45.9 L237.3 44.6 L238.3 43.3 L239.3 42.2 L240.3 41.2 L241.3 40.3 L242.3 39.6 L243.3 38.9 L244.3 38.3 L245.3 37.7 L246.3 37.2 L247.3 36.7 L248.3 36.3 L249.3 36.0 L250.3 35.6 L251.3 35.3 L252.3 35.0 L253.3 34.8 L254.3 34.5 L255.3 34.3 L256.3 34.1 L257.3 33.9 L258.3 33.7 L259.3 33.6 L260.3 33.4 L261.3 33.3 L262.3 33.1 L263.3 33.0 L264.3 32.8 L265.3 32.7 L266.3 32.6 L267.3 32.4 L268.0 32.3 L268.5 32.3 L269.0 32.2 L269.5 32.1 L270.0 32.1 L270.5 32.0 L271.0 31.9 L271.5 31.9 L272.0 31.8 L272.5 31.7 L273.0 31.6 L273.5 31.5 L274.0 31.4 L274.5 31.2 L275.0 31.1 L275.5 30.9 L276.0 30.7 L276.5 30.5 L277.0 30.3 L277.5 30.0 L278.0 29.8 L278.5 29.5 L279.0 29.3 L279.5 29.0 L280.0 28.7 L280.5 28.5 L281.0 28.2 L281.5 27.9 L282.0 27.6 L282.5 27.4 L283.0 27.1" stroke="#000000"/>
<path d="M283.0 27.1 L282.8 27.4 L282.5 27.9 L282.2 28.6 L282.0 29.4 L281.8 30.5 L281.5 31.7 L281.2 33.0 L281.0 34.4 L280.8 35.9 L280.5 37.4 L280.2 39.0 L280.0 40.5 L279.8 42.1 L279.5 43.6 L279.2 45.1 L279.0 46.6 L278.8 48.0 L278.5 49.4 L278.2 50.7 L278.0 52.0 L277.8 53.2 L277.5 54.4 L277.2 55.5 L277.0 56.6 L276.8 57.6 L276.5 58.6 L276.2 59.5 L276.0 60.4 L275.8 61.2 L275.5 62.0 L275.2 62.8 L275.0 63.5 L274.8 64.2 L274.5 64.9 L274.2 65.5 L274.0 66.1 L273.8 66.7 L273.5 67.3 L273.2 67.8 L273.0 68.3 L272.8 68.8 L272.5 69.3 L272.2 69.8 L272.0 70.2 L271.8 70.7 L271.5 71.1 L271.2 71.5 L271.0 71.9 L270.8 72.3 L270.5 72.6 L270.2 73.0 L270.0 73.4 L269.8 73.7 L269.5 74.1 L269.2 74.4 L269.0 74.7 L268.8 75.0 L268.5 75.3 L268.2 75.6 L268.0 75.9 L267.8 76.2 L267.5 76.5 L267.2 76.8 L267.0 77.1 L266.8 77.3 L266.5 77.6 L266.2 77.9 L266.0 78.1 L265.8 78.4 L265.5 78.6 L265.2 78.9 L265.0 79.1 L264.8 79.4 L264.5 79.6 L264.2 79.8 L264.0 80.1 L263.8 80.3 L263.5 80.5 L263.2 80.7 L263.0 81.0 L262.8 81.2 L262.5 81.4 L262.2 81.6 L262.0 81.8 L261.3 82.4 L260.3 83.2 L259.3 84.0 L258.3 84.8 L257.3 85.5 L256.3 86.3 L255.3 87.0 L254.3 87.7 L253.3 88.5 L252.3 89.2 L251.3 89.9 L250.3 90.6 L249.3 91.3 L248.3 92.0 L247.3 92.7 L246.3 93.4 L245.3 94.1 L244.3 94.8 L243.3 95.4 L242.3 96.1 L241.3 96.8 L240.3 97.5 L239.3 98.1 L238.3 98.8 L237.3 99.5 L236.3 100.1 L235.3 100.8 L234.3 101.5 L233.3 102.1 L232.3 102.8 L231.3 103.4 L230.3 104.1 L229.3 104.7 L228.3 105.4 L227.3 106.1 L226.3 106.7 L225.3 107.4 L224.3 108.1 L223.3 108.8 L222.3 109.6 L221.3 110.4 L220.3 111.2 L219.3 111.6 L218.3 111.9 L217.3 112.3 L216.3 112.6 L215.3 112.9 L214.3 113.3 L213.3 113.6 L212.3 114.0 L211.3 114.3 L210.3 114.7 L209.3 115.0 L208.3 115.3 L207.3 115.7 L206.3 116.0 L205.3 116.3 L204.3 116.6 L203.3 117.0 L202.3 117.3 L201.3 117.6 L200.3 117.9 L199.3 118.2 L198.3 118.5 L197.3 118.8 L196.3 119.1 L195.3 119.4 L194.3 119.8 L193.3 120.1 L192.3 120.4 L191.3 120.7 L190.3 121.0 L189.3 121.2 L188.3 121.4 L187.3 121.6 L186.3 121.8 L185.3 122.0 L184.3 122.2 L183.3 122.4 L182.3 122.6 L181.3 122.9 L180.3 123.1 L179.3 123.3 L178.3 123.5 L177.3 123.6 L176.3 123.8 L175.3 124.0 L174.3 124.2 L173.3 124.3 L172.3 124.5 L171.3 124.6 L170.3 124.8 L169.3 124.9 L168.3 125.0 L167.3 125.1 L166.3 125.3 L165.3 125.4 L164.3 125.5 L163.3 125.6 L162.3 125.7 L161.3 125.8 L160.3 125.9 L159.3 126.1 L158.3 126.2 L157.3 126.3 L156.3 126.4 L155.3 126.6 L154.3 126.7 L153.3 126.8 L152.3 127.0 L151.3 127.1 L150.3 127.3 L149.3 127.4 L148.3 127.6 L147.3 127.8 L146.3 127.9 L145.3 128.1 L144.3 128.3 L143.3 128.5 L142.3 128.7 L141.3 129.0 L140.3 129.2 L139.3 129.4 L138.3 129.7 L137.3 129.9 L136.3 130.2 L135.3 130.5 L134.3 130.8 L133.3 131.0 L132.3 131.4 L131.3 131.7 L130.3 132.0 L129.3 132.3 L128.3 132.7 L127.3 133.1 L126.3 133.4 L125.3 133.8 L124.3 134.2 L123.3 134.6 L122.3 135.1 L121.3 135.5 L120.3 135.9 L119.3 136.3 L118.3 136.8 L117.3 137.2 L116.3 137.6 L115.3 138.1 L114.3 138.5 L113.3 138.9 L112.3 139.4 L111.3 139.8 L110.3 140.3 L109.3 140.7 L108.3 141.2 L107.3 141.6 L106.3 142.1 L105.3 142.6 L104.3 143.0 L103.3 143.5 L102.3 144.0 L101.3 144.6 L100.3 145.1 L99.3 145.6 L98.3 146.2 L97.3 146.8 L96.3 147.4 L95.3 148.0 L94.3 148.6 L93.3 149.3 L92.3 150.0 L91.3 150.7 L90.3 151.4 L89.3 152.1 L88.3 152.9 L87.3 153.7 L86.3 154.5 L85.3 155.3 L84.3 156.1 L83.3 157.0 L82.3 157.9 L81.3 158.9 L80.3 159.8 L79.3 160.8 L78.3 161.8 L77.3 162.9 L76.3 164.0 L75.3 165.2 L74.3 166.4 L73.3 167.6 L72.3 168.8 L71.3 170.2 L70.3 171.6 L69.3 173.1 L68.3 174.6 L67.3 176.2 L66.3 178.1 L65.3 179.3 L64.3 180.7 L63.3 181.9 L62.3 183.2 L61.3 185.3 L60.3 188.1 L59.3 191.0 L58.3 193.8" stroke="#000000"/>
<path d="M58.3 193.0 L59.3 182.6 L60.3 174.2 L61.3 168.1 L62.3 163.0 L63.3 158.4 L64.3 154.2 L65.3 151.2 L66.3 148.5 L67.3 146.0 L68.3 143.7 L69.3 141.5 L70.3 139.3 L71.3 137.2 L72.3 135.2 L73.3 133.3 L74.3 131.6 L75.3 129.9 L76.3 128.3 L77.3 126.9 L78.3 125.5 L79.3 124.3 L80.3 123.1 L81.3 122.0 L82.3 121.0 L83.3 120.0 L84.3 119.0 L85.3 118.0 L86.3 117.1 L87.3 116.1 L88.3 115.1 L89.3 114.1 L90.3 113.2 L91.3 112.3 L92.3 111.4 L93.3 110.6 L94.3 109.8 L95.3 109.0 L96.3 108.3 L97.3 107.6 L98.3 106.9 L99.3 106.2 L100.3 105.6 L101.3 105.0 L102.3 104.4 L103.3 103.8 L104.3 103.2 L105.3 102.7 L106.3 102.2 L107.3 101.7 L108.3 101.2 L109.3 100.7 L110.3 100.3 L111.3 99.9 L112.3 99.4 L113.3 99.0 L114.3 98.7 L115.3 98.3 L116.3 97.9 L117.3 97.6 L118.3 97.2 L119.3 96.9 L120.3 96.6 L121.3 96.3 L122.3 96.0 L123.3 95.7 L124.3 95.4 L125.3 95.1 L126.3 94.8 L127.3 94.5 L128.3 94.2 L129.3 93.9 L130.3 93.6 L131.3 93.3 L132.3 93.1 L133.3 92.8 L134.3 92.5 L135.3 92.3 L136.3 92.0 L137.3 91.8 L138.3 91.5 L139.3 91.3 L140.3 91.1 L141.3 90.8 L142.3 90.6 L143.3 90.4 L144.3 90.2 L145.3 89.9 L146.3 89.7 L147.3 89.5 L148.3 89.3 L149.3 89.1 L150.3 88.9 L151.3 88.6 L152.3 88.4 L153.3 88.2 L154.3 88.0 L155.3 87.8 L156.3 87.6 L157.3 87.3 L158.3 87.1 L159.3 86.8 L160.3 86.6 L161.3 86.4 L162.3 86.1 L163.3 85.9 L164.3 85.6 L165.3 85.4 L166.3 85.2 L167.3 85.0 L168.3 84.8 L169.3 84.6 L170.3 84.4 L171.3 84.3 L172.3 84.1 L173.3 84.0 L174.3 83.8 L175.3 83.7 L176.3 83.6 L177.3 83.5 L178.3 83.4 L179.3 83.3 L180.3 83.2 L181.3 83.1 L182.3 83.0 L183.3 82.8 L184.3 82.7 L185.3 82.6 L186.3 82.5 L187.3 82.3 L188.3 82.2 L189.3 82.0 L190.3 81.9 L191.3 81.6 L192.3 81.3 L193.3 81.0 L194.3 80.6 L195.3 80.1 L196.3 79.7 L197.3 79.1 L198.3 78.5 L199.3 77.9 L200.3 77.4 L201.3 76.8 L202.3 76.2 L203.3 75.7 L204.3 75.0 L205.3 74.4 L206.3 73.7 L207.3 72.9 L208.3 72.1 L209.3 71.3 L210.3 70.5 L211.3 69.7 L212.3 68.9 L213.3 68.1 L214.3 67.3 L215.3 66.5 L216.3 65.5 L217.3 64.5 L218.3 63.5 L219.3 62.5 L220.3 61.5 L221.3 60.5 L222.3 59.5 L223.3 58.4 L224.3 57.4 L225.3 56.3 L226.3 55.2 L227.3 54.1 L228.3 53.0 L229.3 51.7 L230.3 50.4 L231.3 48.9 L232.3 47.2 L233.3 45.5 L234.3 43.8 L235.3 42.3 L236.3 40.8 L237.3 39.3 L238.3 37.8 L239.3 36.5 L240.3 35.4 L241.3 34.4 L242.3 33.6 L243.3 32.8 L244.3 32.1 L245.3 31.5 L246.3 30.9 L247.3 30.4 L248.3 30.0 L249.3 29.6 L250.3 29.2 L251.3 28.9 L252.3 28.6 L253.3 28.3 L254.3 28.0 L255.3 27.8 L256.3 27.6 L257.3 27.4 L258.3 27.2 L259.3 27.1 L260.3 26.9 L261.3 26.7 L262.3 26.6 L263.3 26.4 L264.3 26.3 L265.3 26.2 L266.3 26.0 L267.3 25.9 L268.0 25.8 L268.5 25.8 L269.0 25.7 L269.5 25.6 L270.0 25.6 L270.5 25.5 L271.0 25.4 L271.5 25.4 L272.0 25.3 L272.5 25.2 L273.0 25.1 L273.5 25.0 L274.0 24.9 L274.5 24.8 L275.0 24.7 L275.5 24.5 L276.0 24.4 L276.5 24.2 L277.0 24.1 L277.5 23.9 L278.0 23.8 L278.5 23.6 L279.0 23.4 L279.5 23.3 L280.0 23.2 L280.5 23.0 L281.0 22.9 L281.5 22.9 L282.0 22.8 L282.5 22.8 L283.0 22.8" stroke="#ff0000"/>
<path d="M283.0 22.8 L282.8 23.0 L282.5 23.5 L282.2 24.3 L282.0 25.2 L281.8 26.2 L281.5 27.5 L281.2 28.8 L281.0 30.3 L280.8 31.8 L280.5 33.4 L280.2 35.0 L280.0 36.6 L279.8 38.2 L279.5 39.8 L279.2 41.3 L279.0 42.8 L278.8 44.3 L278.5 45.7 L278.2 47.1 L278.0 48.4 L277.8 49.7 L277.5 50.9 L277.2 52.0 L277.0 53.1 L276.8 54.2 L276.5 55.2 L276.2 56.1 L276.0 57.0 L275.8 57.9 L275.5 58.7 L275.2 59.5 L275.0 60.3 L274.8 61.0 L274.5 61.7 L274.2 62.3 L274.0 63.0 L273.8 63.6 L273.5 64.2 L273.2 64.7 L273.0 65.3 L272.8 65.8 L272.5 66.3 L272.2 66.8 L272.0 67.3 L271.8 67.7 L271.5 68.2 L271.2 68.6 L271.0 69.0 L270.8 69.4 L270.5 69.8 L270.2 70.2 L270.0 70.6 L269.8 71.0 L269.5 71.3 L269.2 71.7 L269.0 72.0 L268.8 72.3 L268.5 72.7 L268.2 73.0 L268.0 73.3 L267.8 73.6 L267.5 73.9 L267.2 74.2 L267.0 74.5 L266.8 74.8 L266.5 75.1 L266.2 75.3 L266.0 75.6 L265.8 75.9 L265.5 76.2 L265.2 76.4 L265.0 76.7 L264.8 76.9 L264.5 77.2 L264.2 77.4 L264.0 77.7 L263.8 77.9 L263.5 78.2 L263.2 78.4 L263.0 78.7 L262.8 78.9 L262.5 79.1 L262.2 79.3 L262.0 79.6 L261.3 80.2 L260.3 81.1 L259.3 81.9 L258.3 82.8 L257.3 83.6 L256.3 84.4 L255.3 85.2 L254.3 86.0 L253.3 86.8 L252.3 87.5 L251.3 88.3 L250.3 89.1 L249.3 89.9 L248.3 90.6 L247.3 91.4 L246.3 92.1 L245.3 92.9 L244.3 93.6 L243.3 94.4 L242.3 95.1 L241.3 95.9 L240.3 96.6 L239.3 97.4 L238.3 98.1 L237.3 98.8 L236.3 99.5 L235.3 100.3 L234.3 101.0 L233.3 101.7 L232.3 102.4 L231.3 103.1 L230.3 103.8 L229.3 104.6 L228.3 105.3 L227.3 106.0 L226.3 106.8 L225.3 107.5 L224.3 108.2 L223.3 109.1 L222.3 110.0 L221.3 110.9 L220.3 111.8 L219.3 112.2 L218.3 112.6 L217.3 113.0 L216.3 113.4 L215.3 113.8 L214.3 114.2 L213.3 114.6 L212.3 115.0 L211.3 115.4 L210.3 115.8 L209.3 116.2 L208.3 116.6 L207.3 117.0 L206.3 117.3 L205.3 117.7 L204.3 118.1 L203.3 118.5 L202.3 118.8 L201.3 119.2 L200.3 119.6 L199.3 119.9 L198.3 120.3 L197.3 120.7 L196.3 121.0 L195.3 121.4 L194.3 121.7 L193.3 122.1 L192.3 122.4 L191.3 122.8 L190.3 123.1 L189.3 123.4 L188.3 123.6 L187.3 123.8 L186.3 124.0 L185.3 124.2 L184.3 124.4 L183.3 124.6 L182.3 124.8 L181.3 125.0 L180.3 125.2 L179.3 125.4 L178.3 125.6 L177.3 125.8 L176.3 126.0 L175.3 126.2 L174.3 126.3 L173.3 126.5 L172.3 126.7 L171.3 126.8 L170.3 126.9 L169.3 127.1 L168.3 127.2 L167.3 127.3 L166.3 127.4 L165.3 127.5 L164.3 127.6 L163.3 127.8 L162.3 127.9 L161.3 128.0 L160.3 128.1 L159.3 128.2 L158.3 128.3 L157.3 128.5 L156.3 128.6 L155.3 128.7 L154.3 128.9 L153.3 129.0 L152.3 129.1 L151.3 129.3 L150.3 129.5 L149.3 129.6 L148.3 129.8 L147.3 129.9 L146.3 130.1 L145.3 130.3 L144.3 130.5 L143.3 130.7 L142.3 130.9 L141.3 131.2 L140.3 131.4 L139.3 131.6 L138.3 131.9 L137.3 132.1 L136.3 132.4 L135.3 132.7 L134.3 133.0 L133.3 133.3 L132.3 133.6 L131.3 133.9 L130.3 134.3 L129.3 134.6 L128.3 135.0 L127.3 135.3 L126.3 135.7 L125.3 136.1 L124.3 136.5 L123.3 136.9 L122.3 137.4 L121.3 137.8 L120.3 138.2 L119.3 138.7 L118.3 139.1 L117.3 139.5 L116.3 140.0 L115.3 140.4 L114.3 140.8 L113.3 141.3 L112.3 141.7 L111.3 142.2 L110.3 142.6 L109.3 143.1 L108.3 143.5 L107.3 144.0 L106.3 144.4 L105.3 144.9 L104.3 145.4 L103.3 145.9 L102.3 146.4 L101.3 147.0 L100.3 147.5 L99.3 148.1 L98.3 148.6 L97.3 149.2 L96.3 149.9 L95.3 150.5 L94.3 151.1 L93.3 151.8 L92.3 152.5 L91.3 153.2 L90.3 154.0 L89.3 154.7 L88.3 155.5 L87.3 156.3 L86.3 157.2 L85.3 158.0 L84.3 158.9 L83.3 159.8 L82.3 160.7 L81.3 161.7 L80.3 162.7 L79.3 163.7 L78.3 164.8 L77.3 165.9 L76.3 167.1 L75.3 168.3 L74.3 169.5 L73.3 170.8 L72.3 172.1 L71.3 173.5 L70.3 175.0 L69.3 176.6 L68.3 178.2 L67.3 180.0 L66.3 182.0 L65.3 183.0 L64.3 184.2 L63.3 184.8 L62.3 185.6 L61.3 187.1 L60.3 189.3 L59.3 191.7 L58.3 193.9" stroke="#ff0000"/>
</g>
<g class="ax">
<path d="M40.2 0 V209.0 H302.0" />
<path d="M40.2 0.7 H301.5 V212.5" />
<path d="M40.2 208.7 h-6"/>
<path d="M301.5 208.7 h5"/>
<path d="M40.2 194.8 h-3.2"/>
<path d="M301.5 194.8 h3"/>
<path d="M40.2 181.0 h-6"/>
<path d="M301.5 181.0 h5"/>
<path d="M40.2 167.2 h-3.2"/>
<path d="M301.5 167.2 h3"/>
<path d="M40.2 153.3 h-6"/>
<path d="M301.5 153.3 h5"/>
<path d="M40.2 139.4 h-3.2"/>
<path d="M301.5 139.4 h3"/>
<path d="M40.2 125.6 h-6"/>
<path d="M301.5 125.6 h5"/>
<path d="M40.2 111.8 h-3.2"/>
<path d="M301.5 111.8 h3"/>
<path d="M40.2 97.9 h-6"/>
<path d="M301.5 97.9 h5"/>
<path d="M40.2 84.0 h-3.2"/>
<path d="M301.5 84.0 h3"/>
<path d="M40.2 70.2 h-6"/>
<path d="M301.5 70.2 h5"/>
<path d="M40.2 56.4 h-3.2"/>
<path d="M301.5 56.4 h3"/>
<path d="M40.2 42.5 h-6"/>
<path d="M301.5 42.5 h5"/>
<path d="M40.2 28.6 h-3.2"/>
<path d="M301.5 28.6 h3"/>
<path d="M40.2 14.8 h-6"/>
<path d="M301.5 14.8 h5"/>
<path d="M39.8 209.0 v4"/>
<path d="M58.4 209.0 v2.5"/>
<path d="M77.1 209.0 v4"/>
<path d="M95.8 209.0 v2.5"/>
<path d="M114.4 209.0 v4"/>
<path d="M133.0 209.0 v2.5"/>
<path d="M151.7 209.0 v4"/>
<path d="M170.3 209.0 v2.5"/>
<path d="M189.0 209.0 v4"/>
<path d="M207.7 209.0 v2.5"/>
<path d="M226.3 209.0 v4"/>
<path d="M245.0 209.0 v2.5"/>
<path d="M263.6 209.0 v4"/>
<path d="M282.2 209.0 v2.5"/>
<path d="M300.9 209.0 v4"/>
</g>
<text x="31" y="211.6" text-anchor="end" class="tk">-120</text>
<text x="31" y="183.9" text-anchor="end" class="tk">-100</text>
<text x="31" y="156.2" text-anchor="end" class="tk">-80</text>
<text x="31" y="128.5" text-anchor="end" class="tk">-60</text>
<text x="31" y="100.8" text-anchor="end" class="tk">-40</text>
<text x="31" y="73.1" text-anchor="end" class="tk">-20</text>
<text x="31" y="45.4" text-anchor="end" class="tk">0</text>
<text x="31" y="17.7" text-anchor="end" class="tk">20</text>
<text x="39.8" y="222.2" text-anchor="middle" class="tk">-0.8</text>
<text x="77.1" y="222.2" text-anchor="middle" class="tk">-0.6</text>
<text x="114.4" y="222.2" text-anchor="middle" class="tk">-0.4</text>
<text x="151.7" y="222.2" text-anchor="middle" class="tk">-0.2</text>
<text x="189.0" y="222.2" text-anchor="middle" class="tk">0.0</text>
<text x="226.3" y="222.2" text-anchor="middle" class="tk">0.2</text>
<text x="263.6" y="222.2" text-anchor="middle" class="tk">0.4</text>
<text x="300.9" y="222.2" text-anchor="middle" class="tk">0.6</text>
<text x="307" y="7.6" class="lg">Conc.</text>
<text x="307" y="16.6" class="lg">µmol</text>
<text x="307" y="25.6" class="lg">0</text>
<text x="307" y="34.6" class="lg">0.125</text>
<text x="307" y="43.6" class="lg">0.25</text>
<text x="307" y="52.6" class="lg">0.5</text>
<text x="307" y="61.6" class="lg">1</text>
<text x="307" y="71.1" class="lg">1.5</text>
<text x="307" y="80.6" class="lg">2.5</text>
<text x="307" y="89.1" class="lg">4</text>
<text x="307" y="98.6" class="lg">5</text>
<text x="307" y="107.1" class="lg">7.5</text>
<text x="307" y="116.1" class="lg">15</text>
<text x="307" y="125.6" class="lg">25</text>
<text x="307" y="134.1" class="lg">40</text>
<text x="307" y="143.1" class="lg">50</text>
<text x="307" y="152.1" class="lg">75</text>
<text x="307" y="161.1" class="lg">100</text>
<text x="307" y="169.6" class="lg">125</text>
<text x="307" y="178.6" class="lg">150</text>
<text x="307" y="188.1" class="lg">175</text>
<text x="9.8" y="102.6" transform="rotate(-90 9.8 102.6)" text-anchor="middle" style="font-size:11.5px;font-weight:bold;fill:#000">Current / µA</text>
<text x="170" y="238.8" text-anchor="middle" style="font-size:11.6px;font-weight:bold;fill:#000">Potential/V</text>
<text x="276.6" y="191.8" style="font-size:16.3px;font-weight:bold;fill:#000" textLength="20" lengthAdjust="spacingAndGlyphs">(a)</text>
<text x="204.3" y="19.3" style="font-size:9.5px;font-weight:bold;font-style:italic;fill:#000">(i)</text>
<g class="bx">
<path d="M355.3 2.3 V192.3 H601.5" />
<path d="M355.3 3.3 H601.0" style="stroke:#505050;stroke-width:1.3"/><path d="M601.0 2.6999999999999997 V192.9" style="stroke:#585858;stroke-width:1.7"/>
<path d="M355.3 192.0 h-4"/>
<path d="M355.3 180.9 h-2.5"/>
<path d="M355.3 169.8 h-4"/>
<path d="M355.3 158.7 h-2.5"/>
<path d="M355.3 147.6 h-4"/>
<path d="M355.3 136.5 h-2.5"/>
<path d="M355.3 125.4 h-4"/>
<path d="M355.3 114.3 h-2.5"/>
<path d="M355.3 103.2 h-4"/>
<path d="M355.3 92.1 h-2.5"/>
<path d="M355.3 81.0 h-4"/>
<path d="M355.3 69.9 h-2.5"/>
<path d="M355.3 58.8 h-4"/>
<path d="M355.3 47.7 h-2.5"/>
<path d="M355.3 36.6 h-4"/>
<path d="M355.3 25.5 h-2.5"/>
<path d="M355.3 14.4 h-4"/>
<path d="M355.6 192.3 v4"/>
<path d="M367.3 192.3 v2.5"/>
<path d="M379.0 192.3 v4"/>
<path d="M390.7 192.3 v2.5"/>
<path d="M402.4 192.3 v4"/>
<path d="M414.1 192.3 v2.5"/>
<path d="M425.8 192.3 v4"/>
<path d="M437.5 192.3 v2.5"/>
<path d="M449.2 192.3 v4"/>
<path d="M460.9 192.3 v2.5"/>
<path d="M472.6 192.3 v4"/>
<path d="M484.3 192.3 v2.5"/>
<path d="M496.0 192.3 v4"/>
<path d="M507.7 192.3 v2.5"/>
<path d="M519.4 192.3 v4"/>
<path d="M531.1 192.3 v2.5"/>
<path d="M542.8 192.3 v4"/>
<path d="M554.5 192.3 v2.5"/>
<path d="M566.2 192.3 v4"/>
<path d="M577.9 192.3 v2.5"/>
<path d="M589.6 192.3 v4"/>
</g>
<text x="349.6" y="194.7" text-anchor="end" class="tb">10</text>
<text x="349.6" y="172.5" text-anchor="end" class="tb">20</text>
<text x="349.6" y="150.3" text-anchor="end" class="tb">30</text>
<text x="349.6" y="128.1" text-anchor="end" class="tb">40</text>
<text x="349.6" y="105.9" text-anchor="end" class="tb">50</text>
<text x="349.6" y="83.7" text-anchor="end" class="tb">60</text>
<text x="349.6" y="61.5" text-anchor="end" class="tb">70</text>
<text x="349.6" y="39.3" text-anchor="end" class="tb">80</text>
<text x="349.6" y="17.1" text-anchor="end" class="tb">90</text>
<text x="355.6" y="203.6" text-anchor="middle" class="tb">-20</text>
<text x="379.0" y="203.6" text-anchor="middle" class="tb">0</text>
<text x="402.4" y="203.6" text-anchor="middle" class="tb">20</text>
<text x="425.8" y="203.6" text-anchor="middle" class="tb">40</text>
<text x="449.2" y="203.6" text-anchor="middle" class="tb">60</text>
<text x="472.6" y="203.6" text-anchor="middle" class="tb">80</text>
<text x="496.0" y="203.6" text-anchor="middle" class="tb">100</text>
<text x="519.4" y="203.6" text-anchor="middle" class="tb">120</text>
<text x="542.8" y="203.6" text-anchor="middle" class="tb">140</text>
<text x="566.2" y="203.6" text-anchor="middle" class="tb">160</text>
<text x="589.6" y="203.6" text-anchor="middle" class="tb">180</text>
<path d="M380.2 170.7 L380.3 170.5 L380.4 170.2 L380.6 170.0 L381.0 169.6 L381.3 169.1 L382.3 168.5 L383.7 167.6 L384.9 167.1 L390.7 164.9 L396.6 164.9 L408.2 145.8 L425.8 136.9 L437.5 126.5 L466.8 103.2 L496.0 85.4 L525.2 62.8 L554.5 46.4 L583.8 24.6" fill="none" stroke="#222" stroke-width="0.8"/>
<path d="M382 169.4 L583.7 23.3" stroke="#ff2020" stroke-width="1"/>
<rect x="378.2" y="168.7" width="4" height="4" fill="#000"/>
<rect x="378.3" y="168.5" width="4" height="4" fill="#000"/>
<rect x="378.4" y="168.2" width="4" height="4" fill="#000"/>
<rect x="378.6" y="168.0" width="4" height="4" fill="#000"/>
<rect x="379.0" y="167.6" width="4" height="4" fill="#000"/>
<rect x="379.3" y="167.1" width="4" height="4" fill="#000"/>
<rect x="380.3" y="166.5" width="4" height="4" fill="#000"/>
<rect x="381.7" y="165.6" width="4" height="4" fill="#000"/>
<rect x="382.9" y="165.1" width="4" height="4" fill="#000"/>
<rect x="388.7" y="162.9" width="4" height="4" fill="#000"/>
<rect x="394.6" y="162.9" width="4" height="4" fill="#000"/>
<rect x="406.2" y="143.8" width="4" height="4" fill="#000"/>
<rect x="423.8" y="134.9" width="4" height="4" fill="#000"/>
<rect x="435.5" y="124.5" width="4" height="4" fill="#000"/>
<rect x="464.8" y="101.2" width="4" height="4" fill="#000"/>
<rect x="494.0" y="83.4" width="4" height="4" fill="#000"/>
<rect x="523.2" y="60.8" width="4" height="4" fill="#000"/>
<rect x="552.5" y="44.4" width="4" height="4" fill="#000"/>
<rect x="581.8" y="22.6" width="4" height="4" fill="#000"/>
<rect x="363.8" y="12.3" width="72.3" height="23.8" fill="#fff" stroke="#555" stroke-width="1.1"/>
<text x="365" y="22.5" style="font-size:8.6px;fill:#111">R<tspan dy="-3.5" style="font-size:5px">2</tspan><tspan dy="3.5">=0.9968</tspan></text>
<text x="365" y="32.6" style="font-size:8.6px;fill:#111">y= 0.3828x+19.45</text>
<text x="335.4" y="104" transform="rotate(-90 335.4 104)" text-anchor="middle" style="font-size:9px;fill:#111">Current/µA</text>
<text x="478" y="218.4" text-anchor="middle" style="font-size:8.5px;fill:#222">[Galic acid / µmol]</text>
<text x="573" y="170.4" style="font-size:16.3px;font-weight:bold;fill:#000" textLength="20.2" lengthAdjust="spacingAndGlyphs">(b)</text>
</svg>
</body></html>
